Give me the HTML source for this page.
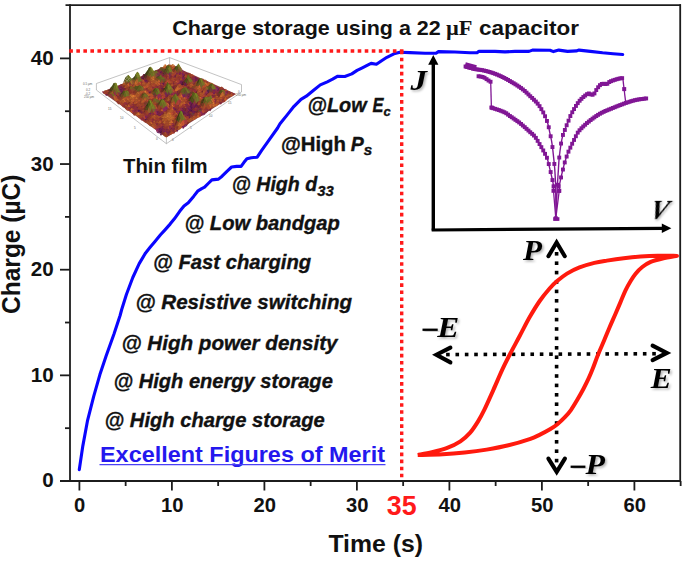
<!DOCTYPE html>
<html><head><meta charset="utf-8"><style>
html,body{margin:0;padding:0;background:#fff;}
svg{display:block;}
</style></head><body>
<svg width="685" height="563" viewBox="0 0 685 563">
<rect width="685" height="563" fill="#fff"/>
<defs><filter id="sh" x="-30%" y="-30%" width="160%" height="160%"><feDropShadow dx="1.6" dy="1.6" stdDeviation="0.9" flood-color="#000" flood-opacity="0.3"/></filter></defs>
<g stroke="#9a9a9a" stroke-width="0.6" fill="none">
<polyline points="96.4,83.5 169.6,57.6 241.5,84.6"/>
<line x1="169.6" y1="57.6" x2="169.6" y2="66"/>
<line x1="96.4" y1="83.5" x2="96.4" y2="90"/>
<line x1="241.5" y1="84.6" x2="241.5" y2="92"/>
<polyline points="96.4,90 166.4,143.7 241.5,92"/>
<line x1="166.4" y1="138" x2="166.4" y2="143.7"/>
</g>
<polygon points="170.0,64.5 236.0,94.0 166.5,137.5 102.0,92.0" fill="#8a3e38"/>
<g>
<path d="M170.0,65.0 L171.4,65.9 L170.0,65.0 L168.5,64.3Z" fill="#af462d"/>
<path d="M168.5,64.3 L170.0,65.0 L168.5,65.2 L167.0,66.0Z" fill="#a75624"/>
<path d="M171.4,65.9 L172.9,64.0 L171.4,65.0 L170.0,65.0Z" fill="#903f22"/>
<path d="M167.0,66.0 L168.5,65.2 L167.0,66.0 L165.6,64.3Z" fill="#ad4c29"/>
<path d="M170.0,65.0 L171.4,65.0 L169.9,65.7 L168.5,65.2Z" fill="#b15c26"/>
<path d="M172.9,64.0 L174.3,65.1 L172.8,65.9 L171.4,65.0Z" fill="#c26c2a"/>
<path d="M165.6,64.3 L167.0,66.0 L165.5,67.4 L164.1,64.7Z" fill="#cf6c2c"/>
<path d="M168.5,65.2 L169.9,65.7 L168.4,67.5 L167.0,66.0Z" fill="#ad5325"/>
<path d="M171.4,65.0 L172.8,65.9 L171.3,66.4 L169.9,65.7Z" fill="#c0682a"/>
<path d="M174.3,65.1 L175.7,66.8 L174.3,68.2 L172.8,65.9Z" fill="#b8532b"/>
<path d="M164.1,64.7 L165.5,67.4 L164.0,66.8 L162.6,68.1Z" fill="#ba6b29"/>
<path d="M167.0,66.0 L168.4,67.5 L167.0,67.0 L165.5,67.4Z" fill="#b86128"/>
<path d="M169.9,65.7 L171.3,66.4 L169.9,68.7 L168.4,67.5Z" fill="#9e4924"/>
<path d="M172.8,65.9 L174.3,68.2 L172.8,67.4 L171.3,66.4Z" fill="#d36e2d"/>
<path d="M175.7,66.8 L177.2,67.8 L175.7,67.5 L174.3,68.2Z" fill="#a34b25"/>
<path d="M162.6,68.1 L164.0,66.8 L162.6,67.2 L161.1,68.3Z" fill="#8b3e21"/>
<path d="M165.5,67.4 L167.0,67.0 L165.5,68.1 L164.0,66.8Z" fill="#a84c27"/>
<path d="M168.4,67.5 L169.9,68.7 L168.4,69.6 L167.0,67.0Z" fill="#a53834"/>
<path d="M171.3,66.4 L172.8,67.4 L171.3,69.0 L169.9,68.7Z" fill="#9e4b23"/>
<path d="M174.3,68.2 L175.7,67.5 L174.2,69.6 L172.8,67.4Z" fill="#802641"/>
<path d="M177.2,67.8 L178.6,67.8 L177.1,68.7 L175.7,67.5Z" fill="#93322f"/>
<path d="M161.1,68.3 L162.6,67.2 L161.1,68.4 L159.7,68.3Z" fill="#873424"/>
<path d="M164.0,66.8 L165.5,68.1 L164.0,67.7 L162.6,67.2Z" fill="#c76b2b"/>
<path d="M167.0,67.0 L168.4,69.6 L166.9,70.2 L165.5,68.1Z" fill="#b84d2e"/>
<path d="M169.9,68.7 L171.3,69.0 L169.8,69.4 L168.4,69.6Z" fill="#8c3227"/>
<path d="M172.8,67.4 L174.2,69.6 L172.7,69.2 L171.3,69.0Z" fill="#b65628"/>
<path d="M175.7,67.5 L177.1,68.7 L175.6,67.6 L174.2,69.6Z" fill="#9f4e22"/>
<path d="M178.6,67.8 L180.0,69.0 L178.6,66.6 L177.1,68.7Z" fill="#a64b26"/>
<path d="M159.7,68.3 L161.1,68.4 L159.6,68.4 L158.2,69.9Z" fill="#8c3e21"/>
<path d="M162.6,67.2 L164.0,67.7 L162.5,67.9 L161.1,68.4Z" fill="#a45123"/>
<path d="M165.5,68.1 L166.9,70.2 L165.4,69.7 L164.0,67.7Z" fill="#bf4e30"/>
<path d="M168.4,69.6 L169.8,69.4 L168.3,70.2 L166.9,70.2Z" fill="#7c2734"/>
<path d="M171.3,69.0 L172.7,69.2 L171.2,70.0 L169.8,69.4Z" fill="#963928"/>
<path d="M174.2,69.6 L175.6,67.6 L174.2,68.8 L172.7,69.2Z" fill="#782926"/>
<path d="M177.1,68.7 L178.6,66.6 L177.1,66.3 L175.6,67.6Z" fill="#5f3f23"/>
<path d="M180.0,69.0 L181.5,68.7 L180.0,66.3 L178.6,66.6Z" fill="#8c4b2a"/>
<path d="M158.2,69.9 L159.6,68.4 L158.1,70.9 L156.7,70.0Z" fill="#671c3e"/>
<path d="M161.1,68.4 L162.5,67.9 L161.0,67.0 L159.6,68.4Z" fill="#854a21"/>
<path d="M164.0,67.7 L165.4,69.7 L163.9,68.6 L162.5,67.9Z" fill="#af572b"/>
<path d="M166.9,70.2 L168.3,70.2 L166.9,69.5 L165.4,69.7Z" fill="#91312f"/>
<path d="M169.8,69.4 L171.2,70.0 L169.8,70.8 L168.3,70.2Z" fill="#8a2e2e"/>
<path d="M172.7,69.2 L174.2,68.8 L172.7,70.6 L171.2,70.0Z" fill="#883225"/>
<path d="M175.6,67.6 L177.1,66.3 L175.6,66.2 L174.2,68.8Z" fill="#4f4717"/>
<path d="M178.6,66.6 L180.0,66.3 L178.5,63.5 L177.1,66.3Z" fill="#585e1c"/>
<path d="M181.5,68.7 L182.9,70.5 L181.4,68.3 L180.0,66.3Z" fill="#9e5a2d"/>
<path d="M156.7,70.0 L158.1,70.9 L156.6,71.8 L155.2,70.8Z" fill="#882c38"/>
<path d="M159.6,68.4 L161.0,67.0 L159.6,69.5 L158.1,70.9Z" fill="#613019"/>
<path d="M162.5,67.9 L163.9,68.6 L162.5,68.7 L161.0,67.0Z" fill="#6c6324"/>
<path d="M165.4,69.7 L166.9,69.5 L165.4,68.9 L163.9,68.6Z" fill="#8a4328"/>
<path d="M168.3,70.2 L169.8,70.8 L168.3,69.8 L166.9,69.5Z" fill="#8e2c41"/>
<path d="M171.2,70.0 L172.7,70.6 L171.2,70.4 L169.8,70.8Z" fill="#933727"/>
<path d="M174.2,68.8 L175.6,66.2 L174.1,69.4 L172.7,70.6Z" fill="#573216"/>
<path d="M177.1,66.3 L178.5,63.5 L177.0,65.8 L175.6,66.2Z" fill="#474c16"/>
<path d="M180.0,66.3 L181.4,68.3 L179.9,67.8 L178.5,63.5Z" fill="#767d25"/>
<path d="M182.9,70.5 L184.3,71.6 L182.9,72.4 L181.4,68.3Z" fill="#821f65"/>
<path d="M155.2,70.8 L156.6,71.8 L155.2,72.0 L153.7,71.0Z" fill="#8c2c3c"/>
<path d="M158.1,70.9 L159.6,69.5 L158.1,72.2 L156.6,71.8Z" fill="#5e193c"/>
<path d="M161.0,67.0 L162.5,68.7 L161.0,71.1 L159.6,69.5Z" fill="#654f20"/>
<path d="M163.9,68.6 L165.4,68.9 L163.9,69.9 L162.5,68.7Z" fill="#5f5b20"/>
<path d="M166.9,69.5 L168.3,69.8 L166.8,66.3 L165.4,68.9Z" fill="#6d5f20"/>
<path d="M169.8,70.8 L171.2,70.4 L169.7,69.6 L168.3,69.8Z" fill="#643d37"/>
<path d="M172.7,70.6 L174.1,69.4 L172.6,71.3 L171.2,70.4Z" fill="#7c2a2f"/>
<path d="M175.6,66.2 L177.0,65.8 L175.5,69.6 L174.1,69.4Z" fill="#434715"/>
<path d="M178.5,63.5 L179.9,67.8 L178.5,67.2 L177.0,65.8Z" fill="#747b24"/>
<path d="M181.4,68.3 L182.9,72.4 L181.4,71.4 L179.9,67.8Z" fill="#83632d"/>
<path d="M184.3,71.6 L185.8,72.8 L184.3,71.6 L182.9,72.4Z" fill="#95342c"/>
<path d="M153.7,71.0 L155.2,72.0 L153.7,71.9 L152.3,73.1Z" fill="#7e2a2a"/>
<path d="M156.6,71.8 L158.1,72.2 L156.6,70.4 L155.2,72.0Z" fill="#8d312a"/>
<path d="M159.6,69.5 L161.0,71.1 L159.5,72.6 L158.1,72.2Z" fill="#832c2d"/>
<path d="M162.5,68.7 L163.9,69.9 L162.4,71.5 L161.0,71.1Z" fill="#5c4723"/>
<path d="M165.4,68.9 L166.8,66.3 L165.3,69.3 L163.9,69.9Z" fill="#3f4314"/>
<path d="M168.3,69.8 L169.7,69.6 L168.2,65.1 L166.8,66.3Z" fill="#707723"/>
<path d="M171.2,70.4 L172.6,71.3 L171.1,68.8 L169.7,69.6Z" fill="#756023"/>
<path d="M174.1,69.4 L175.5,69.6 L174.1,72.5 L172.6,71.3Z" fill="#793922"/>
<path d="M177.0,65.8 L178.5,67.2 L177.0,72.4 L175.5,69.6Z" fill="#50551a"/>
<path d="M179.9,67.8 L181.4,71.4 L179.9,71.3 L178.5,67.2Z" fill="#737626"/>
<path d="M182.9,72.4 L184.3,71.6 L182.8,73.1 L181.4,71.4Z" fill="#711c52"/>
<path d="M185.8,72.8 L187.2,72.9 L185.7,73.5 L184.3,71.6Z" fill="#7f2154"/>
<path d="M152.3,73.1 L153.7,71.9 L152.2,72.4 L150.8,72.9Z" fill="#6c1f3d"/>
<path d="M155.2,72.0 L156.6,70.4 L155.1,71.0 L153.7,71.9Z" fill="#5a2637"/>
<path d="M158.1,72.2 L159.5,72.6 L158.0,72.2 L156.6,70.4Z" fill="#8c2752"/>
<path d="M161.0,71.1 L162.4,71.5 L160.9,74.1 L159.5,72.6Z" fill="#62184a"/>
<path d="M163.9,69.9 L165.3,69.3 L163.8,72.8 L162.4,71.5Z" fill="#4c4b1c"/>
<path d="M166.8,66.3 L168.2,65.1 L166.7,68.3 L165.3,69.3Z" fill="#404413"/>
<path d="M169.7,69.6 L171.1,68.8 L169.7,66.2 L168.2,65.1Z" fill="#777f25"/>
<path d="M172.6,71.3 L174.1,72.5 L172.6,71.2 L171.1,68.8Z" fill="#a05b2d"/>
<path d="M175.5,69.6 L177.0,72.4 L175.5,73.2 L174.1,72.5Z" fill="#9a4129"/>
<path d="M178.5,67.2 L179.9,71.3 L178.4,73.6 L177.0,72.4Z" fill="#7f4923"/>
<path d="M181.4,71.4 L182.8,73.1 L181.3,73.3 L179.9,71.3Z" fill="#a33639"/>
<path d="M184.3,71.6 L185.7,73.5 L184.2,74.8 L182.8,73.1Z" fill="#943137"/>
<path d="M187.2,72.9 L188.7,72.8 L187.2,74.2 L185.7,73.5Z" fill="#79243d"/>
<path d="M150.8,72.9 L152.2,72.4 L150.7,74.6 L149.3,74.6Z" fill="#581542"/>
<path d="M153.7,71.9 L155.1,71.0 L153.6,71.4 L152.2,72.4Z" fill="#6c3621"/>
<path d="M156.6,70.4 L158.0,72.2 L156.5,70.2 L155.1,71.0Z" fill="#6d5f22"/>
<path d="M159.5,72.6 L160.9,74.1 L159.4,74.0 L158.0,72.2Z" fill="#872457"/>
<path d="M162.4,71.5 L163.8,72.8 L162.4,73.9 L160.9,74.1Z" fill="#762930"/>
<path d="M165.3,69.3 L166.7,68.3 L165.3,71.1 L163.8,72.8Z" fill="#3b3f12"/>
<path d="M168.2,65.1 L169.7,66.2 L168.2,68.7 L166.7,68.3Z" fill="#555a19"/>
<path d="M171.1,68.8 L172.6,71.2 L171.1,72.0 L169.7,66.2Z" fill="#747b25"/>
<path d="M174.1,72.5 L175.5,73.2 L174.0,73.0 L172.6,71.2Z" fill="#b5482f"/>
<path d="M177.0,72.4 L178.4,73.6 L176.9,74.5 L175.5,73.2Z" fill="#812547"/>
<path d="M179.9,71.3 L181.3,73.3 L179.8,76.2 L178.4,73.6Z" fill="#7b224a"/>
<path d="M182.8,73.1 L184.2,74.8 L182.8,76.3 L181.3,73.3Z" fill="#7b1e5e"/>
<path d="M185.7,73.5 L187.2,74.2 L185.7,75.3 L184.2,74.8Z" fill="#742044"/>
<path d="M188.7,72.8 L190.1,73.1 L188.6,74.4 L187.2,74.2Z" fill="#893226"/>
<path d="M149.3,74.6 L150.7,74.6 L149.3,72.1 L147.8,74.2Z" fill="#7f2839"/>
<path d="M152.2,72.4 L153.6,71.4 L152.2,72.2 L150.7,74.6Z" fill="#6f2f1b"/>
<path d="M155.1,71.0 L156.5,70.2 L155.1,71.2 L153.6,71.4Z" fill="#4f541a"/>
<path d="M158.0,72.2 L159.4,74.0 L158.0,73.2 L156.5,70.2Z" fill="#79583c"/>
<path d="M160.9,74.1 L162.4,73.9 L160.9,74.5 L159.4,74.0Z" fill="#752144"/>
<path d="M163.8,72.8 L165.3,71.1 L163.8,74.7 L162.4,73.9Z" fill="#482a2c"/>
<path d="M166.7,68.3 L168.2,68.7 L166.7,72.8 L165.3,71.1Z" fill="#505518"/>
<path d="M169.7,66.2 L171.1,72.0 L169.6,72.5 L168.2,68.7Z" fill="#777e25"/>
<path d="M172.6,71.2 L174.0,73.0 L172.5,73.7 L171.1,72.0Z" fill="#a85829"/>
<path d="M175.5,73.2 L176.9,74.5 L175.4,74.4 L174.0,73.0Z" fill="#b44b2d"/>
<path d="M178.4,73.6 L179.8,76.2 L178.4,74.8 L176.9,74.5Z" fill="#a63a31"/>
<path d="M181.3,73.3 L182.8,76.3 L181.3,75.1 L179.8,76.2Z" fill="#9b3b2a"/>
<path d="M184.2,74.8 L185.7,75.3 L184.2,75.7 L182.8,76.3Z" fill="#671a49"/>
<path d="M187.2,74.2 L188.6,74.4 L187.1,74.8 L185.7,75.3Z" fill="#832c2b"/>
<path d="M190.1,73.1 L191.5,74.4 L190.0,74.3 L188.6,74.4Z" fill="#a94d27"/>
<path d="M147.8,74.2 L149.3,72.1 L147.8,73.8 L146.3,75.8Z" fill="#441034"/>
<path d="M150.7,74.6 L152.2,72.2 L150.7,70.6 L149.3,72.1Z" fill="#72382a"/>
<path d="M153.6,71.4 L155.1,71.2 L153.6,70.8 L152.2,72.2Z" fill="#6b521d"/>
<path d="M156.5,70.2 L158.0,73.2 L156.5,72.9 L155.1,71.2Z" fill="#6b7223"/>
<path d="M159.4,74.0 L160.9,74.5 L159.4,74.7 L158.0,73.2Z" fill="#842a49"/>
<path d="M162.4,73.9 L163.8,74.7 L162.3,76.1 L160.9,74.5Z" fill="#7e2445"/>
<path d="M165.3,71.1 L166.7,72.8 L165.2,74.8 L163.8,74.7Z" fill="#5b4023"/>
<path d="M168.2,68.7 L169.6,72.5 L168.1,74.2 L166.7,72.8Z" fill="#5f651e"/>
<path d="M171.1,72.0 L172.5,73.7 L171.0,75.1 L169.6,72.5Z" fill="#7c4636"/>
<path d="M174.0,73.0 L175.4,74.4 L174.0,76.2 L172.5,73.7Z" fill="#a7402c"/>
<path d="M176.9,74.5 L178.4,74.8 L176.9,74.5 L175.4,74.4Z" fill="#a84b27"/>
<path d="M179.8,76.2 L181.3,75.1 L179.8,75.0 L178.4,74.8Z" fill="#7e2640"/>
<path d="M182.8,76.3 L184.2,75.7 L182.7,77.0 L181.3,75.1Z" fill="#5f1552"/>
<path d="M185.7,75.3 L187.1,74.8 L185.6,73.9 L184.2,75.7Z" fill="#913e23"/>
<path d="M188.6,74.4 L190.0,74.3 L188.5,74.6 L187.1,74.8Z" fill="#9c4525"/>
<path d="M191.5,74.4 L193.0,74.6 L191.5,74.3 L190.0,74.3Z" fill="#ab4d27"/>
<path d="M146.3,75.8 L147.8,73.8 L146.3,73.0 L144.9,76.5Z" fill="#451b31"/>
<path d="M149.3,72.1 L150.7,70.6 L149.2,69.8 L147.8,73.8Z" fill="#3e4114"/>
<path d="M152.2,72.2 L153.6,70.8 L152.1,70.3 L150.7,70.6Z" fill="#575d1c"/>
<path d="M155.1,71.2 L156.5,72.9 L155.0,74.5 L153.6,70.8Z" fill="#726828"/>
<path d="M158.0,73.2 L159.4,74.7 L157.9,76.6 L156.5,72.9Z" fill="#6b3946"/>
<path d="M160.9,74.5 L162.3,76.1 L160.8,76.5 L159.4,74.7Z" fill="#98313d"/>
<path d="M163.8,74.7 L165.2,74.8 L163.7,76.2 L162.3,76.1Z" fill="#712238"/>
<path d="M166.7,72.8 L168.1,74.2 L166.6,75.2 L165.2,74.8Z" fill="#78352e"/>
<path d="M169.6,72.5 L171.0,75.1 L169.6,77.3 L168.1,74.2Z" fill="#752a51"/>
<path d="M172.5,73.7 L174.0,76.2 L172.5,76.5 L171.0,75.1Z" fill="#ab422d"/>
<path d="M175.4,74.4 L176.9,74.5 L175.4,78.2 L174.0,76.2Z" fill="#712239"/>
<path d="M178.4,74.8 L179.8,75.0 L178.3,76.8 L176.9,74.5Z" fill="#9d382b"/>
<path d="M181.3,75.1 L182.7,77.0 L181.2,76.9 L179.8,75.0Z" fill="#a53739"/>
<path d="M184.2,75.7 L185.6,73.9 L184.1,77.3 L182.7,77.0Z" fill="#591837"/>
<path d="M187.1,74.8 L188.5,74.6 L187.1,76.5 L185.6,73.9Z" fill="#a13b2c"/>
<path d="M190.0,74.3 L191.5,74.3 L190.0,76.7 L188.5,74.6Z" fill="#9a3c28"/>
<path d="M193.0,74.6 L194.4,76.0 L192.9,76.1 L191.5,74.3Z" fill="#b2462f"/>
<path d="M144.9,76.5 L146.3,73.0 L144.8,74.2 L143.4,73.9Z" fill="#5a1b41"/>
<path d="M147.8,73.8 L149.2,69.8 L147.7,70.2 L146.3,73.0Z" fill="#3d4113"/>
<path d="M150.7,70.6 L152.1,70.3 L150.6,66.7 L149.2,69.8Z" fill="#5d631c"/>
<path d="M153.6,70.8 L155.0,74.5 L153.5,71.1 L152.1,70.3Z" fill="#747c25"/>
<path d="M156.5,72.9 L157.9,76.6 L156.4,76.0 L155.0,74.5Z" fill="#84493a"/>
<path d="M159.4,74.7 L160.8,76.5 L159.3,78.1 L157.9,76.6Z" fill="#731d51"/>
<path d="M162.3,76.1 L163.7,76.2 L162.2,76.6 L160.8,76.5Z" fill="#852c30"/>
<path d="M165.2,74.8 L166.6,75.2 L165.2,76.9 L163.7,76.2Z" fill="#862f27"/>
<path d="M168.1,74.2 L169.6,77.3 L168.1,75.7 L166.6,75.2Z" fill="#c3562e"/>
<path d="M171.0,75.1 L172.5,76.5 L171.0,77.5 L169.6,77.3Z" fill="#802933"/>
<path d="M174.0,76.2 L175.4,78.2 L173.9,77.5 L172.5,76.5Z" fill="#942e45"/>
<path d="M176.9,74.5 L178.3,76.8 L176.8,76.7 L175.4,78.2Z" fill="#9f4f22"/>
<path d="M179.8,75.0 L181.2,76.9 L179.7,76.1 L178.3,76.8Z" fill="#b35926"/>
<path d="M182.7,77.0 L184.1,77.3 L182.6,77.8 L181.2,76.9Z" fill="#721c54"/>
<path d="M185.6,73.9 L187.1,76.5 L185.6,77.7 L184.1,77.3Z" fill="#a54b26"/>
<path d="M188.5,74.6 L190.0,76.7 L188.5,77.7 L187.1,76.5Z" fill="#a2402a"/>
<path d="M191.5,74.3 L192.9,76.1 L191.4,77.5 L190.0,76.7Z" fill="#a04527"/>
<path d="M194.4,76.0 L195.8,77.1 L194.3,77.6 L192.9,76.1Z" fill="#8b2946"/>
<path d="M143.4,73.9 L144.8,74.2 L143.3,78.2 L141.9,76.8Z" fill="#651d35"/>
<path d="M146.3,73.0 L147.7,70.2 L146.2,72.3 L144.8,74.2Z" fill="#3a3d12"/>
<path d="M149.2,69.8 L150.6,66.7 L149.1,67.5 L147.7,70.2Z" fill="#414613"/>
<path d="M152.1,70.3 L153.5,71.1 L152.0,68.3 L150.6,66.7Z" fill="#7e8725"/>
<path d="M155.0,74.5 L156.4,76.0 L154.9,74.3 L153.5,71.1Z" fill="#727925"/>
<path d="M157.9,76.6 L159.3,78.1 L157.9,76.8 L156.4,76.0Z" fill="#872456"/>
<path d="M160.8,76.5 L162.2,76.6 L160.8,76.8 L159.3,78.1Z" fill="#7f2e23"/>
<path d="M163.7,76.2 L165.2,76.9 L163.7,78.0 L162.2,76.6Z" fill="#8c2e36"/>
<path d="M166.6,75.2 L168.1,75.7 L166.6,78.5 L165.2,76.9Z" fill="#862e29"/>
<path d="M169.6,77.3 L171.0,77.5 L169.5,78.5 L168.1,75.7Z" fill="#7b1e5c"/>
<path d="M172.5,76.5 L173.9,77.5 L172.4,77.4 L171.0,77.5Z" fill="#973829"/>
<path d="M175.4,78.2 L176.8,76.7 L175.3,77.7 L173.9,77.5Z" fill="#6a1c44"/>
<path d="M178.3,76.8 L179.7,76.1 L178.2,77.9 L176.8,76.7Z" fill="#862d2f"/>
<path d="M181.2,76.9 L182.6,77.8 L181.2,77.4 L179.7,76.1Z" fill="#a93d2f"/>
<path d="M184.1,77.3 L185.6,77.7 L184.1,78.9 L182.6,77.8Z" fill="#6f1b51"/>
<path d="M187.1,76.5 L188.5,77.7 L187.0,77.2 L185.6,77.7Z" fill="#9b3e28"/>
<path d="M190.0,76.7 L191.4,77.5 L189.9,78.3 L188.5,77.7Z" fill="#81283c"/>
<path d="M192.9,76.1 L194.3,77.6 L192.8,78.3 L191.4,77.5Z" fill="#8d2e36"/>
<path d="M195.8,77.1 L197.3,78.0 L195.8,79.5 L194.3,77.6Z" fill="#651754"/>
<path d="M141.9,76.8 L143.3,78.2 L141.9,79.1 L140.4,78.3Z" fill="#5c154e"/>
<path d="M144.8,74.2 L146.2,72.3 L144.8,76.2 L143.3,78.2Z" fill="#3d2815"/>
<path d="M147.7,70.2 L149.1,67.5 L147.7,71.8 L146.2,72.3Z" fill="#3a3e11"/>
<path d="M150.6,66.7 L152.0,68.3 L150.6,67.8 L149.1,67.5Z" fill="#6f771f"/>
<path d="M153.5,71.1 L154.9,74.3 L153.5,72.0 L152.0,68.3Z" fill="#7a8225"/>
<path d="M156.4,76.0 L157.9,76.8 L156.4,77.4 L154.9,74.3Z" fill="#833b49"/>
<path d="M159.3,78.1 L160.8,76.8 L159.3,78.5 L157.9,76.8Z" fill="#61174e"/>
<path d="M162.2,76.6 L163.7,78.0 L162.2,78.6 L160.8,76.8Z" fill="#993239"/>
<path d="M165.2,76.9 L166.6,78.5 L165.1,78.1 L163.7,78.0Z" fill="#9d3b2a"/>
<path d="M168.1,75.7 L169.5,78.5 L168.0,79.0 L166.6,78.5Z" fill="#a34429"/>
<path d="M171.0,77.5 L172.4,77.4 L170.9,78.3 L169.5,78.5Z" fill="#822c28"/>
<path d="M173.9,77.5 L175.3,77.7 L173.8,78.2 L172.4,77.4Z" fill="#95342a"/>
<path d="M176.8,76.7 L178.2,77.9 L176.8,79.0 L175.3,77.7Z" fill="#9b382b"/>
<path d="M179.7,76.1 L181.2,77.4 L179.7,79.5 L178.2,77.9Z" fill="#933628"/>
<path d="M182.6,77.8 L184.1,78.9 L182.6,80.0 L181.2,77.4Z" fill="#791d5c"/>
<path d="M185.6,77.7 L187.0,77.2 L185.5,77.7 L184.1,78.9Z" fill="#7f2f22"/>
<path d="M188.5,77.7 L189.9,78.3 L188.4,78.3 L187.0,77.2Z" fill="#973238"/>
<path d="M191.4,77.5 L192.8,78.3 L191.4,77.9 L189.9,78.3Z" fill="#943429"/>
<path d="M194.3,77.6 L195.8,79.5 L194.3,79.0 L192.8,78.3Z" fill="#86264e"/>
<path d="M197.3,78.0 L198.7,78.4 L197.2,78.7 L195.8,79.5Z" fill="#691c45"/>
<path d="M140.4,78.3 L141.9,79.1 L140.4,79.4 L139.0,79.0Z" fill="#59144d"/>
<path d="M143.3,78.2 L144.8,76.2 L143.3,79.3 L141.9,79.1Z" fill="#3b0c39"/>
<path d="M146.2,72.3 L147.7,71.8 L146.2,75.7 L144.8,76.2Z" fill="#3c3f13"/>
<path d="M149.1,67.5 L150.6,67.8 L149.1,72.1 L147.7,71.8Z" fill="#484d15"/>
<path d="M152.0,68.3 L153.5,72.0 L152.0,71.5 L150.6,67.8Z" fill="#7f8825"/>
<path d="M154.9,74.3 L156.4,77.4 L154.9,75.4 L153.5,72.0Z" fill="#727925"/>
<path d="M157.9,76.8 L159.3,78.5 L157.8,78.9 L156.4,77.4Z" fill="#822351"/>
<path d="M160.8,76.8 L162.2,78.6 L160.7,77.6 L159.3,78.5Z" fill="#90322b"/>
<path d="M163.7,78.0 L165.1,78.1 L163.6,78.7 L162.2,78.6Z" fill="#79253b"/>
<path d="M166.6,78.5 L168.0,79.0 L166.5,79.4 L165.1,78.1Z" fill="#852747"/>
<path d="M169.5,78.5 L170.9,78.3 L169.4,79.1 L168.0,79.0Z" fill="#7f2932"/>
<path d="M172.4,77.4 L173.8,78.2 L172.3,78.3 L170.9,78.3Z" fill="#a94e26"/>
<path d="M175.3,77.7 L176.8,79.0 L175.3,78.7 L173.8,78.2Z" fill="#aa472a"/>
<path d="M178.2,77.9 L179.7,79.5 L178.2,79.3 L176.8,79.0Z" fill="#98352c"/>
<path d="M181.2,77.4 L182.6,80.0 L181.1,78.3 L179.7,79.5Z" fill="#b35428"/>
<path d="M184.1,78.9 L185.5,77.7 L184.0,79.5 L182.6,80.0Z" fill="#601a3a"/>
<path d="M187.0,77.2 L188.4,78.3 L186.9,78.7 L185.5,77.7Z" fill="#ab4a29"/>
<path d="M189.9,78.3 L191.4,77.9 L189.9,79.4 L188.4,78.3Z" fill="#7a243f"/>
<path d="M192.8,78.3 L194.3,79.0 L192.8,79.6 L191.4,77.9Z" fill="#85264e"/>
<path d="M195.8,79.5 L197.2,78.7 L195.7,80.2 L194.3,79.0Z" fill="#58144c"/>
<path d="M198.7,78.4 L200.1,79.3 L198.6,78.8 L197.2,78.7Z" fill="#8b2c3d"/>
<path d="M139.0,79.0 L140.4,79.4 L138.9,79.9 L137.5,80.6Z" fill="#4d1144"/>
<path d="M141.9,79.1 L143.3,79.3 L141.8,79.5 L140.4,79.4Z" fill="#5d164c"/>
<path d="M144.8,76.2 L146.2,75.7 L144.7,78.1 L143.3,79.3Z" fill="#592522"/>
<path d="M147.7,71.8 L149.1,72.1 L147.6,75.3 L146.2,75.7Z" fill="#444915"/>
<path d="M150.6,67.8 L152.0,71.5 L150.5,74.6 L149.1,72.1Z" fill="#646b1e"/>
<path d="M153.5,72.0 L154.9,75.4 L153.4,76.1 L152.0,71.5Z" fill="#757c25"/>
<path d="M156.4,77.4 L157.8,78.9 L156.3,77.5 L154.9,75.4Z" fill="#954d39"/>
<path d="M159.3,78.5 L160.7,77.6 L159.2,76.3 L157.8,78.9Z" fill="#58312e"/>
<path d="M162.2,78.6 L163.6,78.7 L162.1,77.3 L160.7,77.6Z" fill="#763042"/>
<path d="M165.1,78.1 L166.5,79.4 L165.0,79.1 L163.6,78.7Z" fill="#9d3a2b"/>
<path d="M168.0,79.0 L169.4,79.1 L167.9,79.5 L166.5,79.4Z" fill="#8b2f2b"/>
<path d="M170.9,78.3 L172.3,78.3 L170.9,79.8 L169.4,79.1Z" fill="#903726"/>
<path d="M173.8,78.2 L175.3,78.7 L173.8,79.2 L172.3,78.3Z" fill="#aa4b28"/>
<path d="M176.8,79.0 L178.2,79.3 L176.7,79.3 L175.3,78.7Z" fill="#9d3b2a"/>
<path d="M179.7,79.5 L181.1,78.3 L179.6,80.1 L178.2,79.3Z" fill="#74233a"/>
<path d="M182.6,80.0 L184.0,79.5 L182.5,80.1 L181.1,78.3Z" fill="#7c2055"/>
<path d="M185.5,77.7 L186.9,78.7 L185.4,79.7 L184.0,79.5Z" fill="#923926"/>
<path d="M188.4,78.3 L189.9,79.4 L188.4,78.6 L186.9,78.7Z" fill="#a3402a"/>
<path d="M191.4,77.9 L192.8,79.6 L191.3,79.8 L189.9,79.4Z" fill="#96332e"/>
<path d="M194.3,79.0 L195.7,80.2 L194.2,80.1 L192.8,79.6Z" fill="#822548"/>
<path d="M197.2,78.7 L198.6,78.8 L197.1,80.5 L195.7,80.2Z" fill="#6e1f3e"/>
<path d="M200.1,79.3 L201.6,78.8 L200.1,80.1 L198.6,78.8Z" fill="#721d4f"/>
<path d="M137.5,80.6 L138.9,79.9 L137.4,78.1 L136.0,80.0Z" fill="#591549"/>
<path d="M140.4,79.4 L141.8,79.5 L140.3,79.4 L138.9,79.9Z" fill="#67194c"/>
<path d="M143.3,79.3 L144.7,78.1 L143.2,80.0 L141.8,79.5Z" fill="#5a1645"/>
<path d="M146.2,75.7 L147.6,75.3 L146.1,79.5 L144.7,78.1Z" fill="#5b2e26"/>
<path d="M149.1,72.1 L150.5,74.6 L149.0,77.0 L147.6,75.3Z" fill="#5b601d"/>
<path d="M152.0,71.5 L153.4,76.1 L151.9,77.0 L150.5,74.6Z" fill="#6b7222"/>
<path d="M154.9,75.4 L156.3,77.5 L154.8,79.0 L153.4,76.1Z" fill="#925b28"/>
<path d="M157.8,78.9 L159.2,76.3 L157.7,76.5 L156.3,77.5Z" fill="#4f471f"/>
<path d="M160.7,77.6 L162.1,77.3 L160.6,74.5 L159.2,76.3Z" fill="#5d631e"/>
<path d="M163.6,78.7 L165.0,79.1 L163.6,77.4 L162.1,77.3Z" fill="#8b472b"/>
<path d="M166.5,79.4 L167.9,79.5 L166.5,79.3 L165.0,79.1Z" fill="#9b3c29"/>
<path d="M169.4,79.1 L170.9,79.8 L169.4,80.2 L167.9,79.5Z" fill="#9f3f29"/>
<path d="M172.3,78.3 L173.8,79.2 L172.3,80.3 L170.9,79.8Z" fill="#a24b25"/>
<path d="M175.3,78.7 L176.7,79.3 L175.2,81.2 L173.8,79.2Z" fill="#97362a"/>
<path d="M178.2,79.3 L179.6,80.1 L178.1,79.5 L176.7,79.3Z" fill="#b04f29"/>
<path d="M181.1,78.3 L182.5,80.1 L181.0,80.6 L179.6,80.1Z" fill="#a54728"/>
<path d="M184.0,79.5 L185.4,79.7 L184.0,80.6 L182.5,80.1Z" fill="#7d263c"/>
<path d="M186.9,78.7 L188.4,78.6 L186.9,79.6 L185.4,79.7Z" fill="#7c2831"/>
<path d="M189.9,79.4 L191.3,79.8 L189.8,80.0 L188.4,78.6Z" fill="#761d59"/>
<path d="M192.8,79.6 L194.2,80.1 L192.7,80.4 L191.3,79.8Z" fill="#7a224a"/>
<path d="M195.7,80.2 L197.1,80.5 L195.7,81.8 L194.2,80.1Z" fill="#641753"/>
<path d="M198.6,78.8 L200.1,80.1 L198.6,81.6 L197.1,80.5Z" fill="#7a2344"/>
<path d="M201.6,78.8 L203.0,78.4 L201.5,80.9 L200.1,80.1Z" fill="#752533"/>
<path d="M136.0,80.0 L137.4,78.1 L135.9,77.5 L134.5,79.6Z" fill="#5c173f"/>
<path d="M138.9,79.9 L140.3,79.4 L138.8,76.6 L137.4,78.1Z" fill="#8f2f33"/>
<path d="M141.8,79.5 L143.2,80.0 L141.7,79.3 L140.3,79.4Z" fill="#882b3a"/>
<path d="M144.7,78.1 L146.1,79.5 L144.6,81.0 L143.2,80.0Z" fill="#7f2838"/>
<path d="M147.6,75.3 L149.0,77.0 L147.5,80.1 L146.1,79.5Z" fill="#7e3d1f"/>
<path d="M150.5,74.6 L151.9,77.0 L150.4,78.3 L149.0,77.0Z" fill="#8c5e23"/>
<path d="M153.4,76.1 L154.8,79.0 L153.3,78.1 L151.9,77.0Z" fill="#c8752d"/>
<path d="M156.3,77.5 L157.7,76.5 L156.3,77.8 L154.8,79.0Z" fill="#5e431a"/>
<path d="M159.2,76.3 L160.6,74.5 L159.2,76.4 L157.7,76.5Z" fill="#4c5118"/>
<path d="M162.1,77.3 L163.6,77.4 L162.1,77.1 L160.6,74.5Z" fill="#707724"/>
<path d="M165.0,79.1 L166.5,79.3 L165.0,79.0 L163.6,77.4Z" fill="#9d442c"/>
<path d="M167.9,79.5 L169.4,80.2 L167.9,79.8 L166.5,79.3Z" fill="#b35229"/>
<path d="M170.9,79.8 L172.3,80.3 L170.8,81.2 L169.4,80.2Z" fill="#983829"/>
<path d="M173.8,79.2 L175.2,81.2 L173.7,81.6 L172.3,80.3Z" fill="#ac452c"/>
<path d="M176.7,79.3 L178.1,79.5 L176.6,80.6 L175.2,81.2Z" fill="#934521"/>
<path d="M179.6,80.1 L181.0,80.6 L179.6,82.0 L178.1,79.5Z" fill="#912d41"/>
<path d="M182.5,80.1 L184.0,80.6 L182.5,81.6 L181.0,80.6Z" fill="#83283c"/>
<path d="M185.4,79.7 L186.9,79.6 L185.4,79.5 L184.0,80.6Z" fill="#752733"/>
<path d="M188.4,78.6 L189.8,80.0 L188.3,78.0 L186.9,79.6Z" fill="#6f4928"/>
<path d="M191.3,79.8 L192.7,80.4 L191.2,79.0 L189.8,80.0Z" fill="#742e3d"/>
<path d="M194.2,80.1 L195.7,81.8 L194.2,80.8 L192.7,80.4Z" fill="#922d43"/>
<path d="M197.1,80.5 L198.6,81.6 L197.1,81.6 L195.7,81.8Z" fill="#752049"/>
<path d="M200.1,80.1 L201.5,80.9 L200.0,81.5 L198.6,81.6Z" fill="#77233f"/>
<path d="M203.0,78.4 L204.4,79.8 L202.9,80.0 L201.5,80.9Z" fill="#a35122"/>
<path d="M134.5,79.6 L135.9,77.5 L134.5,77.1 L133.0,79.4Z" fill="#662826"/>
<path d="M137.4,78.1 L138.8,76.6 L137.4,75.0 L135.9,77.5Z" fill="#584a1b"/>
<path d="M140.3,79.4 L141.7,79.3 L140.3,77.2 L138.8,76.6Z" fill="#9f4a2d"/>
<path d="M143.2,80.0 L144.6,81.0 L143.2,79.8 L141.7,79.3Z" fill="#a53c2d"/>
<path d="M146.1,79.5 L147.5,80.1 L146.1,82.4 L144.6,81.0Z" fill="#67194c"/>
<path d="M149.0,77.0 L150.4,78.3 L149.0,81.5 L147.5,80.1Z" fill="#8d3b23"/>
<path d="M151.9,77.0 L153.3,78.1 L151.9,79.5 L150.4,78.3Z" fill="#bd6929"/>
<path d="M154.8,79.0 L156.3,77.8 L154.8,80.2 L153.3,78.1Z" fill="#993e26"/>
<path d="M157.7,76.5 L159.2,76.4 L157.7,78.3 L156.3,77.8Z" fill="#51561a"/>
<path d="M160.6,74.5 L162.1,77.1 L160.6,77.9 L159.2,76.4Z" fill="#676d20"/>
<path d="M163.6,77.4 L165.0,79.0 L163.5,79.3 L162.1,77.1Z" fill="#6a7122"/>
<path d="M166.5,79.3 L167.9,79.8 L166.4,80.0 L165.0,79.0Z" fill="#a3452a"/>
<path d="M169.4,80.2 L170.8,81.2 L169.3,80.7 L167.9,79.8Z" fill="#bb562b"/>
<path d="M172.3,80.3 L173.7,81.6 L172.2,82.0 L170.8,81.2Z" fill="#a03f2a"/>
<path d="M175.2,81.2 L176.6,80.6 L175.1,81.4 L173.7,81.6Z" fill="#883225"/>
<path d="M178.1,79.5 L179.6,82.0 L178.1,83.4 L176.6,80.6Z" fill="#a83a32"/>
<path d="M181.0,80.6 L182.5,81.6 L181.0,83.8 L179.6,82.0Z" fill="#6c1a50"/>
<path d="M184.0,80.6 L185.4,79.5 L183.9,81.1 L182.5,81.6Z" fill="#631c39"/>
<path d="M186.9,79.6 L188.3,78.0 L186.8,77.7 L185.4,79.5Z" fill="#4c5018"/>
<path d="M189.8,80.0 L191.2,79.0 L189.7,77.6 L188.3,78.0Z" fill="#60651f"/>
<path d="M192.7,80.4 L194.2,80.8 L192.7,80.7 L191.2,79.0Z" fill="#78324e"/>
<path d="M195.7,81.8 L197.1,81.6 L195.6,81.7 L194.2,80.8Z" fill="#771e55"/>
<path d="M198.6,81.6 L200.0,81.5 L198.5,83.3 L197.1,81.6Z" fill="#5c154f"/>
<path d="M201.5,80.9 L202.9,80.0 L201.4,81.0 L200.0,81.5Z" fill="#7a292a"/>
<path d="M204.4,79.8 L205.9,79.7 L204.4,81.0 L202.9,80.0Z" fill="#9b3f27"/>
<path d="M133.0,79.4 L134.5,77.1 L133.0,77.9 L131.6,80.8Z" fill="#5a2a18"/>
<path d="M135.9,77.5 L137.4,75.0 L135.9,73.7 L134.5,77.1Z" fill="#444815"/>
<path d="M138.8,76.6 L140.3,77.2 L138.8,73.2 L137.4,75.0Z" fill="#676d20"/>
<path d="M141.7,79.3 L143.2,79.8 L141.7,79.5 L140.3,77.2Z" fill="#a84c2e"/>
<path d="M144.6,81.0 L146.1,82.4 L144.6,82.1 L143.2,79.8Z" fill="#962b51"/>
<path d="M147.5,80.1 L149.0,81.5 L147.5,82.8 L146.1,82.4Z" fill="#7a2637"/>
<path d="M150.4,78.3 L151.9,79.5 L150.4,81.5 L149.0,81.5Z" fill="#9b5021"/>
<path d="M153.3,78.1 L154.8,80.2 L153.3,80.5 L151.9,79.5Z" fill="#d0772e"/>
<path d="M156.3,77.8 L157.7,78.3 L156.2,80.4 L154.8,80.2Z" fill="#834d1e"/>
<path d="M159.2,76.4 L160.6,77.9 L159.1,79.4 L157.7,78.3Z" fill="#5b611d"/>
<path d="M162.1,77.1 L163.5,79.3 L162.0,79.7 L160.6,77.9Z" fill="#686e21"/>
<path d="M165.0,79.0 L166.4,80.0 L164.9,80.4 L163.5,79.3Z" fill="#6d5625"/>
<path d="M167.9,79.8 L169.3,80.7 L167.8,81.2 L166.4,80.0Z" fill="#b25129"/>
<path d="M170.8,81.2 L172.2,82.0 L170.7,82.1 L169.3,80.7Z" fill="#af492c"/>
<path d="M173.7,81.6 L175.1,81.4 L173.7,83.1 L172.2,82.0Z" fill="#832b31"/>
<path d="M176.6,80.6 L178.1,83.4 L176.6,82.5 L175.1,81.4Z" fill="#c3562e"/>
<path d="M179.6,82.0 L181.0,83.8 L179.5,83.6 L178.1,83.4Z" fill="#7c224c"/>
<path d="M182.5,81.6 L183.9,81.1 L182.4,83.8 L181.0,83.8Z" fill="#4f133f"/>
<path d="M185.4,79.5 L186.8,77.7 L185.3,80.4 L183.9,81.1Z" fill="#404415"/>
<path d="M188.3,78.0 L189.7,77.6 L188.2,74.3 L186.8,77.7Z" fill="#5a601b"/>
<path d="M191.2,79.0 L192.7,80.7 L191.2,79.6 L189.7,77.6Z" fill="#747b25"/>
<path d="M194.2,80.8 L195.6,81.7 L194.1,82.4 L192.7,80.7Z" fill="#84254e"/>
<path d="M197.1,81.6 L198.5,83.3 L197.0,82.4 L195.6,81.7Z" fill="#952f43"/>
<path d="M200.0,81.5 L201.4,81.0 L199.9,83.1 L198.5,83.3Z" fill="#581542"/>
<path d="M202.9,80.0 L204.4,81.0 L202.9,82.5 L201.4,81.0Z" fill="#96342d"/>
<path d="M205.9,79.7 L207.3,81.3 L205.8,81.7 L204.4,81.0Z" fill="#b25228"/>
<path d="M131.6,80.8 L133.0,77.9 L131.5,79.2 L130.1,78.4Z" fill="#5e2f36"/>
<path d="M134.5,77.1 L135.9,73.7 L134.4,76.7 L133.0,77.9Z" fill="#383c12"/>
<path d="M137.4,75.0 L138.8,73.2 L137.3,71.7 L135.9,73.7Z" fill="#585e1a"/>
<path d="M140.3,77.2 L141.7,79.5 L140.2,77.8 L138.8,73.2Z" fill="#747b25"/>
<path d="M143.2,79.8 L144.6,82.1 L143.1,81.2 L141.7,79.5Z" fill="#cc5f2e"/>
<path d="M146.1,82.4 L147.5,82.8 L146.0,82.6 L144.6,82.1Z" fill="#7d2349"/>
<path d="M149.0,81.5 L150.4,81.5 L148.9,81.5 L147.5,82.8Z" fill="#8e3e22"/>
<path d="M151.9,79.5 L153.3,80.5 L151.8,81.4 L150.4,81.5Z" fill="#ae6126"/>
<path d="M154.8,80.2 L156.2,80.4 L154.7,81.0 L153.3,80.5Z" fill="#b56027"/>
<path d="M157.7,78.3 L159.1,79.4 L157.6,81.2 L156.2,80.4Z" fill="#834f20"/>
<path d="M160.6,77.9 L162.0,79.7 L160.5,82.7 L159.1,79.4Z" fill="#635f24"/>
<path d="M163.5,79.3 L164.9,80.4 L163.4,82.7 L162.0,79.7Z" fill="#68562c"/>
<path d="M166.4,80.0 L167.8,81.2 L166.3,80.9 L164.9,80.4Z" fill="#8e5226"/>
<path d="M169.3,80.7 L170.7,82.1 L169.3,83.2 L167.8,81.2Z" fill="#b14d2b"/>
<path d="M172.2,82.0 L173.7,83.1 L172.2,83.3 L170.7,82.1Z" fill="#a53e2c"/>
<path d="M175.1,81.4 L176.6,82.5 L175.1,82.8 L173.7,83.1Z" fill="#a34d24"/>
<path d="M178.1,83.4 L179.5,83.6 L178.0,84.3 L176.6,82.5Z" fill="#751d57"/>
<path d="M181.0,83.8 L182.4,83.8 L180.9,84.6 L179.5,83.6Z" fill="#5b144f"/>
<path d="M183.9,81.1 L185.3,80.4 L183.8,81.6 L182.4,83.8Z" fill="#532e1e"/>
<path d="M186.8,77.7 L188.2,74.3 L186.8,78.2 L185.3,80.4Z" fill="#353810"/>
<path d="M189.7,77.6 L191.2,79.6 L189.7,78.6 L188.2,74.3Z" fill="#7a8225"/>
<path d="M192.7,80.7 L194.1,82.4 L192.6,81.1 L191.2,79.6Z" fill="#76652f"/>
<path d="M195.6,81.7 L197.0,82.4 L195.5,82.9 L194.1,82.4Z" fill="#8d2f31"/>
<path d="M198.5,83.3 L199.9,83.1 L198.5,81.7 L197.0,82.4Z" fill="#7c2349"/>
<path d="M201.4,81.0 L202.9,82.5 L201.4,80.7 L199.9,83.1Z" fill="#933b25"/>
<path d="M204.4,81.0 L205.8,81.7 L204.3,81.5 L202.9,82.5Z" fill="#984125"/>
<path d="M207.3,81.3 L208.7,82.0 L207.2,83.0 L205.8,81.7Z" fill="#933231"/>
<path d="M130.1,78.4 L131.5,79.2 L130.0,77.1 L128.6,77.5Z" fill="#636920"/>
<path d="M133.0,77.9 L134.4,76.7 L132.9,79.4 L131.5,79.2Z" fill="#474b17"/>
<path d="M135.9,73.7 L137.3,71.7 L135.8,74.2 L134.4,76.7Z" fill="#373b10"/>
<path d="M138.8,73.2 L140.2,77.8 L138.7,76.6 L137.3,71.7Z" fill="#7b8425"/>
<path d="M141.7,79.5 L143.1,81.2 L141.6,81.5 L140.2,77.8Z" fill="#955e2c"/>
<path d="M144.6,82.1 L146.0,82.6 L144.5,82.5 L143.1,81.2Z" fill="#a7402d"/>
<path d="M147.5,82.8 L148.9,81.5 L147.4,83.2 L146.0,82.6Z" fill="#78272e"/>
<path d="M150.4,81.5 L151.8,81.4 L150.3,83.7 L148.9,81.5Z" fill="#9b3d28"/>
<path d="M153.3,80.5 L154.7,81.0 L153.2,84.0 L151.8,81.4Z" fill="#a95026"/>
<path d="M156.2,80.4 L157.6,81.2 L156.1,82.1 L154.7,81.0Z" fill="#bd6429"/>
<path d="M159.1,79.4 L160.5,82.7 L159.0,82.3 L157.6,81.2Z" fill="#c9642b"/>
<path d="M162.0,79.7 L163.4,82.7 L161.9,83.3 L160.5,82.7Z" fill="#924327"/>
<path d="M164.9,80.4 L166.3,80.9 L164.9,82.5 L163.4,82.7Z" fill="#753a20"/>
<path d="M167.8,81.2 L169.3,83.2 L167.8,83.2 L166.3,80.9Z" fill="#c3542f"/>
<path d="M170.7,82.1 L172.2,83.3 L170.7,83.3 L169.3,83.2Z" fill="#af5326"/>
<path d="M173.7,83.1 L175.1,82.8 L173.6,84.8 L172.2,83.3Z" fill="#7f2738"/>
<path d="M176.6,82.5 L178.0,84.3 L176.5,84.9 L175.1,82.8Z" fill="#a03636"/>
<path d="M179.5,83.6 L180.9,84.6 L179.4,83.7 L178.0,84.3Z" fill="#90312f"/>
<path d="M182.4,83.8 L183.8,81.6 L182.3,86.2 L180.9,84.6Z" fill="#370b3a"/>
<path d="M185.3,80.4 L186.8,78.2 L185.3,82.2 L183.8,81.6Z" fill="#434715"/>
<path d="M188.2,74.3 L189.7,78.6 L188.2,79.5 L186.8,78.2Z" fill="#697020"/>
<path d="M191.2,79.6 L192.6,81.1 L191.1,81.9 L189.7,78.6Z" fill="#727924"/>
<path d="M194.1,82.4 L195.5,82.9 L194.0,83.5 L192.6,81.1Z" fill="#8b2751"/>
<path d="M197.0,82.4 L198.5,81.7 L197.0,81.3 L195.5,82.9Z" fill="#964621"/>
<path d="M199.9,83.1 L201.4,80.7 L199.9,80.6 L198.5,81.7Z" fill="#5c2d36"/>
<path d="M202.9,82.5 L204.3,81.5 L202.8,81.7 L201.4,80.7Z" fill="#6d2d48"/>
<path d="M205.8,81.7 L207.2,83.0 L205.7,82.8 L204.3,81.5Z" fill="#af442e"/>
<path d="M208.7,82.0 L210.2,82.7 L208.7,82.0 L207.2,83.0Z" fill="#a74e25"/>
<path d="M128.6,77.5 L130.0,77.1 L128.5,75.1 L127.1,76.0Z" fill="#62691e"/>
<path d="M131.5,79.2 L132.9,79.4 L131.4,78.4 L130.0,77.1Z" fill="#697022"/>
<path d="M134.4,76.7 L135.8,74.2 L134.3,79.7 L132.9,79.4Z" fill="#373a11"/>
<path d="M137.3,71.7 L138.7,76.6 L137.2,78.1 L135.8,74.2Z" fill="#7c8425"/>
<path d="M140.2,77.8 L141.6,81.5 L140.1,81.5 L138.7,76.6Z" fill="#727925"/>
<path d="M143.1,81.2 L144.5,82.5 L143.0,82.0 L141.6,81.5Z" fill="#c06229"/>
<path d="M146.0,82.6 L147.4,83.2 L145.9,83.6 L144.5,82.5Z" fill="#a2412a"/>
<path d="M148.9,81.5 L150.3,83.7 L148.8,83.9 L147.4,83.2Z" fill="#b95b27"/>
<path d="M151.8,81.4 L153.2,84.0 L151.7,83.2 L150.3,83.7Z" fill="#be6629"/>
<path d="M154.7,81.0 L156.1,82.1 L154.6,82.9 L153.2,84.0Z" fill="#a45d24"/>
<path d="M157.6,81.2 L159.0,82.3 L157.5,83.3 L156.1,82.1Z" fill="#ba6128"/>
<path d="M160.5,82.7 L161.9,83.3 L160.5,84.8 L159.0,82.3Z" fill="#8d2b43"/>
<path d="M163.4,82.7 L164.9,82.5 L163.4,85.8 L161.9,83.3Z" fill="#66194c"/>
<path d="M166.3,80.9 L167.8,83.2 L166.3,85.1 L164.9,82.5Z" fill="#ac442c"/>
<path d="M169.3,83.2 L170.7,83.3 L169.2,85.1 L167.8,83.2Z" fill="#92322e"/>
<path d="M172.2,83.3 L173.6,84.8 L172.1,83.3 L170.7,83.3Z" fill="#c46129"/>
<path d="M175.1,82.8 L176.5,84.9 L175.0,85.2 L173.6,84.8Z" fill="#9e3e29"/>
<path d="M178.0,84.3 L179.4,83.7 L177.9,84.5 L176.5,84.9Z" fill="#7d2a2a"/>
<path d="M180.9,84.6 L182.3,86.2 L180.9,84.5 L179.4,83.7Z" fill="#9e3146"/>
<path d="M183.8,81.6 L185.3,82.2 L183.8,85.0 L182.3,86.2Z" fill="#602123"/>
<path d="M186.8,78.2 L188.2,79.5 L186.7,83.6 L185.3,82.2Z" fill="#4c5018"/>
<path d="M189.7,78.6 L191.1,81.9 L189.6,82.6 L188.2,79.5Z" fill="#737a25"/>
<path d="M192.6,81.1 L194.0,83.5 L192.5,83.8 L191.1,81.9Z" fill="#97492e"/>
<path d="M195.5,82.9 L197.0,81.3 L195.5,82.6 L194.0,83.5Z" fill="#883f1e"/>
<path d="M198.5,81.7 L199.9,80.6 L198.4,81.7 L197.0,81.3Z" fill="#6b4521"/>
<path d="M201.4,80.7 L202.8,81.7 L201.3,78.2 L199.9,80.6Z" fill="#60661f"/>
<path d="M204.3,81.5 L205.7,82.8 L204.2,82.1 L202.8,81.7Z" fill="#9a4d29"/>
<path d="M207.2,83.0 L208.7,82.0 L207.2,83.6 L205.7,82.8Z" fill="#8c3426"/>
<path d="M210.2,82.7 L211.6,82.8 L210.1,83.2 L208.7,82.0Z" fill="#ac492a"/>
<path d="M127.1,76.0 L128.5,75.1 L127.1,77.4 L125.7,77.1Z" fill="#4f5518"/>
<path d="M130.0,77.1 L131.4,78.4 L130.0,78.6 L128.5,75.1Z" fill="#798225"/>
<path d="M132.9,79.4 L134.3,79.7 L132.9,80.7 L131.4,78.4Z" fill="#646a20"/>
<path d="M135.8,74.2 L137.2,78.1 L135.7,80.8 L134.3,79.7Z" fill="#565c1b"/>
<path d="M138.7,76.6 L140.1,81.5 L138.6,82.6 L137.2,78.1Z" fill="#727925"/>
<path d="M141.6,81.5 L143.0,82.0 L141.5,84.5 L140.1,81.5Z" fill="#963330"/>
<path d="M144.5,82.5 L145.9,83.6 L144.4,84.1 L143.0,82.0Z" fill="#bf582b"/>
<path d="M147.4,83.2 L148.8,83.9 L147.3,83.6 L145.9,83.6Z" fill="#af5526"/>
<path d="M150.3,83.7 L151.7,83.2 L150.3,84.9 L148.8,83.9Z" fill="#8a3226"/>
<path d="M153.2,84.0 L154.6,82.9 L153.2,84.4 L151.7,83.2Z" fill="#963d26"/>
<path d="M156.1,82.1 L157.5,83.3 L156.1,84.7 L154.6,82.9Z" fill="#bf6229"/>
<path d="M159.0,82.3 L160.5,84.8 L159.0,85.2 L157.5,83.3Z" fill="#c55e2b"/>
<path d="M161.9,83.3 L163.4,85.8 L161.9,85.3 L160.5,84.8Z" fill="#a9422c"/>
<path d="M164.9,82.5 L166.3,85.1 L164.8,86.6 L163.4,85.8Z" fill="#8c302c"/>
<path d="M167.8,83.2 L169.2,85.1 L167.7,85.2 L166.3,85.1Z" fill="#a54927"/>
<path d="M170.7,83.3 L172.1,83.3 L170.6,85.9 L169.2,85.1Z" fill="#893922"/>
<path d="M173.6,84.8 L175.0,85.2 L173.5,85.6 L172.1,83.3Z" fill="#9e333d"/>
<path d="M176.5,84.9 L177.9,84.5 L176.4,85.0 L175.0,85.2Z" fill="#7b2734"/>
<path d="M179.4,83.7 L180.9,84.5 L179.4,83.9 L177.9,84.5Z" fill="#b15a26"/>
<path d="M182.3,86.2 L183.8,85.0 L182.3,85.4 L180.9,84.5Z" fill="#6a1952"/>
<path d="M185.3,82.2 L186.7,83.6 L185.2,86.7 L183.8,85.0Z" fill="#651d49"/>
<path d="M188.2,79.5 L189.6,82.6 L188.1,84.2 L186.7,83.6Z" fill="#725120"/>
<path d="M191.1,81.9 L192.5,83.8 L191.0,83.6 L189.6,82.6Z" fill="#9d4e2a"/>
<path d="M194.0,83.5 L195.5,82.6 L194.0,85.5 L192.5,83.8Z" fill="#7b2732"/>
<path d="M197.0,81.3 L198.4,81.7 L196.9,82.8 L195.5,82.6Z" fill="#8c5521"/>
<path d="M199.9,80.6 L201.3,78.2 L199.8,79.0 L198.4,81.7Z" fill="#404414"/>
<path d="M202.8,81.7 L204.2,82.1 L202.7,80.8 L201.3,78.2Z" fill="#747b25"/>
<path d="M205.7,82.8 L207.2,83.6 L205.7,82.6 L204.2,82.1Z" fill="#c4602a"/>
<path d="M208.7,82.0 L210.1,83.2 L208.6,84.1 L207.2,83.6Z" fill="#b45c26"/>
<path d="M211.6,82.8 L213.0,83.6 L211.5,82.9 L210.1,83.2Z" fill="#bc6128"/>
<path d="M125.7,77.1 L127.1,77.4 L125.6,79.2 L124.2,80.1Z" fill="#474c16"/>
<path d="M128.5,75.1 L130.0,78.6 L128.5,79.0 L127.1,77.4Z" fill="#6e7621"/>
<path d="M131.4,78.4 L132.9,80.7 L131.4,80.1 L130.0,78.6Z" fill="#6c7322"/>
<path d="M134.3,79.7 L135.7,80.8 L134.3,83.4 L132.9,80.7Z" fill="#7d5223"/>
<path d="M137.2,78.1 L138.6,82.6 L137.2,84.2 L135.7,80.8Z" fill="#ac692a"/>
<path d="M140.1,81.5 L141.5,84.5 L140.1,84.3 L138.6,82.6Z" fill="#c3582d"/>
<path d="M143.0,82.0 L144.4,84.1 L143.0,84.7 L141.5,84.5Z" fill="#b15c26"/>
<path d="M145.9,83.6 L147.3,83.6 L145.9,84.8 L144.4,84.1Z" fill="#9f4924"/>
<path d="M148.8,83.9 L150.3,84.9 L148.8,85.1 L147.3,83.6Z" fill="#b44f2b"/>
<path d="M151.7,83.2 L153.2,84.4 L151.7,85.8 L150.3,84.9Z" fill="#a34a25"/>
<path d="M154.6,82.9 L156.1,84.7 L154.6,87.1 L153.2,84.4Z" fill="#a6432a"/>
<path d="M157.5,83.3 L159.0,85.2 L157.5,86.0 L156.1,84.7Z" fill="#b45328"/>
<path d="M160.5,84.8 L161.9,85.3 L160.4,87.0 L159.0,85.2Z" fill="#82283f"/>
<path d="M163.4,85.8 L164.8,86.6 L163.3,86.2 L161.9,85.3Z" fill="#8b2a46"/>
<path d="M166.3,85.1 L167.7,85.2 L166.2,85.9 L164.8,86.6Z" fill="#812f24"/>
<path d="M169.2,85.1 L170.6,85.9 L169.1,87.6 L167.7,85.2Z" fill="#81244c"/>
<path d="M172.1,83.3 L173.5,85.6 L172.0,86.7 L170.6,85.9Z" fill="#ac5126"/>
<path d="M175.0,85.2 L176.4,85.0 L175.0,85.4 L173.5,85.6Z" fill="#842c2e"/>
<path d="M177.9,84.5 L179.4,83.9 L177.9,85.0 L176.4,85.0Z" fill="#8a3624"/>
<path d="M180.9,84.5 L182.3,85.4 L180.8,85.5 L179.4,83.9Z" fill="#bd562c"/>
<path d="M183.8,85.0 L185.2,86.7 L183.7,85.9 L182.3,85.4Z" fill="#9f3632"/>
<path d="M186.7,83.6 L188.1,84.2 L186.6,86.0 L185.2,86.7Z" fill="#702529"/>
<path d="M189.6,82.6 L191.0,83.6 L189.5,85.5 L188.1,84.2Z" fill="#9a3e27"/>
<path d="M192.5,83.8 L194.0,85.5 L192.5,85.3 L191.0,83.6Z" fill="#bf532e"/>
<path d="M195.5,82.6 L196.9,82.8 L195.4,83.6 L194.0,85.5Z" fill="#925020"/>
<path d="M198.4,81.7 L199.8,79.0 L198.3,79.9 L196.9,82.8Z" fill="#3d4113"/>
<path d="M201.3,78.2 L202.7,80.8 L201.3,78.6 L199.8,79.0Z" fill="#717822"/>
<path d="M204.2,82.1 L205.7,82.6 L204.2,82.4 L202.7,80.8Z" fill="#7c6625"/>
<path d="M207.2,83.6 L208.6,84.1 L207.1,83.9 L205.7,82.6Z" fill="#ca672b"/>
<path d="M210.1,83.2 L211.5,82.9 L210.0,84.2 L208.6,84.1Z" fill="#a65523"/>
<path d="M213.0,83.6 L214.5,84.9 L213.0,84.6 L211.5,82.9Z" fill="#c2562e"/>
<path d="M124.2,80.1 L125.6,79.2 L124.1,81.8 L122.7,84.1Z" fill="#453312"/>
<path d="M127.1,77.4 L128.5,79.0 L127.0,81.6 L125.6,79.2Z" fill="#5f661e"/>
<path d="M130.0,78.6 L131.4,80.1 L129.9,82.0 L128.5,79.0Z" fill="#676e20"/>
<path d="M132.9,80.7 L134.3,83.4 L132.8,85.1 L131.4,80.1Z" fill="#965630"/>
<path d="M135.7,80.8 L137.2,84.2 L135.7,84.2 L134.3,83.4Z" fill="#c96c2b"/>
<path d="M138.6,82.6 L140.1,84.3 L138.6,85.4 L137.2,84.2Z" fill="#a54728"/>
<path d="M141.5,84.5 L143.0,84.7 L141.5,85.9 L140.1,84.3Z" fill="#94332d"/>
<path d="M144.4,84.1 L145.9,84.8 L144.4,85.4 L143.0,84.7Z" fill="#ab5126"/>
<path d="M147.3,83.6 L148.8,85.1 L147.3,84.8 L145.9,84.8Z" fill="#be6729"/>
<path d="M150.3,84.9 L151.7,85.8 L150.2,86.1 L148.8,85.1Z" fill="#a7452a"/>
<path d="M153.2,84.4 L154.6,87.1 L153.1,86.8 L151.7,85.8Z" fill="#b34b2c"/>
<path d="M156.1,84.7 L157.5,86.0 L156.0,86.7 L154.6,87.1Z" fill="#923e24"/>
<path d="M159.0,85.2 L160.4,87.0 L158.9,86.6 L157.5,86.0Z" fill="#a9442b"/>
<path d="M161.9,85.3 L163.3,86.2 L161.8,87.7 L160.4,87.0Z" fill="#822b30"/>
<path d="M164.8,86.6 L166.2,85.9 L164.7,86.2 L163.3,86.2Z" fill="#872e2b"/>
<path d="M167.7,85.2 L169.1,87.6 L167.6,87.0 L166.2,85.9Z" fill="#b54a2e"/>
<path d="M170.6,85.9 L172.0,86.7 L170.5,87.4 L169.1,87.6Z" fill="#802a2e"/>
<path d="M173.5,85.6 L175.0,85.4 L173.5,87.1 L172.0,86.7Z" fill="#7b292e"/>
<path d="M176.4,85.0 L177.9,85.0 L176.4,85.2 L175.0,85.4Z" fill="#82322b"/>
<path d="M179.4,83.9 L180.8,85.5 L179.3,86.7 L177.9,85.0Z" fill="#b25029"/>
<path d="M182.3,85.4 L183.7,85.9 L182.2,86.3 L180.8,85.5Z" fill="#aa4b28"/>
<path d="M185.2,86.7 L186.6,86.0 L185.1,86.0 L183.7,85.9Z" fill="#892d31"/>
<path d="M188.1,84.2 L189.5,85.5 L188.1,86.6 L186.6,86.0Z" fill="#9f4427"/>
<path d="M191.0,83.6 L192.5,85.3 L191.0,85.5 L189.5,85.5Z" fill="#b96328"/>
<path d="M194.0,85.5 L195.4,83.6 L193.9,85.7 L192.5,85.3Z" fill="#863622"/>
<path d="M196.9,82.8 L198.3,79.9 L196.8,83.6 L195.4,83.6Z" fill="#3e4214"/>
<path d="M199.8,79.0 L201.3,78.6 L199.8,78.3 L198.3,79.9Z" fill="#575d1a"/>
<path d="M202.7,80.8 L204.2,82.4 L202.7,80.9 L201.3,78.6Z" fill="#777f25"/>
<path d="M205.7,82.6 L207.1,83.9 L205.6,83.9 L204.2,82.4Z" fill="#db7b30"/>
<path d="M208.6,84.1 L210.0,84.2 L208.5,85.2 L207.1,83.9Z" fill="#b95c27"/>
<path d="M211.5,82.9 L213.0,84.6 L211.5,85.0 L210.0,84.2Z" fill="#c5692a"/>
<path d="M214.5,84.9 L215.9,85.8 L214.4,85.6 L213.0,84.6Z" fill="#a2382f"/>
<path d="M122.7,84.1 L124.1,81.8 L122.6,84.3 L121.2,84.1Z" fill="#651f2d"/>
<path d="M125.6,79.2 L127.0,81.6 L125.5,84.0 L124.1,81.8Z" fill="#725920"/>
<path d="M128.5,79.0 L129.9,82.0 L128.4,83.0 L127.0,81.6Z" fill="#60661f"/>
<path d="M131.4,80.1 L132.8,85.1 L131.3,83.9 L129.9,82.0Z" fill="#a7752b"/>
<path d="M134.3,83.4 L135.7,84.2 L134.2,84.0 L132.8,85.1Z" fill="#a55623"/>
<path d="M137.2,84.2 L138.6,85.4 L137.1,84.9 L135.7,84.2Z" fill="#bf5e28"/>
<path d="M140.1,84.3 L141.5,85.9 L140.0,86.1 L138.6,85.4Z" fill="#ae4f28"/>
<path d="M143.0,84.7 L144.4,85.4 L142.9,86.4 L141.5,85.9Z" fill="#9d4625"/>
<path d="M145.9,84.8 L147.3,84.8 L145.8,85.8 L144.4,85.4Z" fill="#a85524"/>
<path d="M148.8,85.1 L150.2,86.1 L148.7,87.0 L147.3,84.8Z" fill="#b24c2b"/>
<path d="M151.7,85.8 L153.1,86.8 L151.6,87.2 L150.2,86.1Z" fill="#9f3c2b"/>
<path d="M154.6,87.1 L156.0,86.7 L154.5,87.2 L153.1,86.8Z" fill="#7e2739"/>
<path d="M157.5,86.0 L158.9,86.6 L157.4,88.5 L156.0,86.7Z" fill="#84293b"/>
<path d="M160.4,87.0 L161.8,87.7 L160.3,88.4 L158.9,86.6Z" fill="#802350"/>
<path d="M163.3,86.2 L164.7,86.2 L163.2,88.1 L161.8,87.7Z" fill="#7f2b27"/>
<path d="M166.2,85.9 L167.6,87.0 L166.1,88.3 L164.7,86.2Z" fill="#9f382c"/>
<path d="M169.1,87.6 L170.5,87.4 L169.1,88.0 L167.6,87.0Z" fill="#7c2348"/>
<path d="M172.0,86.7 L173.5,87.1 L172.0,88.6 L170.5,87.4Z" fill="#7d263e"/>
<path d="M175.0,85.4 L176.4,85.2 L174.9,86.8 L173.5,87.1Z" fill="#7c2d22"/>
<path d="M177.9,85.0 L179.3,86.7 L177.8,85.5 L176.4,85.2Z" fill="#b0582a"/>
<path d="M180.8,85.5 L182.2,86.3 L180.7,87.0 L179.3,86.7Z" fill="#a85125"/>
<path d="M183.7,85.9 L185.1,86.0 L183.6,87.9 L182.2,86.3Z" fill="#993c28"/>
<path d="M186.6,86.0 L188.1,86.6 L186.6,88.7 L185.1,86.0Z" fill="#902e3d"/>
<path d="M189.5,85.5 L191.0,85.5 L189.5,86.5 L188.1,86.6Z" fill="#a14f22"/>
<path d="M192.5,85.3 L193.9,85.7 L192.4,86.2 L191.0,85.5Z" fill="#b85e27"/>
<path d="M195.4,83.6 L196.8,83.6 L195.3,86.4 L193.9,85.7Z" fill="#8e481f"/>
<path d="M198.3,79.9 L199.8,78.3 L198.3,83.8 L196.8,83.6Z" fill="#3a3e12"/>
<path d="M201.3,78.6 L202.7,80.9 L201.2,82.5 L199.8,78.3Z" fill="#7b8425"/>
<path d="M204.2,82.4 L205.6,83.9 L204.1,85.7 L202.7,80.9Z" fill="#926c29"/>
<path d="M207.1,83.9 L208.5,85.2 L207.0,86.3 L205.6,83.9Z" fill="#cf6b2c"/>
<path d="M210.0,84.2 L211.5,85.0 L210.0,85.3 L208.5,85.2Z" fill="#b55e27"/>
<path d="M213.0,84.6 L214.4,85.6 L212.9,85.7 L211.5,85.0Z" fill="#af4d2a"/>
<path d="M215.9,85.8 L217.3,88.3 L215.8,87.3 L214.4,85.6Z" fill="#92275d"/>
<path d="M121.2,84.1 L122.6,84.3 L121.1,86.0 L119.7,85.0Z" fill="#852e2a"/>
<path d="M124.1,81.8 L125.5,84.0 L124.0,85.4 L122.6,84.3Z" fill="#ae5625"/>
<path d="M127.0,81.6 L128.4,83.0 L126.9,85.1 L125.5,84.0Z" fill="#804422"/>
<path d="M129.9,82.0 L131.3,83.9 L129.8,86.6 L128.4,83.0Z" fill="#8c3e32"/>
<path d="M132.8,85.1 L134.2,84.0 L132.7,86.6 L131.3,83.9Z" fill="#852a38"/>
<path d="M135.7,84.2 L137.1,84.9 L135.6,85.4 L134.2,84.0Z" fill="#c4692a"/>
<path d="M138.6,85.4 L140.0,86.1 L138.5,86.4 L137.1,84.9Z" fill="#ae4b2a"/>
<path d="M141.5,85.9 L142.9,86.4 L141.4,87.9 L140.0,86.1Z" fill="#892c39"/>
<path d="M144.4,85.4 L145.8,85.8 L144.3,86.3 L142.9,86.4Z" fill="#a95624"/>
<path d="M147.3,84.8 L148.7,87.0 L147.2,88.0 L145.8,85.8Z" fill="#c05b2b"/>
<path d="M150.2,86.1 L151.6,87.2 L150.1,87.7 L148.7,87.0Z" fill="#a34627"/>
<path d="M153.1,86.8 L154.5,87.2 L153.0,88.7 L151.6,87.2Z" fill="#882c37"/>
<path d="M156.0,86.7 L157.4,88.5 L155.9,89.1 L154.5,87.2Z" fill="#97313d"/>
<path d="M158.9,86.6 L160.3,88.4 L158.8,88.5 L157.4,88.5Z" fill="#963928"/>
<path d="M161.8,87.7 L163.2,88.1 L161.7,90.6 L160.3,88.4Z" fill="#5f164e"/>
<path d="M164.7,86.2 L166.1,88.3 L164.7,88.0 L163.2,88.1Z" fill="#ad5027"/>
<path d="M167.6,87.0 L169.1,88.0 L167.6,89.1 L166.1,88.3Z" fill="#852b35"/>
<path d="M170.5,87.4 L172.0,88.6 L170.5,88.0 L169.1,88.0Z" fill="#9c3a2a"/>
<path d="M173.5,87.1 L174.9,86.8 L173.4,89.5 L172.0,88.6Z" fill="#671c3e"/>
<path d="M176.4,85.2 L177.8,85.5 L176.3,87.9 L174.9,86.8Z" fill="#853025"/>
<path d="M179.3,86.7 L180.7,87.0 L179.2,87.7 L177.8,85.5Z" fill="#ae442e"/>
<path d="M182.2,86.3 L183.6,87.9 L182.1,88.5 L180.7,87.0Z" fill="#b34e2b"/>
<path d="M185.1,86.0 L186.6,88.7 L185.1,88.2 L183.6,87.9Z" fill="#b95729"/>
<path d="M188.1,86.6 L189.5,86.5 L188.0,89.4 L186.6,88.7Z" fill="#73252d"/>
<path d="M191.0,85.5 L192.4,86.2 L190.9,88.2 L189.5,86.5Z" fill="#ab5026"/>
<path d="M193.9,85.7 L195.3,86.4 L193.8,85.7 L192.4,86.2Z" fill="#b75e27"/>
<path d="M196.8,83.6 L198.3,83.8 L196.8,85.7 L195.3,86.4Z" fill="#5a4819"/>
<path d="M199.8,78.3 L201.2,82.5 L199.7,84.8 L198.3,83.8Z" fill="#5c621c"/>
<path d="M202.7,80.9 L204.1,85.7 L202.6,85.8 L201.2,82.5Z" fill="#727925"/>
<path d="M205.6,83.9 L207.0,86.3 L205.5,88.5 L204.1,85.7Z" fill="#b7512b"/>
<path d="M208.5,85.2 L210.0,85.3 L208.5,86.3 L207.0,86.3Z" fill="#a34f23"/>
<path d="M211.5,85.0 L212.9,85.7 L211.4,85.2 L210.0,85.3Z" fill="#a94928"/>
<path d="M214.4,85.6 L215.8,87.3 L214.3,87.5 L212.9,85.7Z" fill="#8e294f"/>
<path d="M217.3,88.3 L218.8,88.5 L217.3,87.1 L215.8,87.3Z" fill="#6b1956"/>
<path d="M119.7,85.0 L121.1,86.0 L119.7,87.0 L118.3,85.9Z" fill="#872c36"/>
<path d="M122.6,84.3 L124.0,85.4 L122.6,86.9 L121.1,86.0Z" fill="#933a26"/>
<path d="M125.5,84.0 L126.9,85.1 L125.5,85.5 L124.0,85.4Z" fill="#a65124"/>
<path d="M128.4,83.0 L129.8,86.6 L128.3,86.1 L126.9,85.1Z" fill="#ca652b"/>
<path d="M131.3,83.9 L132.7,86.6 L131.2,87.0 L129.8,86.6Z" fill="#ac5126"/>
<path d="M134.2,84.0 L135.6,85.4 L134.1,87.3 L132.7,86.6Z" fill="#a45423"/>
<path d="M137.1,84.9 L138.5,86.4 L137.0,86.2 L135.6,85.4Z" fill="#c3662a"/>
<path d="M140.0,86.1 L141.4,87.9 L139.9,87.4 L138.5,86.4Z" fill="#a63c2e"/>
<path d="M142.9,86.4 L144.3,86.3 L142.8,86.7 L141.4,87.9Z" fill="#904420"/>
<path d="M145.8,85.8 L147.2,88.0 L145.7,88.8 L144.3,86.3Z" fill="#bb502d"/>
<path d="M148.7,87.0 L150.1,87.7 L148.6,87.2 L147.2,88.0Z" fill="#a55123"/>
<path d="M151.6,87.2 L153.0,88.7 L151.5,88.3 L150.1,87.7Z" fill="#ad492b"/>
<path d="M154.5,87.2 L155.9,89.1 L154.4,89.1 L153.0,88.7Z" fill="#9b3a2a"/>
<path d="M157.4,88.5 L158.8,88.5 L157.3,89.5 L155.9,89.1Z" fill="#712042"/>
<path d="M160.3,88.4 L161.7,90.6 L160.3,87.8 L158.8,88.5Z" fill="#b64c2d"/>
<path d="M163.2,88.1 L164.7,88.0 L163.2,89.6 L161.7,90.6Z" fill="#67202e"/>
<path d="M166.1,88.3 L167.6,89.1 L166.1,89.0 L164.7,88.0Z" fill="#892945"/>
<path d="M169.1,88.0 L170.5,88.0 L169.0,89.3 L167.6,89.1Z" fill="#71213c"/>
<path d="M172.0,88.6 L173.4,89.5 L171.9,89.4 L170.5,88.0Z" fill="#8b294a"/>
<path d="M174.9,86.8 L176.3,87.9 L174.8,89.7 L173.4,89.5Z" fill="#802c27"/>
<path d="M177.8,85.5 L179.2,87.7 L177.7,87.3 L176.3,87.9Z" fill="#bd6929"/>
<path d="M180.7,87.0 L182.1,88.5 L180.7,88.9 L179.2,87.7Z" fill="#b4522a"/>
<path d="M183.6,87.9 L185.1,88.2 L183.6,88.7 L182.1,88.5Z" fill="#923628"/>
<path d="M186.6,88.7 L188.0,89.4 L186.5,89.9 L185.1,88.2Z" fill="#771d59"/>
<path d="M189.5,86.5 L190.9,88.2 L189.4,90.3 L188.0,89.4Z" fill="#882f29"/>
<path d="M192.4,86.2 L193.8,85.7 L192.3,87.9 L190.9,88.2Z" fill="#83391f"/>
<path d="M195.3,86.4 L196.8,85.7 L195.3,87.0 L193.8,85.7Z" fill="#8c3f27"/>
<path d="M198.3,83.8 L199.7,84.8 L198.2,86.6 L196.8,85.7Z" fill="#6a531f"/>
<path d="M201.2,82.5 L202.6,85.8 L201.1,89.0 L199.7,84.8Z" fill="#6e6629"/>
<path d="M204.1,85.7 L205.5,88.5 L204.0,87.9 L202.6,85.8Z" fill="#c55032"/>
<path d="M207.0,86.3 L208.5,86.3 L207.0,87.7 L205.5,88.5Z" fill="#853821"/>
<path d="M210.0,85.3 L211.4,85.2 L209.9,84.5 L208.5,86.3Z" fill="#7a4b1f"/>
<path d="M212.9,85.7 L214.3,87.5 L212.8,83.9 L211.4,85.2Z" fill="#815c27"/>
<path d="M215.8,87.3 L217.3,87.1 L215.8,86.8 L214.3,87.5Z" fill="#7c253c"/>
<path d="M218.8,88.5 L220.2,87.2 L218.7,89.2 L217.3,87.1Z" fill="#58134f"/>
<path d="M118.3,85.9 L119.7,87.0 L118.2,88.0 L116.8,86.3Z" fill="#802547"/>
<path d="M121.1,86.0 L122.6,86.9 L121.1,89.0 L119.7,87.0Z" fill="#6e1b50"/>
<path d="M124.0,85.4 L125.5,85.5 L124.0,88.0 L122.6,86.9Z" fill="#832f24"/>
<path d="M126.9,85.1 L128.3,86.1 L126.9,87.6 L125.5,85.5Z" fill="#aa4a29"/>
<path d="M129.8,86.6 L131.2,87.0 L129.8,87.6 L128.3,86.1Z" fill="#953232"/>
<path d="M132.7,86.6 L134.1,87.3 L132.7,87.3 L131.2,87.0Z" fill="#9e4128"/>
<path d="M135.6,85.4 L137.0,86.2 L135.5,87.4 L134.1,87.3Z" fill="#9f4f22"/>
<path d="M138.5,86.4 L139.9,87.4 L138.4,87.4 L137.0,86.2Z" fill="#9a3433"/>
<path d="M141.4,87.9 L142.8,86.7 L141.3,87.7 L139.9,87.4Z" fill="#691c43"/>
<path d="M144.3,86.3 L145.7,88.8 L144.2,87.9 L142.8,86.7Z" fill="#d0672c"/>
<path d="M147.2,88.0 L148.6,87.2 L147.1,89.3 L145.7,88.8Z" fill="#7c2b26"/>
<path d="M150.1,87.7 L151.5,88.3 L150.0,88.4 L148.6,87.2Z" fill="#b95928"/>
<path d="M153.0,88.7 L154.4,89.1 L153.0,89.5 L151.5,88.3Z" fill="#943232"/>
<path d="M155.9,89.1 L157.3,89.5 L155.9,89.2 L154.4,89.1Z" fill="#92322d"/>
<path d="M158.8,88.5 L160.3,87.8 L158.8,90.1 L157.3,89.5Z" fill="#7a2927"/>
<path d="M161.7,90.6 L163.2,89.6 L161.7,89.0 L160.3,87.8Z" fill="#89274b"/>
<path d="M164.7,88.0 L166.1,89.0 L164.6,89.0 L163.2,89.6Z" fill="#8e3526"/>
<path d="M167.6,89.1 L169.0,89.3 L167.5,87.9 L166.1,89.0Z" fill="#6e2149"/>
<path d="M170.5,88.0 L171.9,89.4 L170.4,86.9 L169.0,89.3Z" fill="#a85025"/>
<path d="M173.4,89.5 L174.8,89.7 L173.3,89.5 L171.9,89.4Z" fill="#862b37"/>
<path d="M176.3,87.9 L177.7,87.3 L176.2,87.4 L174.8,89.7Z" fill="#924f1f"/>
<path d="M179.2,87.7 L180.7,88.9 L179.2,88.9 L177.7,87.3Z" fill="#cb662b"/>
<path d="M182.1,88.5 L183.6,88.7 L182.1,88.6 L180.7,88.9Z" fill="#9c4326"/>
<path d="M185.1,88.2 L186.5,89.9 L185.0,87.7 L183.6,88.7Z" fill="#b4512a"/>
<path d="M188.0,89.4 L189.4,90.3 L187.9,90.5 L186.5,89.9Z" fill="#661852"/>
<path d="M190.9,88.2 L192.3,87.9 L190.8,89.1 L189.4,90.3Z" fill="#752921"/>
<path d="M193.8,85.7 L195.3,87.0 L193.8,88.4 L192.3,87.9Z" fill="#7c4722"/>
<path d="M196.8,85.7 L198.2,86.6 L196.7,88.9 L195.3,87.0Z" fill="#a24e26"/>
<path d="M199.7,84.8 L201.1,89.0 L199.6,88.6 L198.2,86.6Z" fill="#ce632f"/>
<path d="M202.6,85.8 L204.0,87.9 L202.5,88.0 L201.1,89.0Z" fill="#a65223"/>
<path d="M205.5,88.5 L207.0,87.7 L205.5,87.1 L204.0,87.9Z" fill="#963c26"/>
<path d="M208.5,86.3 L209.9,84.5 L208.4,86.8 L207.0,87.7Z" fill="#59371a"/>
<path d="M211.4,85.2 L212.8,83.9 L211.3,83.6 L209.9,84.5Z" fill="#565c1b"/>
<path d="M214.3,87.5 L215.8,86.8 L214.3,85.9 L212.8,83.9Z" fill="#6f6f28"/>
<path d="M217.3,87.1 L218.7,89.2 L217.2,90.6 L215.8,86.8Z" fill="#7e1e63"/>
<path d="M220.2,87.2 L221.7,86.5 L220.1,88.1 L218.7,89.2Z" fill="#7a2f20"/>
<path d="M116.8,86.3 L118.2,88.0 L116.7,88.4 L115.3,88.4Z" fill="#79243d"/>
<path d="M119.7,87.0 L121.1,89.0 L119.6,88.9 L118.2,88.0Z" fill="#7e224f"/>
<path d="M122.6,86.9 L124.0,88.0 L122.5,89.3 L121.1,89.0Z" fill="#72223b"/>
<path d="M125.5,85.5 L126.9,87.6 L125.4,88.3 L124.0,88.0Z" fill="#a85024"/>
<path d="M128.3,86.1 L129.8,87.6 L128.3,86.8 L126.9,87.6Z" fill="#b25e26"/>
<path d="M131.2,87.0 L132.7,87.3 L131.2,87.4 L129.8,87.6Z" fill="#953d26"/>
<path d="M134.1,87.3 L135.5,87.4 L134.1,87.4 L132.7,87.3Z" fill="#9a3f27"/>
<path d="M137.0,86.2 L138.4,87.4 L137.0,87.2 L135.5,87.4Z" fill="#874625"/>
<path d="M139.9,87.4 L141.3,87.7 L139.9,86.5 L138.4,87.4Z" fill="#62482a"/>
<path d="M142.8,86.7 L144.2,87.9 L142.8,86.9 L141.3,87.7Z" fill="#9e5424"/>
<path d="M145.7,88.8 L147.1,89.3 L145.7,89.8 L144.2,87.9Z" fill="#932f3e"/>
<path d="M148.6,87.2 L150.0,88.4 L148.6,89.7 L147.1,89.3Z" fill="#a65323"/>
<path d="M151.5,88.3 L153.0,89.5 L151.5,89.8 L150.0,88.4Z" fill="#b5522a"/>
<path d="M154.4,89.1 L155.9,89.2 L154.4,89.7 L153.0,89.5Z" fill="#993f26"/>
<path d="M157.3,89.5 L158.8,90.1 L157.3,91.7 L155.9,89.2Z" fill="#7f2250"/>
<path d="M160.3,87.8 L161.7,89.0 L160.2,92.2 L158.8,90.1Z" fill="#892f2a"/>
<path d="M163.2,89.6 L164.6,89.0 L163.1,89.3 L161.7,89.0Z" fill="#8e3129"/>
<path d="M166.1,89.0 L167.5,87.9 L166.0,87.0 L164.6,89.0Z" fill="#534123"/>
<path d="M169.0,89.3 L170.4,86.9 L168.9,85.4 L167.5,87.9Z" fill="#4d5119"/>
<path d="M171.9,89.4 L173.3,89.5 L171.8,87.5 L170.4,86.9Z" fill="#b64f2e"/>
<path d="M174.8,89.7 L176.2,87.4 L174.7,90.4 L173.3,89.5Z" fill="#792c21"/>
<path d="M177.7,87.3 L179.2,88.9 L177.7,90.9 L176.2,87.4Z" fill="#d06a2c"/>
<path d="M180.7,88.9 L182.1,88.6 L180.6,89.9 L179.2,88.9Z" fill="#9c4127"/>
<path d="M183.6,88.7 L185.0,87.7 L183.5,88.1 L182.1,88.6Z" fill="#8a3c23"/>
<path d="M186.5,89.9 L187.9,90.5 L186.4,89.1 L185.0,87.7Z" fill="#773052"/>
<path d="M189.4,90.3 L190.8,89.1 L189.3,89.2 L187.9,90.5Z" fill="#691e3c"/>
<path d="M192.3,87.9 L193.8,88.4 L192.3,90.0 L190.8,89.1Z" fill="#793131"/>
<path d="M195.3,87.0 L196.7,88.9 L195.2,89.3 L193.8,88.4Z" fill="#9a4928"/>
<path d="M198.2,86.6 L199.6,88.6 L198.1,89.5 L196.7,88.9Z" fill="#ba6128"/>
<path d="M201.1,89.0 L202.5,88.0 L201.0,89.6 L199.6,88.6Z" fill="#892f2b"/>
<path d="M204.0,87.9 L205.5,87.1 L204.0,88.8 L202.5,88.0Z" fill="#953f25"/>
<path d="M207.0,87.7 L208.4,86.8 L206.9,86.6 L205.5,87.1Z" fill="#874e22"/>
<path d="M209.9,84.5 L211.3,83.6 L209.8,86.3 L208.4,86.8Z" fill="#474b16"/>
<path d="M212.8,83.9 L214.3,85.9 L212.8,84.1 L211.3,83.6Z" fill="#727a23"/>
<path d="M215.8,86.8 L217.2,90.6 L215.7,89.2 L214.3,85.9Z" fill="#854944"/>
<path d="M218.7,89.2 L220.1,88.1 L218.6,90.4 L217.2,90.6Z" fill="#531441"/>
<path d="M221.7,86.5 L223.1,87.5 L221.6,89.9 L220.1,88.1Z" fill="#9b3e28"/>
<path d="M115.3,88.4 L116.7,88.4 L115.2,89.3 L113.8,87.6Z" fill="#5a1450"/>
<path d="M118.2,88.0 L119.6,88.9 L118.1,90.6 L116.7,88.4Z" fill="#581350"/>
<path d="M121.1,89.0 L122.5,89.3 L121.0,90.2 L119.6,88.9Z" fill="#5c154f"/>
<path d="M124.0,88.0 L125.4,88.3 L123.9,90.3 L122.5,89.3Z" fill="#6c1d43"/>
<path d="M126.9,87.6 L128.3,86.8 L126.8,88.1 L125.4,88.3Z" fill="#8e4120"/>
<path d="M129.8,87.6 L131.2,87.4 L129.7,87.2 L128.3,86.8Z" fill="#a44728"/>
<path d="M132.7,87.3 L134.1,87.4 L132.6,87.3 L131.2,87.4Z" fill="#8e4125"/>
<path d="M135.5,87.4 L137.0,87.2 L135.5,85.8 L134.1,87.4Z" fill="#845420"/>
<path d="M138.4,87.4 L139.9,86.5 L138.4,86.0 L137.0,87.2Z" fill="#51561a"/>
<path d="M141.3,87.7 L142.8,86.9 L141.3,86.3 L139.9,86.5Z" fill="#595f1d"/>
<path d="M144.2,87.9 L145.7,89.8 L144.2,89.6 L142.8,86.9Z" fill="#af4332"/>
<path d="M147.1,89.3 L148.6,89.7 L147.1,90.9 L145.7,89.8Z" fill="#8c2f2e"/>
<path d="M150.0,88.4 L151.5,89.8 L150.0,91.5 L148.6,89.7Z" fill="#a34428"/>
<path d="M153.0,89.5 L154.4,89.7 L152.9,90.3 L151.5,89.8Z" fill="#a04626"/>
<path d="M155.9,89.2 L157.3,91.7 L155.8,91.9 L154.4,89.7Z" fill="#a73937"/>
<path d="M158.8,90.1 L160.2,92.2 L158.7,91.6 L157.3,91.7Z" fill="#8f2f36"/>
<path d="M161.7,89.0 L163.1,89.3 L161.6,91.9 L160.2,92.2Z" fill="#722820"/>
<path d="M164.6,89.0 L166.0,87.0 L164.5,88.2 L163.1,89.3Z" fill="#4b411a"/>
<path d="M167.5,87.9 L168.9,85.4 L167.4,82.1 L166.0,87.0Z" fill="#4a4f16"/>
<path d="M170.4,86.9 L171.8,87.5 L170.3,85.4 L168.9,85.4Z" fill="#6a7122"/>
<path d="M173.3,89.5 L174.7,90.4 L173.3,89.9 L171.8,87.5Z" fill="#c65430"/>
<path d="M176.2,87.4 L177.7,90.9 L176.2,91.7 L174.7,90.4Z" fill="#ca6d2c"/>
<path d="M179.2,88.9 L180.6,89.9 L179.1,90.2 L177.7,90.9Z" fill="#a75624"/>
<path d="M182.1,88.6 L183.5,88.1 L182.0,89.5 L180.6,89.9Z" fill="#7c3c20"/>
<path d="M185.0,87.7 L186.4,89.1 L184.9,87.8 L183.5,88.1Z" fill="#656320"/>
<path d="M187.9,90.5 L189.3,89.2 L187.8,89.2 L186.4,89.1Z" fill="#59422e"/>
<path d="M190.8,89.1 L192.3,90.0 L190.8,90.6 L189.3,89.2Z" fill="#9a3432"/>
<path d="M193.8,88.4 L195.2,89.3 L193.7,90.5 L192.3,90.0Z" fill="#872e2d"/>
<path d="M196.7,88.9 L198.1,89.5 L196.6,90.9 L195.2,89.3Z" fill="#a44329"/>
<path d="M199.6,88.6 L201.0,89.6 L199.5,90.4 L198.1,89.5Z" fill="#b55926"/>
<path d="M202.5,88.0 L204.0,88.8 L202.5,90.8 L201.0,89.6Z" fill="#a14825"/>
<path d="M205.5,87.1 L206.9,86.6 L205.4,87.5 L204.0,88.8Z" fill="#7a4c1d"/>
<path d="M208.4,86.8 L209.8,86.3 L208.3,89.3 L206.9,86.6Z" fill="#5b611e"/>
<path d="M211.3,83.6 L212.8,84.1 L211.3,86.9 L209.8,86.3Z" fill="#535819"/>
<path d="M214.3,85.9 L215.7,89.2 L214.2,89.3 L212.8,84.1Z" fill="#737a25"/>
<path d="M217.2,90.6 L218.6,90.4 L217.1,91.0 L215.7,89.2Z" fill="#5e1455"/>
<path d="M220.1,88.1 L221.6,89.9 L220.1,90.8 L218.6,90.4Z" fill="#8f312d"/>
<path d="M223.1,87.5 L224.5,89.5 L223.0,91.3 L221.6,89.9Z" fill="#8d2f33"/>
<path d="M113.8,87.6 L115.2,89.3 L113.8,88.1 L112.3,88.8Z" fill="#7c2345"/>
<path d="M116.7,88.4 L118.1,90.6 L116.6,86.4 L115.2,89.3Z" fill="#9d3a2a"/>
<path d="M119.6,88.9 L121.0,90.2 L119.5,89.2 L118.1,90.6Z" fill="#6f1f41"/>
<path d="M122.5,89.3 L123.9,90.3 L122.4,90.4 L121.0,90.2Z" fill="#711d4c"/>
<path d="M125.4,88.3 L126.8,88.1 L125.3,90.2 L123.9,90.3Z" fill="#772b21"/>
<path d="M128.3,86.8 L129.7,87.2 L128.2,90.2 L126.8,88.1Z" fill="#923b25"/>
<path d="M131.2,87.4 L132.6,87.3 L131.1,86.0 L129.7,87.2Z" fill="#75551f"/>
<path d="M134.1,87.4 L135.5,85.8 L134.0,88.3 L132.6,87.3Z" fill="#61441d"/>
<path d="M137.0,87.2 L138.4,86.0 L136.9,86.5 L135.5,85.8Z" fill="#595f1d"/>
<path d="M139.9,86.5 L141.3,86.3 L139.8,84.9 L138.4,86.0Z" fill="#5b611c"/>
<path d="M142.8,86.9 L144.2,89.6 L142.7,89.0 L141.3,86.3Z" fill="#727725"/>
<path d="M145.7,89.8 L147.1,90.9 L145.6,90.2 L144.2,89.6Z" fill="#a53f2c"/>
<path d="M148.6,89.7 L150.0,91.5 L148.5,92.5 L147.1,90.9Z" fill="#943233"/>
<path d="M151.5,89.8 L152.9,90.3 L151.4,91.6 L150.0,91.5Z" fill="#913d24"/>
<path d="M154.4,89.7 L155.8,91.9 L154.3,91.7 L152.9,90.3Z" fill="#ae442e"/>
<path d="M157.3,91.7 L158.7,91.6 L157.2,90.5 L155.8,91.9Z" fill="#802a30"/>
<path d="M160.2,92.2 L161.6,91.9 L160.1,93.0 L158.7,91.6Z" fill="#631750"/>
<path d="M163.1,89.3 L164.5,88.2 L163.0,91.6 L161.6,91.9Z" fill="#58281e"/>
<path d="M166.0,87.0 L167.4,82.1 L165.9,86.2 L164.5,88.2Z" fill="#363a10"/>
<path d="M168.9,85.4 L170.3,85.4 L168.8,84.0 L167.4,82.1Z" fill="#7e8724"/>
<path d="M171.8,87.5 L173.3,89.9 L171.8,89.7 L170.3,85.4Z" fill="#727925"/>
<path d="M174.7,90.4 L176.2,91.7 L174.7,92.7 L173.3,89.9Z" fill="#a83a32"/>
<path d="M177.7,90.9 L179.1,90.2 L177.6,93.3 L176.2,91.7Z" fill="#732337"/>
<path d="M180.6,89.9 L182.0,89.5 L180.5,90.7 L179.1,90.2Z" fill="#963f25"/>
<path d="M183.5,88.1 L184.9,87.8 L183.4,88.1 L182.0,89.5Z" fill="#4d5119"/>
<path d="M186.4,89.1 L187.8,89.2 L186.4,87.6 L184.9,87.8Z" fill="#656b20"/>
<path d="M189.3,89.2 L190.8,90.6 L189.3,90.3 L187.8,89.2Z" fill="#79522c"/>
<path d="M192.3,90.0 L193.7,90.5 L192.2,91.7 L190.8,90.6Z" fill="#8c2e33"/>
<path d="M195.2,89.3 L196.6,90.9 L195.1,93.4 L193.7,90.5Z" fill="#8e2c3f"/>
<path d="M198.1,89.5 L199.5,90.4 L198.0,90.3 L196.6,90.9Z" fill="#b36027"/>
<path d="M201.0,89.6 L202.5,90.8 L201.0,92.0 L199.5,90.4Z" fill="#aa472a"/>
<path d="M204.0,88.8 L205.4,87.5 L203.9,89.5 L202.5,90.8Z" fill="#783c1b"/>
<path d="M206.9,86.6 L208.3,89.3 L206.8,90.6 L205.4,87.5Z" fill="#876428"/>
<path d="M209.8,86.3 L211.3,86.9 L209.8,90.5 L208.3,89.3Z" fill="#4d5219"/>
<path d="M212.8,84.1 L214.2,89.3 L212.7,90.0 L211.3,86.9Z" fill="#747b25"/>
<path d="M215.7,89.2 L217.1,91.0 L215.6,90.7 L214.2,89.3Z" fill="#882b51"/>
<path d="M218.6,90.4 L220.1,90.8 L218.6,91.5 L217.1,91.0Z" fill="#741f4c"/>
<path d="M221.6,89.9 L223.0,91.3 L221.5,91.1 L220.1,90.8Z" fill="#862843"/>
<path d="M224.5,89.5 L226.0,88.8 L224.5,90.6 L223.0,91.3Z" fill="#712529"/>
<path d="M112.3,88.8 L113.8,88.1 L112.3,88.4 L110.9,88.4Z" fill="#5f174a"/>
<path d="M115.2,89.3 L116.6,86.4 L115.2,87.8 L113.8,88.1Z" fill="#41282b"/>
<path d="M118.1,90.6 L119.5,89.2 L118.0,88.0 L116.6,86.4Z" fill="#672054"/>
<path d="M121.0,90.2 L122.4,90.4 L120.9,91.5 L119.5,89.2Z" fill="#611654"/>
<path d="M123.9,90.3 L125.3,90.2 L123.8,91.1 L122.4,90.4Z" fill="#701e47"/>
<path d="M126.8,88.1 L128.2,90.2 L126.7,91.2 L125.3,90.2Z" fill="#9e4028"/>
<path d="M129.7,87.2 L131.1,86.0 L129.6,88.3 L128.2,90.2Z" fill="#533715"/>
<path d="M132.6,87.3 L134.0,88.3 L132.5,88.5 L131.1,86.0Z" fill="#716c24"/>
<path d="M135.5,85.8 L136.9,86.5 L135.4,89.6 L134.0,88.3Z" fill="#53521a"/>
<path d="M138.4,86.0 L139.8,84.9 L138.3,87.8 L136.9,86.5Z" fill="#505519"/>
<path d="M141.3,86.3 L142.7,89.0 L141.2,87.1 L139.8,84.9Z" fill="#757d25"/>
<path d="M144.2,89.6 L145.6,90.2 L144.1,90.5 L142.7,89.0Z" fill="#85432d"/>
<path d="M147.1,90.9 L148.5,92.5 L147.0,91.4 L145.6,90.2Z" fill="#b84b2f"/>
<path d="M150.0,91.5 L151.4,91.6 L149.9,93.9 L148.5,92.5Z" fill="#691b49"/>
<path d="M152.9,90.3 L154.3,91.7 L152.8,91.9 L151.4,91.6Z" fill="#9e4128"/>
<path d="M155.8,91.9 L157.2,90.5 L155.7,89.2 L154.3,91.7Z" fill="#7c2c22"/>
<path d="M158.7,91.6 L160.1,93.0 L158.6,91.0 L157.2,90.5Z" fill="#ab3b32"/>
<path d="M161.6,91.9 L163.0,91.6 L161.5,92.6 L160.1,93.0Z" fill="#6f2236"/>
<path d="M164.5,88.2 L165.9,86.2 L164.4,90.1 L163.0,91.6Z" fill="#333610"/>
<path d="M167.4,82.1 L168.8,84.0 L167.4,86.8 L165.9,86.2Z" fill="#595f19"/>
<path d="M170.3,85.4 L171.8,89.7 L170.3,88.9 L168.8,84.0Z" fill="#7b8325"/>
<path d="M173.3,89.9 L174.7,92.7 L173.2,92.6 L171.8,89.7Z" fill="#b04d31"/>
<path d="M176.2,91.7 L177.6,93.3 L176.1,93.5 L174.7,92.7Z" fill="#953233"/>
<path d="M179.1,90.2 L180.5,90.7 L179.0,93.1 L177.6,93.3Z" fill="#813620"/>
<path d="M182.0,89.5 L183.4,88.1 L181.9,89.5 L180.5,90.7Z" fill="#504418"/>
<path d="M184.9,87.8 L186.4,87.6 L184.9,89.1 L183.4,88.1Z" fill="#5b611c"/>
<path d="M187.8,89.2 L189.3,90.3 L187.8,90.1 L186.4,87.6Z" fill="#727924"/>
<path d="M190.8,90.6 L192.2,91.7 L190.7,92.0 L189.3,90.3Z" fill="#883a3c"/>
<path d="M193.7,90.5 L195.1,93.4 L193.6,92.6 L192.2,91.7Z" fill="#ac3d30"/>
<path d="M196.6,90.9 L198.0,90.3 L196.5,93.8 L195.1,93.4Z" fill="#692229"/>
<path d="M199.5,90.4 L201.0,92.0 L199.5,92.6 L198.0,90.3Z" fill="#c3582d"/>
<path d="M202.5,90.8 L203.9,89.5 L202.4,92.9 L201.0,92.0Z" fill="#6f242a"/>
<path d="M205.4,87.5 L206.8,90.6 L205.3,92.8 L203.9,89.5Z" fill="#9e462d"/>
<path d="M208.3,89.3 L209.8,90.5 L208.3,94.8 L206.8,90.6Z" fill="#542445"/>
<path d="M211.3,86.9 L212.7,90.0 L211.2,92.9 L209.8,90.5Z" fill="#683f39"/>
<path d="M214.2,89.3 L215.6,90.7 L214.1,92.3 L212.7,90.0Z" fill="#752355"/>
<path d="M217.1,91.0 L218.6,91.5 L217.1,91.9 L215.6,90.7Z" fill="#862748"/>
<path d="M220.1,90.8 L221.5,91.1 L220.0,92.7 L218.6,91.5Z" fill="#6e1b51"/>
<path d="M223.0,91.3 L224.5,90.6 L222.9,91.7 L221.5,91.1Z" fill="#6b1a4e"/>
<path d="M226.0,88.8 L227.4,91.3 L225.9,91.3 L224.5,90.6Z" fill="#b04a2c"/>
<path d="M110.9,88.4 L112.3,88.4 L110.8,87.5 L109.4,89.7Z" fill="#7a3021"/>
<path d="M113.8,88.1 L115.2,87.8 L113.7,85.2 L112.3,88.4Z" fill="#4f5419"/>
<path d="M116.6,86.4 L118.0,88.0 L116.6,86.3 L115.2,87.8Z" fill="#5a601d"/>
<path d="M119.5,89.2 L120.9,91.5 L119.5,91.0 L118.0,88.0Z" fill="#713451"/>
<path d="M122.4,90.4 L123.8,91.1 L122.3,91.1 L120.9,91.5Z" fill="#7b2736"/>
<path d="M125.3,90.2 L126.7,91.2 L125.2,90.2 L123.8,91.1Z" fill="#a34a26"/>
<path d="M128.2,90.2 L129.6,88.3 L128.1,91.2 L126.7,91.2Z" fill="#601e2a"/>
<path d="M131.1,86.0 L132.5,88.5 L131.0,90.3 L129.6,88.3Z" fill="#7b5e22"/>
<path d="M134.0,88.3 L135.4,89.6 L133.9,91.0 L132.5,88.5Z" fill="#785328"/>
<path d="M136.9,86.5 L138.3,87.8 L136.8,90.2 L135.4,89.6Z" fill="#4e5219"/>
<path d="M139.8,84.9 L141.2,87.1 L139.7,90.0 L138.3,87.8Z" fill="#5c621d"/>
<path d="M142.7,89.0 L144.1,90.5 L142.6,90.7 L141.2,87.1Z" fill="#7d6b2a"/>
<path d="M145.6,90.2 L147.0,91.4 L145.5,90.7 L144.1,90.5Z" fill="#c2672a"/>
<path d="M148.5,92.5 L149.9,93.9 L148.4,92.5 L147.0,91.4Z" fill="#ad3d31"/>
<path d="M151.4,91.6 L152.8,91.9 L151.3,92.2 L149.9,93.9Z" fill="#843820"/>
<path d="M154.3,91.7 L155.7,89.2 L154.2,89.0 L152.8,91.9Z" fill="#583619"/>
<path d="M157.2,90.5 L158.6,91.0 L157.1,88.0 L155.7,89.2Z" fill="#776322"/>
<path d="M160.1,93.0 L161.5,92.6 L160.0,92.1 L158.6,91.0Z" fill="#8d2b43"/>
<path d="M163.0,91.6 L164.4,90.1 L163.0,91.8 L161.5,92.6Z" fill="#71331e"/>
<path d="M165.9,86.2 L167.4,86.8 L165.9,91.5 L164.4,90.1Z" fill="#4a4f17"/>
<path d="M168.8,84.0 L170.3,88.9 L168.8,91.6 L167.4,86.8Z" fill="#7c8525"/>
<path d="M171.8,89.7 L173.2,92.6 L171.7,93.1 L170.3,88.9Z" fill="#766e2b"/>
<path d="M174.7,92.7 L176.1,93.5 L174.6,94.7 L173.2,92.6Z" fill="#83254c"/>
<path d="M177.6,93.3 L179.0,93.1 L177.5,94.5 L176.1,93.5Z" fill="#711e48"/>
<path d="M180.5,90.7 L181.9,89.5 L180.4,92.1 L179.0,93.1Z" fill="#68321a"/>
<path d="M183.4,88.1 L184.9,89.1 L183.4,92.1 L181.9,89.5Z" fill="#5d631e"/>
<path d="M186.4,87.6 L187.8,90.1 L186.3,90.6 L184.9,89.1Z" fill="#696f21"/>
<path d="M189.3,90.3 L190.7,92.0 L189.2,93.4 L187.8,90.1Z" fill="#6d612e"/>
<path d="M192.2,91.7 L193.6,92.6 L192.1,91.6 L190.7,92.0Z" fill="#90382c"/>
<path d="M195.1,93.4 L196.5,93.8 L195.0,92.7 L193.6,92.6Z" fill="#85264a"/>
<path d="M198.0,90.3 L199.5,92.6 L198.0,92.9 L196.5,93.8Z" fill="#aa5a25"/>
<path d="M201.0,92.0 L202.4,92.9 L200.9,92.3 L199.5,92.6Z" fill="#ac4d28"/>
<path d="M203.9,89.5 L205.3,92.8 L203.8,93.1 L202.4,92.9Z" fill="#b25527"/>
<path d="M206.8,90.6 L208.3,94.8 L206.8,93.8 L205.3,92.8Z" fill="#942b52"/>
<path d="M209.8,90.5 L211.2,92.9 L209.7,92.4 L208.3,94.8Z" fill="#812e24"/>
<path d="M212.7,90.0 L214.1,92.3 L212.6,92.9 L211.2,92.9Z" fill="#872c34"/>
<path d="M215.6,90.7 L217.1,91.9 L215.6,93.3 L214.1,92.3Z" fill="#872b38"/>
<path d="M218.6,91.5 L220.0,92.7 L218.5,92.5 L217.1,91.9Z" fill="#8e2c40"/>
<path d="M221.5,91.1 L222.9,91.7 L221.4,92.8 L220.0,92.7Z" fill="#6f1e46"/>
<path d="M224.5,90.6 L225.9,91.3 L224.4,92.2 L222.9,91.7Z" fill="#882c33"/>
<path d="M227.4,91.3 L228.8,90.9 L227.3,92.7 L225.9,91.3Z" fill="#6e1b50"/>
<path d="M109.4,89.7 L110.8,87.5 L109.3,89.6 L107.9,89.6Z" fill="#621e30"/>
<path d="M112.3,88.4 L113.7,85.2 L112.2,85.9 L110.8,87.5Z" fill="#444815"/>
<path d="M115.2,87.8 L116.6,86.3 L115.1,82.8 L113.7,85.2Z" fill="#61681d"/>
<path d="M118.0,88.0 L119.5,91.0 L118.0,87.6 L116.6,86.3Z" fill="#767e25"/>
<path d="M120.9,91.5 L122.3,91.1 L120.9,91.9 L119.5,91.0Z" fill="#541847"/>
<path d="M123.8,91.1 L125.2,90.2 L123.8,91.5 L122.3,91.1Z" fill="#873225"/>
<path d="M126.7,91.2 L128.1,91.2 L126.6,93.1 L125.2,90.2Z" fill="#832549"/>
<path d="M129.6,88.3 L131.0,90.3 L129.5,93.3 L128.1,91.2Z" fill="#8e3228"/>
<path d="M132.5,88.5 L133.9,91.0 L132.4,92.5 L131.0,90.3Z" fill="#92422a"/>
<path d="M135.4,89.6 L136.8,90.2 L135.3,91.4 L133.9,91.0Z" fill="#754021"/>
<path d="M138.3,87.8 L139.7,90.0 L138.2,91.5 L136.8,90.2Z" fill="#5b601d"/>
<path d="M141.2,87.1 L142.6,90.7 L141.1,90.7 L139.7,90.0Z" fill="#706621"/>
<path d="M144.1,90.5 L145.5,90.7 L144.0,91.5 L142.6,90.7Z" fill="#b15926"/>
<path d="M147.0,91.4 L148.4,92.5 L146.9,93.8 L145.5,90.7Z" fill="#bb512d"/>
<path d="M149.9,93.9 L151.3,92.2 L149.8,93.7 L148.4,92.5Z" fill="#77233d"/>
<path d="M152.8,91.9 L154.2,89.0 L152.7,91.1 L151.3,92.2Z" fill="#5c3519"/>
<path d="M155.7,89.2 L157.1,88.0 L155.6,87.9 L154.2,89.0Z" fill="#52571a"/>
<path d="M158.6,91.0 L160.0,92.1 L158.6,89.0 L157.1,88.0Z" fill="#727825"/>
<path d="M161.5,92.6 L163.0,91.8 L161.5,93.9 L160.0,92.1Z" fill="#8e3228"/>
<path d="M164.4,90.1 L165.9,91.5 L164.4,93.9 L163.0,91.8Z" fill="#7e4425"/>
<path d="M167.4,86.8 L168.8,91.6 L167.3,94.3 L165.9,91.5Z" fill="#656b20"/>
<path d="M170.3,88.9 L171.7,93.1 L170.2,94.8 L168.8,91.6Z" fill="#6c7024"/>
<path d="M173.2,92.6 L174.6,94.7 L173.1,95.1 L171.7,93.1Z" fill="#962e46"/>
<path d="M176.1,93.5 L177.5,94.5 L176.0,95.9 L174.6,94.7Z" fill="#772147"/>
<path d="M179.0,93.1 L180.4,92.1 L178.9,94.4 L177.5,94.5Z" fill="#6c222c"/>
<path d="M181.9,89.5 L183.4,92.1 L181.9,92.7 L180.4,92.1Z" fill="#685920"/>
<path d="M184.9,89.1 L186.3,90.6 L184.8,93.5 L183.4,92.1Z" fill="#555a1b"/>
<path d="M187.8,90.1 L189.2,93.4 L187.7,93.6 L186.3,90.6Z" fill="#727726"/>
<path d="M190.7,92.0 L192.1,91.6 L190.6,93.4 L189.2,93.4Z" fill="#5c352b"/>
<path d="M193.6,92.6 L195.0,92.7 L193.5,91.4 L192.1,91.6Z" fill="#944629"/>
<path d="M196.5,93.8 L198.0,92.9 L196.5,94.9 L195.0,92.7Z" fill="#721d51"/>
<path d="M199.5,92.6 L200.9,92.3 L199.4,94.0 L198.0,92.9Z" fill="#9a4126"/>
<path d="M202.4,92.9 L203.8,93.1 L202.3,93.3 L200.9,92.3Z" fill="#a8462a"/>
<path d="M205.3,92.8 L206.8,93.8 L205.3,94.3 L203.8,93.1Z" fill="#872845"/>
<path d="M208.3,94.8 L209.7,92.4 L208.2,92.9 L206.8,93.8Z" fill="#611943"/>
<path d="M211.2,92.9 L212.6,92.9 L211.1,92.5 L209.7,92.4Z" fill="#99352b"/>
<path d="M214.1,92.3 L215.6,93.3 L214.1,95.1 L212.6,92.9Z" fill="#721c56"/>
<path d="M217.1,91.9 L218.5,92.5 L217.0,93.5 L215.6,93.3Z" fill="#832b32"/>
<path d="M220.0,92.7 L221.4,92.8 L219.9,90.6 L218.5,92.5Z" fill="#913229"/>
<path d="M222.9,91.7 L224.4,92.2 L222.9,90.5 L221.4,92.8Z" fill="#8d3426"/>
<path d="M225.9,91.3 L227.3,92.7 L225.8,92.0 L224.4,92.2Z" fill="#9e3a2b"/>
<path d="M228.8,90.9 L230.3,91.9 L228.8,91.9 L227.3,92.7Z" fill="#963c26"/>
<path d="M107.9,89.6 L109.3,89.6 L107.8,90.4 L106.4,90.5Z" fill="#893624"/>
<path d="M110.8,87.5 L112.2,85.9 L110.7,88.0 L109.3,89.6Z" fill="#403d14"/>
<path d="M113.7,85.2 L115.1,82.8 L113.6,83.2 L112.2,85.9Z" fill="#434713"/>
<path d="M116.6,86.3 L118.0,87.6 L116.5,83.3 L115.1,82.8Z" fill="#808a25"/>
<path d="M119.5,91.0 L120.9,91.9 L119.4,91.0 L118.0,87.6Z" fill="#737a25"/>
<path d="M122.3,91.1 L123.8,91.5 L122.3,94.4 L120.9,91.9Z" fill="#65184e"/>
<path d="M125.2,90.2 L126.6,93.1 L125.2,92.5 L123.8,91.5Z" fill="#c35d2b"/>
<path d="M128.1,91.2 L129.5,93.3 L128.1,92.3 L126.6,93.1Z" fill="#9a3c28"/>
<path d="M131.0,90.3 L132.4,92.5 L131.0,93.4 L129.5,93.3Z" fill="#8f3526"/>
<path d="M133.9,91.0 L135.3,91.4 L133.8,93.4 L132.4,92.5Z" fill="#842e26"/>
<path d="M136.8,90.2 L138.2,91.5 L136.7,91.7 L135.3,91.4Z" fill="#784b23"/>
<path d="M139.7,90.0 L141.1,90.7 L139.6,91.7 L138.2,91.5Z" fill="#654b1f"/>
<path d="M142.6,90.7 L144.0,91.5 L142.5,93.1 L141.1,90.7Z" fill="#b35229"/>
<path d="M145.5,90.7 L146.9,93.8 L145.4,92.4 L144.0,91.5Z" fill="#e98733"/>
<path d="M148.4,92.5 L149.8,93.7 L148.3,93.6 L146.9,93.8Z" fill="#af5825"/>
<path d="M151.3,92.2 L152.7,91.1 L151.2,93.4 L149.8,93.7Z" fill="#85401d"/>
<path d="M154.2,89.0 L155.6,87.9 L154.2,92.0 L152.7,91.1Z" fill="#454a16"/>
<path d="M157.1,88.0 L158.6,89.0 L157.1,90.3 L155.6,87.9Z" fill="#686f20"/>
<path d="M160.0,92.1 L161.5,93.9 L160.0,93.8 L158.6,89.0Z" fill="#9d572e"/>
<path d="M163.0,91.8 L164.4,93.9 L162.9,95.5 L161.5,93.9Z" fill="#aa4b28"/>
<path d="M165.9,91.5 L167.3,94.3 L165.8,96.4 L164.4,93.9Z" fill="#722650"/>
<path d="M168.8,91.6 L170.2,94.8 L168.7,95.6 L167.3,94.3Z" fill="#6a3543"/>
<path d="M171.7,93.1 L173.1,95.1 L171.6,96.0 L170.2,94.8Z" fill="#832646"/>
<path d="M174.6,94.7 L176.0,95.9 L174.5,95.9 L173.1,95.1Z" fill="#852745"/>
<path d="M177.5,94.5 L178.9,94.4 L177.4,96.0 L176.0,95.9Z" fill="#702237"/>
<path d="M180.4,92.1 L181.9,92.7 L180.4,93.1 L178.9,94.4Z" fill="#7b441f"/>
<path d="M183.4,92.1 L184.8,93.5 L183.3,94.7 L181.9,92.7Z" fill="#635d27"/>
<path d="M186.3,90.6 L187.7,93.6 L186.2,96.3 L184.8,93.5Z" fill="#654934"/>
<path d="M189.2,93.4 L190.6,93.4 L189.1,96.0 L187.7,93.6Z" fill="#5a2841"/>
<path d="M192.1,91.6 L193.5,91.4 L192.1,94.0 L190.6,93.4Z" fill="#653b22"/>
<path d="M195.0,92.7 L196.5,94.9 L195.0,94.6 L193.5,91.4Z" fill="#b94134"/>
<path d="M198.0,92.9 L199.4,94.0 L197.9,94.7 L196.5,94.9Z" fill="#9e4924"/>
<path d="M200.9,92.3 L202.3,93.3 L200.8,94.0 L199.4,94.0Z" fill="#af5b25"/>
<path d="M203.8,93.1 L205.3,94.3 L203.8,94.0 L202.3,93.3Z" fill="#ba562a"/>
<path d="M206.8,93.8 L208.2,92.9 L206.7,95.3 L205.3,94.3Z" fill="#722238"/>
<path d="M209.7,92.4 L211.1,92.5 L209.6,94.4 L208.2,92.9Z" fill="#a34827"/>
<path d="M212.6,92.9 L214.1,95.1 L212.6,94.7 L211.1,92.5Z" fill="#b03b3b"/>
<path d="M215.6,93.3 L217.0,93.5 L215.5,93.1 L214.1,95.1Z" fill="#863522"/>
<path d="M218.5,92.5 L219.9,90.6 L218.4,92.7 L217.0,93.5Z" fill="#672128"/>
<path d="M221.4,92.8 L222.9,90.5 L221.4,89.7 L219.9,90.6Z" fill="#6c3c2c"/>
<path d="M224.4,92.2 L225.8,92.0 L224.3,90.6 L222.9,90.5Z" fill="#a7402c"/>
<path d="M227.3,92.7 L228.8,91.9 L227.2,94.0 L225.8,92.0Z" fill="#731d51"/>
<path d="M230.3,91.9 L231.7,92.3 L230.2,93.6 L228.8,91.9Z" fill="#8d2c3d"/>
<path d="M106.4,90.5 L107.8,90.4 L106.4,91.0 L105.0,90.1Z" fill="#9c3f28"/>
<path d="M109.3,89.6 L110.7,88.0 L109.2,91.5 L107.8,90.4Z" fill="#6c2722"/>
<path d="M112.2,85.9 L113.6,83.2 L112.1,87.0 L110.7,88.0Z" fill="#363a11"/>
<path d="M115.1,82.8 L116.5,83.3 L115.0,83.9 L113.6,83.2Z" fill="#666e1d"/>
<path d="M118.0,87.6 L119.4,91.0 L117.9,89.0 L116.5,83.3Z" fill="#7b8425"/>
<path d="M120.9,91.9 L122.3,94.4 L120.8,93.1 L119.4,91.0Z" fill="#744149"/>
<path d="M123.8,91.5 L125.2,92.5 L123.7,92.9 L122.3,94.4Z" fill="#823521"/>
<path d="M126.6,93.1 L128.1,92.3 L126.6,92.4 L125.2,92.5Z" fill="#722041"/>
<path d="M129.5,93.3 L131.0,93.4 L129.5,93.6 L128.1,92.3Z" fill="#791f52"/>
<path d="M132.4,92.5 L133.8,93.4 L132.4,93.3 L131.0,93.4Z" fill="#9e4426"/>
<path d="M135.3,91.4 L136.7,91.7 L135.3,93.5 L133.8,93.4Z" fill="#833821"/>
<path d="M138.2,91.5 L139.6,91.7 L138.2,91.7 L136.7,91.7Z" fill="#724e21"/>
<path d="M141.1,90.7 L142.5,93.1 L141.1,93.9 L139.6,91.7Z" fill="#b45a2a"/>
<path d="M144.0,91.5 L145.4,92.4 L144.0,92.1 L142.5,93.1Z" fill="#b56928"/>
<path d="M146.9,93.8 L148.3,93.6 L146.9,93.6 L145.4,92.4Z" fill="#ba5b28"/>
<path d="M149.8,93.7 L151.2,93.4 L149.8,94.1 L148.3,93.6Z" fill="#a75124"/>
<path d="M152.7,91.1 L154.2,92.0 L152.7,94.5 L151.2,93.4Z" fill="#754a1f"/>
<path d="M155.6,87.9 L157.1,90.3 L155.6,93.5 L154.2,92.0Z" fill="#555b1b"/>
<path d="M158.6,89.0 L160.0,93.8 L158.5,94.1 L157.1,90.3Z" fill="#727925"/>
<path d="M161.5,93.9 L162.9,95.5 L161.4,95.6 L160.0,93.8Z" fill="#b0452e"/>
<path d="M164.4,93.9 L165.8,96.4 L164.3,95.7 L162.9,95.5Z" fill="#ab462b"/>
<path d="M167.3,94.3 L168.7,95.6 L167.2,96.4 L165.8,96.4Z" fill="#6f1e45"/>
<path d="M170.2,94.8 L171.6,96.0 L170.1,95.3 L168.7,95.6Z" fill="#92322e"/>
<path d="M173.1,95.1 L174.5,95.9 L173.0,95.4 L171.6,96.0Z" fill="#983d27"/>
<path d="M176.0,95.9 L177.4,96.0 L175.9,97.0 L174.5,95.9Z" fill="#731e4d"/>
<path d="M178.9,94.4 L180.4,93.1 L178.9,95.5 L177.4,96.0Z" fill="#742c1f"/>
<path d="M181.9,92.7 L183.3,94.7 L181.8,94.2 L180.4,93.1Z" fill="#8c5129"/>
<path d="M184.8,93.5 L186.2,96.3 L184.7,97.3 L183.3,94.7Z" fill="#6e2b51"/>
<path d="M187.7,93.6 L189.1,96.0 L187.6,96.5 L186.2,96.3Z" fill="#7a2345"/>
<path d="M190.6,93.4 L192.1,94.0 L190.6,94.8 L189.1,96.0Z" fill="#813222"/>
<path d="M193.5,91.4 L195.0,94.6 L193.5,96.1 L192.1,94.0Z" fill="#a3432c"/>
<path d="M196.5,94.9 L197.9,94.7 L196.4,96.0 L195.0,94.6Z" fill="#84293c"/>
<path d="M199.4,94.0 L200.8,94.0 L199.3,95.4 L197.9,94.7Z" fill="#9d4525"/>
<path d="M202.3,93.3 L203.8,94.0 L202.3,95.4 L200.8,94.0Z" fill="#b15527"/>
<path d="M205.3,94.3 L206.7,95.3 L205.2,96.3 L203.8,94.0Z" fill="#962f41"/>
<path d="M208.2,92.9 L209.6,94.4 L208.1,95.6 L206.7,95.3Z" fill="#9f4725"/>
<path d="M211.1,92.5 L212.6,94.7 L211.1,96.0 L209.6,94.4Z" fill="#ab472b"/>
<path d="M214.1,95.1 L215.5,93.1 L214.0,94.9 L212.6,94.7Z" fill="#681e3b"/>
<path d="M217.0,93.5 L218.4,92.7 L216.9,94.4 L215.5,93.1Z" fill="#832a37"/>
<path d="M219.9,90.6 L221.4,89.7 L219.9,90.8 L218.4,92.7Z" fill="#494517"/>
<path d="M222.9,90.5 L224.3,90.6 L222.8,89.9 L221.4,89.7Z" fill="#61671f"/>
<path d="M225.8,92.0 L227.2,94.0 L225.7,94.4 L224.3,90.6Z" fill="#9a2c56"/>
<path d="M228.8,91.9 L230.2,93.6 L228.7,94.1 L227.2,94.0Z" fill="#9a3c28"/>
<path d="M231.7,92.3 L233.1,93.0 L231.6,92.8 L230.2,93.6Z" fill="#9e4526"/>
<path d="M105.0,90.1 L106.4,91.0 L104.9,91.7 L103.5,91.8Z" fill="#a04f22"/>
<path d="M107.8,90.4 L109.2,91.5 L107.8,92.3 L106.4,91.0Z" fill="#a64828"/>
<path d="M110.7,88.0 L112.1,87.0 L110.6,91.6 L109.2,91.5Z" fill="#453614"/>
<path d="M113.6,83.2 L115.0,83.9 L113.5,88.3 L112.1,87.0Z" fill="#4c5117"/>
<path d="M116.5,83.3 L117.9,89.0 L116.4,89.1 L115.0,83.9Z" fill="#7d8625"/>
<path d="M119.4,91.0 L120.8,93.1 L119.3,92.5 L117.9,89.0Z" fill="#737925"/>
<path d="M122.3,94.4 L123.7,92.9 L122.2,93.9 L120.8,93.1Z" fill="#531448"/>
<path d="M125.2,92.5 L126.6,92.4 L125.1,92.4 L123.7,92.9Z" fill="#71352a"/>
<path d="M128.1,92.3 L129.5,93.6 L128.0,91.1 L126.6,92.4Z" fill="#7b4f24"/>
<path d="M131.0,93.4 L132.4,93.3 L130.9,93.9 L129.5,93.6Z" fill="#933a26"/>
<path d="M133.8,93.4 L135.3,93.5 L133.8,94.7 L132.4,93.3Z" fill="#9a3c28"/>
<path d="M136.7,91.7 L138.2,91.7 L136.7,92.7 L135.3,93.5Z" fill="#7a491d"/>
<path d="M139.6,91.7 L141.1,93.9 L139.6,94.2 L138.2,91.7Z" fill="#a65a2b"/>
<path d="M142.5,93.1 L144.0,92.1 L142.5,94.9 L141.1,93.9Z" fill="#883b21"/>
<path d="M145.4,92.4 L146.9,93.6 L145.4,93.0 L144.0,92.1Z" fill="#d97e30"/>
<path d="M148.3,93.6 L149.8,94.1 L148.3,93.4 L146.9,93.6Z" fill="#c36e2b"/>
<path d="M151.2,93.4 L152.7,94.5 L151.2,95.1 L149.8,94.1Z" fill="#b95e27"/>
<path d="M154.2,92.0 L155.6,93.5 L154.1,96.6 L152.7,94.5Z" fill="#5d442c"/>
<path d="M157.1,90.3 L158.5,94.1 L157.0,95.9 L155.6,93.5Z" fill="#646921"/>
<path d="M160.0,93.8 L161.4,95.6 L159.9,97.5 L158.5,94.1Z" fill="#922b4a"/>
<path d="M162.9,95.5 L164.3,95.7 L162.8,95.5 L161.4,95.6Z" fill="#a54b26"/>
<path d="M165.8,96.4 L167.2,96.4 L165.7,97.6 L164.3,95.7Z" fill="#761e55"/>
<path d="M168.7,95.6 L170.1,95.3 L168.6,95.9 L167.2,96.4Z" fill="#883424"/>
<path d="M171.6,96.0 L173.0,95.4 L171.5,95.8 L170.1,95.3Z" fill="#993d27"/>
<path d="M174.5,95.9 L175.9,97.0 L174.5,96.9 L173.0,95.4Z" fill="#a73a2f"/>
<path d="M177.4,96.0 L178.9,95.5 L177.4,95.9 L175.9,97.0Z" fill="#8a3b22"/>
<path d="M180.4,93.1 L181.8,94.2 L180.3,95.7 L178.9,95.5Z" fill="#a45323"/>
<path d="M183.3,94.7 L184.7,97.3 L183.2,98.6 L181.8,94.2Z" fill="#771b63"/>
<path d="M186.2,96.3 L187.6,96.5 L186.1,96.5 L184.7,97.3Z" fill="#6f1f42"/>
<path d="M189.1,96.0 L190.6,94.8 L189.1,97.5 L187.6,96.5Z" fill="#5f1746"/>
<path d="M192.1,94.0 L193.5,96.1 L192.0,96.9 L190.6,94.8Z" fill="#9f3538"/>
<path d="M195.0,94.6 L196.4,96.0 L194.9,95.8 L193.5,96.1Z" fill="#a14428"/>
<path d="M197.9,94.7 L199.3,95.4 L197.8,97.7 L196.4,96.0Z" fill="#882d31"/>
<path d="M200.8,94.0 L202.3,95.4 L200.8,96.5 L199.3,95.4Z" fill="#ae5127"/>
<path d="M203.8,94.0 L205.2,96.3 L203.7,97.2 L202.3,95.4Z" fill="#ad442d"/>
<path d="M206.7,95.3 L208.1,95.6 L206.6,95.5 L205.2,96.3Z" fill="#933b25"/>
<path d="M209.6,94.4 L211.1,96.0 L209.5,95.8 L208.1,95.6Z" fill="#a9472a"/>
<path d="M212.6,94.7 L214.0,94.9 L212.5,96.3 L211.1,96.0Z" fill="#812b2f"/>
<path d="M215.5,93.1 L216.9,94.4 L215.4,95.6 L214.0,94.9Z" fill="#a54b26"/>
<path d="M218.4,92.7 L219.9,90.8 L218.4,93.5 L216.9,94.4Z" fill="#4f341a"/>
<path d="M221.4,89.7 L222.8,89.9 L221.3,90.2 L219.9,90.8Z" fill="#585e1c"/>
<path d="M224.3,90.6 L225.7,94.4 L224.2,92.8 L222.8,89.9Z" fill="#767426"/>
<path d="M227.2,94.0 L228.7,94.1 L227.2,94.1 L225.7,94.4Z" fill="#882d31"/>
<path d="M230.2,93.6 L231.6,92.8 L230.1,95.0 L228.7,94.1Z" fill="#7a2733"/>
<path d="M233.1,93.0 L234.6,93.5 L233.1,95.1 L231.6,92.8Z" fill="#8f2d40"/>
<path d="M103.5,91.8 L104.9,91.7 L103.4,93.8 L102.0,91.0Z" fill="#85293f"/>
<path d="M106.4,91.0 L107.8,92.3 L106.3,94.2 L104.9,91.7Z" fill="#9b382b"/>
<path d="M109.2,91.5 L110.6,91.6 L109.2,94.0 L107.8,92.3Z" fill="#7b2735"/>
<path d="M112.1,87.0 L113.5,88.3 L112.1,91.1 L110.6,91.6Z" fill="#434716"/>
<path d="M115.0,83.9 L116.4,89.1 L114.9,90.8 L113.5,88.3Z" fill="#6a7121"/>
<path d="M117.9,89.0 L119.3,92.5 L117.8,92.5 L116.4,89.1Z" fill="#747b25"/>
<path d="M120.8,93.1 L122.2,93.9 L120.7,93.9 L119.3,92.5Z" fill="#6e3743"/>
<path d="M123.7,92.9 L125.1,92.4 L123.6,90.5 L122.2,93.9Z" fill="#5a451a"/>
<path d="M126.6,92.4 L128.0,91.1 L126.5,90.4 L125.1,92.4Z" fill="#4b5018"/>
<path d="M129.5,93.6 L130.9,93.9 L129.4,93.4 L128.0,91.1Z" fill="#825531"/>
<path d="M132.4,93.3 L133.8,94.7 L132.3,96.1 L130.9,93.9Z" fill="#ad4a2a"/>
<path d="M135.3,93.5 L136.7,92.7 L135.2,94.8 L133.8,94.7Z" fill="#893e20"/>
<path d="M138.2,91.7 L139.6,94.2 L138.1,93.9 L136.7,92.7Z" fill="#b96d2a"/>
<path d="M141.1,93.9 L142.5,94.9 L141.0,95.5 L139.6,94.2Z" fill="#9d3b2b"/>
<path d="M144.0,92.1 L145.4,93.0 L143.9,93.6 L142.5,94.9Z" fill="#9d5d23"/>
<path d="M146.9,93.6 L148.3,93.4 L146.8,94.6 L145.4,93.0Z" fill="#b55b26"/>
<path d="M149.8,94.1 L151.2,95.1 L149.7,96.6 L148.3,93.4Z" fill="#c1582c"/>
<path d="M152.7,94.5 L154.1,96.6 L152.6,96.4 L151.2,95.1Z" fill="#b8502c"/>
<path d="M155.6,93.5 L157.0,95.9 L155.5,97.2 L154.1,96.6Z" fill="#782f35"/>
<path d="M158.5,94.1 L159.9,97.5 L158.4,98.7 L157.0,95.9Z" fill="#8e2852"/>
<path d="M161.4,95.6 L162.8,95.5 L161.3,97.2 L159.9,97.5Z" fill="#863920"/>
<path d="M164.3,95.7 L165.7,97.6 L164.2,98.5 L162.8,95.5Z" fill="#ad3c33"/>
<path d="M167.2,96.4 L168.6,95.9 L167.1,98.2 L165.7,97.6Z" fill="#702235"/>
<path d="M170.1,95.3 L171.5,95.8 L170.0,96.3 L168.6,95.9Z" fill="#a74d26"/>
<path d="M173.0,95.4 L174.5,96.9 L173.0,97.3 L171.5,95.8Z" fill="#ba562a"/>
<path d="M175.9,97.0 L177.4,95.9 L175.9,97.5 L174.5,96.9Z" fill="#812c2a"/>
<path d="M178.9,95.5 L180.3,95.7 L178.8,97.1 L177.4,95.9Z" fill="#a95026"/>
<path d="M181.8,94.2 L183.2,98.6 L181.7,97.7 L180.3,95.7Z" fill="#d26031"/>
<path d="M184.7,97.3 L186.1,96.5 L184.6,97.0 L183.2,98.6Z" fill="#6f242a"/>
<path d="M187.6,96.5 L189.1,97.5 L187.6,98.9 L186.1,96.5Z" fill="#812353"/>
<path d="M190.6,94.8 L192.0,96.9 L190.5,98.8 L189.1,97.5Z" fill="#8e302d"/>
<path d="M193.5,96.1 L194.9,95.8 L193.4,96.4 L192.0,96.9Z" fill="#863025"/>
<path d="M196.4,96.0 L197.8,97.7 L196.3,97.5 L194.9,95.8Z" fill="#9f333f"/>
<path d="M199.3,95.4 L200.8,96.5 L199.3,97.6 L197.8,97.7Z" fill="#8d3625"/>
<path d="M202.3,95.4 L203.7,97.2 L202.2,97.0 L200.8,96.5Z" fill="#af4c2a"/>
<path d="M205.2,96.3 L206.6,95.5 L205.1,96.4 L203.7,97.2Z" fill="#823222"/>
<path d="M208.1,95.6 L209.5,95.8 L208.0,96.8 L206.6,95.5Z" fill="#a13f2a"/>
<path d="M211.1,96.0 L212.5,96.3 L211.0,96.3 L209.5,95.8Z" fill="#9c382b"/>
<path d="M214.0,94.9 L215.4,95.6 L213.9,97.8 L212.5,96.3Z" fill="#802839"/>
<path d="M216.9,94.4 L218.4,93.5 L216.8,95.5 L215.4,95.6Z" fill="#7e2e22"/>
<path d="M219.9,90.8 L221.3,90.2 L219.8,93.6 L218.4,93.5Z" fill="#464b16"/>
<path d="M222.8,89.9 L224.2,92.8 L222.7,91.6 L221.3,90.2Z" fill="#737a25"/>
<path d="M225.7,94.4 L227.2,94.1 L225.7,95.8 L224.2,92.8Z" fill="#722653"/>
<path d="M228.7,94.1 L230.1,95.0 L228.6,94.5 L227.2,94.1Z" fill="#b14c2b"/>
<path d="M231.6,92.8 L233.1,95.1 L231.5,94.6 L230.1,95.0Z" fill="#b85b27"/>
<path d="M234.6,93.5 L236.0,94.3 L234.5,94.2 L233.1,95.1Z" fill="#9c4425"/>
<path d="M104.9,91.7 L106.3,94.2 L104.8,94.3 L103.4,93.8Z" fill="#a24229"/>
<path d="M107.8,92.3 L109.2,94.0 L107.7,94.5 L106.3,94.2Z" fill="#913627"/>
<path d="M110.6,91.6 L112.1,91.1 L110.6,94.3 L109.2,94.0Z" fill="#6d261f"/>
<path d="M113.5,88.3 L114.9,90.8 L113.5,93.9 L112.1,91.1Z" fill="#6e5721"/>
<path d="M116.4,89.1 L117.8,92.5 L116.3,95.1 L114.9,90.8Z" fill="#736429"/>
<path d="M119.3,92.5 L120.7,93.9 L119.2,95.7 L117.8,92.5Z" fill="#733946"/>
<path d="M122.2,93.9 L123.6,90.5 L122.1,92.8 L120.7,93.9Z" fill="#3c3c15"/>
<path d="M125.1,92.4 L126.5,90.4 L125.0,91.2 L123.6,90.5Z" fill="#575d1b"/>
<path d="M128.0,91.1 L129.4,93.4 L127.9,93.7 L126.5,90.4Z" fill="#747b25"/>
<path d="M130.9,93.9 L132.3,96.1 L130.8,94.1 L129.4,93.4Z" fill="#dd7530"/>
<path d="M133.8,94.7 L135.2,94.8 L133.7,94.9 L132.3,96.1Z" fill="#9d5322"/>
<path d="M136.7,92.7 L138.1,93.9 L136.6,96.3 L135.2,94.8Z" fill="#aa5724"/>
<path d="M139.6,94.2 L141.0,95.5 L139.5,95.7 L138.1,93.9Z" fill="#bc552b"/>
<path d="M142.5,94.9 L143.9,93.6 L142.4,94.1 L141.0,95.5Z" fill="#6d3f1c"/>
<path d="M145.4,93.0 L146.8,94.6 L145.3,93.2 L143.9,93.6Z" fill="#7d6522"/>
<path d="M148.3,93.4 L149.7,96.6 L148.2,96.1 L146.8,94.6Z" fill="#bc682a"/>
<path d="M151.2,95.1 L152.6,96.4 L151.1,96.1 L149.7,96.6Z" fill="#b35f27"/>
<path d="M154.1,96.6 L155.5,97.2 L154.0,97.8 L152.6,96.4Z" fill="#933135"/>
<path d="M157.0,95.9 L158.4,98.7 L156.9,96.9 L155.5,97.2Z" fill="#b7512b"/>
<path d="M159.9,97.5 L161.3,97.2 L159.8,97.1 L158.4,98.7Z" fill="#823222"/>
<path d="M162.8,95.5 L164.2,98.5 L162.7,99.6 L161.3,97.2Z" fill="#b3472e"/>
<path d="M165.7,97.6 L167.1,98.2 L165.6,97.7 L164.2,98.5Z" fill="#913727"/>
<path d="M168.6,95.9 L170.0,96.3 L168.5,96.4 L167.1,98.2Z" fill="#8e431f"/>
<path d="M171.5,95.8 L173.0,97.3 L171.5,96.6 L170.0,96.3Z" fill="#bc5b29"/>
<path d="M174.5,96.9 L175.9,97.5 L174.4,97.3 L173.0,97.3Z" fill="#a34627"/>
<path d="M177.4,95.9 L178.8,97.1 L177.3,96.7 L175.9,97.5Z" fill="#b25f26"/>
<path d="M180.3,95.7 L181.7,97.7 L180.2,97.5 L178.8,97.1Z" fill="#c26529"/>
<path d="M183.2,98.6 L184.6,97.0 L183.1,97.7 L181.7,97.7Z" fill="#7c2831"/>
<path d="M186.1,96.5 L187.6,98.9 L186.1,99.7 L184.6,97.0Z" fill="#a5373c"/>
<path d="M189.1,97.5 L190.5,98.8 L189.0,99.2 L187.6,98.9Z" fill="#782247"/>
<path d="M192.0,96.9 L193.4,96.4 L191.9,97.5 L190.5,98.8Z" fill="#6d2429"/>
<path d="M194.9,95.8 L196.3,97.5 L194.8,97.7 L193.4,96.4Z" fill="#95303d"/>
<path d="M197.8,97.7 L199.3,97.6 L197.7,97.1 L196.3,97.5Z" fill="#81283c"/>
<path d="M200.8,96.5 L202.2,97.0 L200.7,97.1 L199.3,97.6Z" fill="#9e4725"/>
<path d="M203.7,97.2 L205.1,96.4 L203.6,99.6 L202.2,97.0Z" fill="#6a1a4f"/>
<path d="M206.6,95.5 L208.0,96.8 L206.5,97.9 L205.1,96.4Z" fill="#b14f29"/>
<path d="M209.5,95.8 L211.0,96.3 L209.5,98.4 L208.0,96.8Z" fill="#91322a"/>
<path d="M212.5,96.3 L213.9,97.8 L212.4,98.6 L211.0,96.3Z" fill="#902a4d"/>
<path d="M215.4,95.6 L216.8,95.5 L215.3,96.6 L213.9,97.8Z" fill="#853920"/>
<path d="M218.4,93.5 L219.8,93.6 L218.3,97.1 L216.8,95.5Z" fill="#702f2c"/>
<path d="M221.3,90.2 L222.7,91.6 L221.2,93.4 L219.8,93.6Z" fill="#50541a"/>
<path d="M224.2,92.8 L225.7,95.8 L224.2,95.2 L222.7,91.6Z" fill="#96592d"/>
<path d="M227.2,94.1 L228.6,94.5 L227.1,95.6 L225.7,95.8Z" fill="#9c4823"/>
<path d="M230.1,95.0 L231.5,94.6 L230.0,94.8 L228.6,94.5Z" fill="#aa4e27"/>
<path d="M233.1,95.1 L234.5,94.2 L233.0,95.8 L231.5,94.6Z" fill="#892e2f"/>
<path d="M106.3,94.2 L107.7,94.5 L106.2,96.0 L104.8,94.3Z" fill="#6c1b50"/>
<path d="M109.2,94.0 L110.6,94.3 L109.1,93.5 L107.7,94.5Z" fill="#8f3825"/>
<path d="M112.1,91.1 L113.5,93.9 L112.0,93.8 L110.6,94.3Z" fill="#ae5925"/>
<path d="M114.9,90.8 L116.3,95.1 L114.9,97.3 L113.5,93.9Z" fill="#8d3443"/>
<path d="M117.8,92.5 L119.2,95.7 L117.7,96.0 L116.3,95.1Z" fill="#a13e2b"/>
<path d="M120.7,93.9 L122.1,92.8 L120.6,95.2 L119.2,95.7Z" fill="#473620"/>
<path d="M123.6,90.5 L125.0,91.2 L123.5,92.1 L122.1,92.8Z" fill="#505619"/>
<path d="M126.5,90.4 L127.9,93.7 L126.4,91.3 L125.0,91.2Z" fill="#717823"/>
<path d="M129.4,93.4 L130.8,94.1 L129.3,95.7 L127.9,93.7Z" fill="#844f24"/>
<path d="M132.3,96.1 L133.7,94.9 L132.2,95.3 L130.8,94.1Z" fill="#b96028"/>
<path d="M135.2,94.8 L136.6,96.3 L135.1,97.5 L133.7,94.9Z" fill="#c45f2a"/>
<path d="M138.1,93.9 L139.5,95.7 L138.0,97.4 L136.6,96.3Z" fill="#ad5825"/>
<path d="M141.0,95.5 L142.4,94.1 L140.9,95.9 L139.5,95.7Z" fill="#753c1f"/>
<path d="M143.9,93.6 L145.3,93.2 L143.8,93.4 L142.4,94.1Z" fill="#51551a"/>
<path d="M146.8,94.6 L148.2,96.1 L146.7,94.5 L145.3,93.2Z" fill="#6f7524"/>
<path d="M149.7,96.6 L151.1,96.1 L149.6,97.2 L148.2,96.1Z" fill="#8b3527"/>
<path d="M152.6,96.4 L154.0,97.8 L152.5,98.6 L151.1,96.1Z" fill="#bd542d"/>
<path d="M155.5,97.2 L156.9,96.9 L155.4,98.6 L154.0,97.8Z" fill="#8e3825"/>
<path d="M158.4,98.7 L159.8,97.1 L158.3,99.8 L156.9,96.9Z" fill="#701c52"/>
<path d="M161.3,97.2 L162.7,99.6 L161.2,101.2 L159.8,97.1Z" fill="#962a57"/>
<path d="M164.2,98.5 L165.6,97.7 L164.1,100.3 L162.7,99.6Z" fill="#631a3f"/>
<path d="M167.1,98.2 L168.5,96.4 L167.1,97.5 L165.6,97.7Z" fill="#883822"/>
<path d="M170.0,96.3 L171.5,96.6 L170.0,97.7 L168.5,96.4Z" fill="#844026"/>
<path d="M173.0,97.3 L174.4,97.3 L172.9,96.7 L171.5,96.6Z" fill="#ae5028"/>
<path d="M175.9,97.5 L177.3,96.7 L175.8,95.4 L174.4,97.3Z" fill="#a55623"/>
<path d="M178.8,97.1 L180.2,97.5 L178.7,97.9 L177.3,96.7Z" fill="#ba5a28"/>
<path d="M181.7,97.7 L183.1,97.7 L181.6,99.3 L180.2,97.5Z" fill="#9f3f29"/>
<path d="M184.6,97.0 L186.1,99.7 L184.6,99.0 L183.1,97.7Z" fill="#cc612d"/>
<path d="M187.6,98.9 L189.0,99.2 L187.5,98.8 L186.1,99.7Z" fill="#822b31"/>
<path d="M190.5,98.8 L191.9,97.5 L190.4,98.4 L189.0,99.2Z" fill="#5c1744"/>
<path d="M193.4,96.4 L194.8,97.7 L193.3,95.1 L191.9,97.5Z" fill="#734f22"/>
<path d="M196.3,97.5 L197.7,97.1 L196.2,95.4 L194.8,97.7Z" fill="#663c28"/>
<path d="M199.3,97.6 L200.7,97.1 L199.2,96.7 L197.7,97.1Z" fill="#a04626"/>
<path d="M202.2,97.0 L203.6,99.6 L202.1,99.9 L200.7,97.1Z" fill="#aa3840"/>
<path d="M205.1,96.4 L206.5,97.9 L205.0,99.3 L203.6,99.6Z" fill="#8c3824"/>
<path d="M208.0,96.8 L209.5,98.4 L208.0,99.0 L206.5,97.9Z" fill="#a13b2c"/>
<path d="M211.0,96.3 L212.4,98.6 L210.9,96.4 L209.5,98.4Z" fill="#be6729"/>
<path d="M213.9,97.8 L215.3,96.6 L213.8,97.4 L212.4,98.6Z" fill="#782923"/>
<path d="M216.8,95.5 L218.3,97.1 L216.8,96.9 L215.3,96.6Z" fill="#bb5b28"/>
<path d="M219.8,93.6 L221.2,93.4 L219.7,96.7 L218.3,97.1Z" fill="#6e331c"/>
<path d="M222.7,91.6 L224.2,95.2 L222.6,96.8 L221.2,93.4Z" fill="#be6b2c"/>
<path d="M225.7,95.8 L227.1,95.6 L225.6,96.6 L224.2,95.2Z" fill="#98352c"/>
<path d="M228.6,94.5 L230.0,94.8 L228.5,96.8 L227.1,95.6Z" fill="#a85025"/>
<path d="M231.5,94.6 L233.0,95.8 L231.5,96.7 L230.0,94.8Z" fill="#b8512b"/>
<path d="M107.7,94.5 L109.1,93.5 L107.6,95.2 L106.2,96.0Z" fill="#652029"/>
<path d="M110.6,94.3 L112.0,93.8 L110.5,92.5 L109.1,93.5Z" fill="#914624"/>
<path d="M113.5,93.9 L114.9,97.3 L113.4,95.2 L112.0,93.8Z" fill="#ac3f3c"/>
<path d="M116.3,95.1 L117.7,96.0 L116.3,96.1 L114.9,97.3Z" fill="#792928"/>
<path d="M119.2,95.7 L120.6,95.2 L119.2,95.9 L117.7,96.0Z" fill="#79292e"/>
<path d="M122.1,92.8 L123.5,92.1 L122.0,93.6 L120.6,95.2Z" fill="#424615"/>
<path d="M125.0,91.2 L126.4,91.3 L124.9,91.8 L123.5,92.1Z" fill="#575d1b"/>
<path d="M127.9,93.7 L129.3,95.7 L127.8,96.5 L126.4,91.3Z" fill="#727726"/>
<path d="M130.8,94.1 L132.2,95.3 L130.7,96.3 L129.3,95.7Z" fill="#bd6d2a"/>
<path d="M133.7,94.9 L135.1,97.5 L133.6,97.2 L132.2,95.3Z" fill="#e58232"/>
<path d="M136.6,96.3 L138.0,97.4 L136.5,97.1 L135.1,97.5Z" fill="#b05c26"/>
<path d="M139.5,95.7 L140.9,95.9 L139.4,97.8 L138.0,97.4Z" fill="#954621"/>
<path d="M142.4,94.1 L143.8,93.4 L142.3,95.1 L140.9,95.9Z" fill="#464a17"/>
<path d="M145.3,93.2 L146.7,94.5 L145.2,93.7 L143.8,93.4Z" fill="#646a1f"/>
<path d="M148.2,96.1 L149.6,97.2 L148.1,95.9 L146.7,94.5Z" fill="#736d24"/>
<path d="M151.1,96.1 L152.5,98.6 L151.0,99.5 L149.6,97.2Z" fill="#bc542c"/>
<path d="M154.0,97.8 L155.4,98.6 L153.9,99.6 L152.5,98.6Z" fill="#9c3f28"/>
<path d="M156.9,96.9 L158.3,99.8 L156.8,99.4 L155.4,98.6Z" fill="#c4602a"/>
<path d="M159.8,97.1 L161.2,101.2 L159.7,100.5 L158.3,99.8Z" fill="#b64b2d"/>
<path d="M162.7,99.6 L164.1,100.3 L162.6,101.2 L161.2,101.2Z" fill="#64184a"/>
<path d="M165.6,97.7 L167.1,97.5 L165.6,100.1 L164.1,100.3Z" fill="#7d361e"/>
<path d="M168.5,96.4 L170.0,97.7 L168.5,97.4 L167.1,97.5Z" fill="#b26227"/>
<path d="M171.5,96.6 L172.9,96.7 L171.4,97.7 L170.0,97.7Z" fill="#774a20"/>
<path d="M174.4,97.3 L175.8,95.4 L174.3,96.0 L172.9,96.7Z" fill="#68471d"/>
<path d="M177.3,96.7 L178.7,97.9 L177.2,96.4 L175.8,95.4Z" fill="#bb6f2b"/>
<path d="M180.2,97.5 L181.6,99.3 L180.1,99.0 L178.7,97.9Z" fill="#c7622a"/>
<path d="M183.1,97.7 L184.6,99.0 L183.1,99.5 L181.6,99.3Z" fill="#af5725"/>
<path d="M186.1,99.7 L187.5,98.8 L186.0,99.6 L184.6,99.0Z" fill="#892e2d"/>
<path d="M189.0,99.2 L190.4,98.4 L188.9,98.9 L187.5,98.8Z" fill="#842c31"/>
<path d="M191.9,97.5 L193.3,95.1 L191.8,95.4 L190.4,98.4Z" fill="#3d4114"/>
<path d="M194.8,97.7 L196.2,95.4 L194.7,92.9 L193.3,95.1Z" fill="#595f1c"/>
<path d="M197.7,97.1 L199.2,96.7 L197.7,95.1 L196.2,95.4Z" fill="#716022"/>
<path d="M200.7,97.1 L202.1,99.9 L200.6,98.7 L199.2,96.7Z" fill="#d86730"/>
<path d="M203.6,99.6 L205.0,99.3 L203.5,101.0 L202.1,99.9Z" fill="#5f164d"/>
<path d="M206.5,97.9 L208.0,99.0 L206.5,98.4 L205.0,99.3Z" fill="#a54c25"/>
<path d="M209.5,98.4 L210.9,96.4 L209.4,97.9 L208.0,99.0Z" fill="#7e371e"/>
<path d="M212.4,98.6 L213.8,97.4 L212.3,98.8 L210.9,96.4Z" fill="#963138"/>
<path d="M215.3,96.6 L216.8,96.9 L215.3,99.3 L213.8,97.4Z" fill="#9c4027"/>
<path d="M218.3,97.1 L219.7,96.7 L218.2,98.1 L216.8,96.9Z" fill="#953629"/>
<path d="M221.2,93.4 L222.6,96.8 L221.1,97.5 L219.7,96.7Z" fill="#c76c2b"/>
<path d="M224.2,95.2 L225.6,96.6 L224.1,97.9 L222.6,96.8Z" fill="#a94b28"/>
<path d="M227.1,95.6 L228.5,96.8 L227.0,97.5 L225.6,96.6Z" fill="#b55727"/>
<path d="M230.0,94.8 L231.5,96.7 L230.0,95.4 L228.5,96.8Z" fill="#c6732c"/>
<path d="M109.1,93.5 L110.5,92.5 L109.0,91.9 L107.6,95.2Z" fill="#5d4318"/>
<path d="M112.0,93.8 L113.4,95.2 L111.9,93.1 L110.5,92.5Z" fill="#786725"/>
<path d="M114.9,97.3 L116.3,96.1 L114.8,95.3 L113.4,95.2Z" fill="#782346"/>
<path d="M117.7,96.0 L119.2,95.9 L117.7,98.3 L116.3,96.1Z" fill="#832a35"/>
<path d="M120.6,95.2 L122.0,93.6 L120.6,96.9 L119.2,95.9Z" fill="#583422"/>
<path d="M123.5,92.1 L124.9,91.8 L123.4,95.8 L122.0,93.6Z" fill="#505519"/>
<path d="M126.4,91.3 L127.8,96.5 L126.3,96.4 L124.9,91.8Z" fill="#737a25"/>
<path d="M129.3,95.7 L130.7,96.3 L129.2,98.2 L127.8,96.5Z" fill="#a34926"/>
<path d="M132.2,95.3 L133.6,97.2 L132.1,97.9 L130.7,96.3Z" fill="#d47b2f"/>
<path d="M135.1,97.5 L136.5,97.1 L135.0,98.5 L133.6,97.2Z" fill="#aa5324"/>
<path d="M138.0,97.4 L139.4,97.8 L137.9,99.2 L136.5,97.1Z" fill="#ab4a29"/>
<path d="M140.9,95.9 L142.3,95.1 L140.8,97.5 L139.4,97.8Z" fill="#6e431a"/>
<path d="M143.8,93.4 L145.2,93.7 L143.7,95.0 L142.3,95.1Z" fill="#51561a"/>
<path d="M146.7,94.5 L148.1,95.9 L146.6,97.2 L145.2,93.7Z" fill="#6e7523"/>
<path d="M149.6,97.2 L151.0,99.5 L149.5,99.4 L148.1,95.9Z" fill="#a64c31"/>
<path d="M152.5,98.6 L153.9,99.6 L152.4,99.3 L151.0,99.5Z" fill="#a54a26"/>
<path d="M155.4,98.6 L156.8,99.4 L155.3,99.7 L153.9,99.6Z" fill="#9c4127"/>
<path d="M158.3,99.8 L159.7,100.5 L158.2,100.2 L156.8,99.4Z" fill="#862845"/>
<path d="M161.2,101.2 L162.6,101.2 L161.2,101.9 L159.7,100.5Z" fill="#5b1451"/>
<path d="M164.1,100.3 L165.6,100.1 L164.1,100.4 L162.6,101.2Z" fill="#7e2a2a"/>
<path d="M167.1,97.5 L168.5,97.4 L167.0,100.8 L165.6,100.1Z" fill="#89421e"/>
<path d="M170.0,97.7 L171.4,97.7 L169.9,99.7 L168.5,97.4Z" fill="#8c3f28"/>
<path d="M172.9,96.7 L174.3,96.0 L172.8,96.9 L171.4,97.7Z" fill="#4c5019"/>
<path d="M175.8,95.4 L177.2,96.4 L175.7,93.4 L174.3,96.0Z" fill="#5b601d"/>
<path d="M178.7,97.9 L180.1,99.0 L178.6,97.8 L177.2,96.4Z" fill="#ad682a"/>
<path d="M181.6,99.3 L183.1,99.5 L181.6,100.1 L180.1,99.0Z" fill="#a84928"/>
<path d="M184.6,99.0 L186.0,99.6 L184.5,100.8 L183.1,99.5Z" fill="#a74928"/>
<path d="M187.5,98.8 L188.9,98.9 L187.4,101.3 L186.0,99.6Z" fill="#8e3228"/>
<path d="M190.4,98.4 L191.8,95.4 L190.3,97.2 L188.9,98.9Z" fill="#453b15"/>
<path d="M193.3,95.1 L194.7,92.9 L193.2,92.1 L191.8,95.4Z" fill="#484d16"/>
<path d="M196.2,95.4 L197.7,95.1 L196.2,92.9 L194.7,92.9Z" fill="#6f7722"/>
<path d="M199.2,96.7 L200.6,98.7 L199.1,98.5 L197.7,95.1Z" fill="#a2692b"/>
<path d="M202.1,99.9 L203.5,101.0 L202.0,99.5 L200.6,98.7Z" fill="#ad3d31"/>
<path d="M205.0,99.3 L206.5,98.4 L205.0,98.4 L203.5,101.0Z" fill="#85401d"/>
<path d="M208.0,99.0 L209.4,97.9 L207.9,98.2 L206.5,98.4Z" fill="#a55123"/>
<path d="M210.9,96.4 L212.3,98.8 L210.8,97.5 L209.4,97.9Z" fill="#d67c2f"/>
<path d="M213.8,97.4 L215.3,99.3 L213.8,98.9 L212.3,98.8Z" fill="#bc5e28"/>
<path d="M216.8,96.9 L218.2,98.1 L216.7,99.3 L215.3,99.3Z" fill="#a65123"/>
<path d="M219.7,96.7 L221.1,97.5 L219.6,99.0 L218.2,98.1Z" fill="#a64e25"/>
<path d="M222.6,96.8 L224.1,97.9 L222.6,99.5 L221.1,97.5Z" fill="#a43e2c"/>
<path d="M225.6,96.6 L227.0,97.5 L225.5,96.8 L224.1,97.9Z" fill="#b76428"/>
<path d="M228.5,96.8 L230.0,95.4 L228.4,97.4 L227.0,97.5Z" fill="#964b20"/>
<path d="M110.5,92.5 L111.9,93.1 L110.4,91.7 L109.0,91.9Z" fill="#61671f"/>
<path d="M113.4,95.2 L114.8,95.3 L113.3,94.2 L111.9,93.1Z" fill="#666c21"/>
<path d="M116.3,96.1 L117.7,98.3 L116.2,97.9 L114.8,95.3Z" fill="#bb4832"/>
<path d="M119.2,95.9 L120.6,96.9 L119.1,99.2 L117.7,98.3Z" fill="#863224"/>
<path d="M122.0,93.6 L123.4,95.8 L122.0,98.3 L120.6,96.9Z" fill="#6a4920"/>
<path d="M124.9,91.8 L126.3,96.4 L124.9,97.5 L123.4,95.8Z" fill="#636820"/>
<path d="M127.8,96.5 L129.2,98.2 L127.7,98.0 L126.3,96.4Z" fill="#af512b"/>
<path d="M130.7,96.3 L132.1,97.9 L130.6,99.3 L129.2,98.2Z" fill="#b66127"/>
<path d="M133.6,97.2 L135.0,98.5 L133.5,99.1 L132.1,97.9Z" fill="#c0672a"/>
<path d="M136.5,97.1 L137.9,99.2 L136.4,99.2 L135.0,98.5Z" fill="#c76d2b"/>
<path d="M139.4,97.8 L140.8,97.5 L139.3,99.4 L137.9,99.2Z" fill="#904420"/>
<path d="M142.3,95.1 L143.7,95.0 L142.2,98.4 L140.8,97.5Z" fill="#5e4a1a"/>
<path d="M145.2,93.7 L146.6,97.2 L145.1,97.3 L143.7,95.0Z" fill="#6f7524"/>
<path d="M148.1,95.9 L149.5,99.4 L148.0,99.5 L146.6,97.2Z" fill="#916628"/>
<path d="M151.0,99.5 L152.4,99.3 L150.9,99.1 L149.5,99.4Z" fill="#a04825"/>
<path d="M153.9,99.6 L155.3,99.7 L153.8,98.7 L152.4,99.3Z" fill="#a74c26"/>
<path d="M156.8,99.4 L158.2,100.2 L156.7,99.1 L155.3,99.7Z" fill="#9b3b29"/>
<path d="M159.7,100.5 L161.2,101.9 L159.7,100.0 L158.2,100.2Z" fill="#942f3f"/>
<path d="M162.6,101.2 L164.1,100.4 L162.6,103.4 L161.2,101.9Z" fill="#521345"/>
<path d="M165.6,100.1 L167.0,100.8 L165.5,101.6 L164.1,100.4Z" fill="#9d3c2a"/>
<path d="M168.5,97.4 L169.9,99.7 L168.4,101.3 L167.0,100.8Z" fill="#ab5a25"/>
<path d="M171.4,97.7 L172.8,96.9 L171.3,99.5 L169.9,99.7Z" fill="#534119"/>
<path d="M174.3,96.0 L175.7,93.4 L174.2,94.9 L172.8,96.9Z" fill="#414514"/>
<path d="M177.2,96.4 L178.6,97.8 L177.1,96.0 L175.7,93.4Z" fill="#757d25"/>
<path d="M180.1,99.0 L181.6,100.1 L180.1,100.2 L178.6,97.8Z" fill="#cc5f2e"/>
<path d="M183.1,99.5 L184.5,100.8 L183.0,101.9 L181.6,100.1Z" fill="#af4c2a"/>
<path d="M186.0,99.6 L187.4,101.3 L185.9,101.7 L184.5,100.8Z" fill="#ac4b29"/>
<path d="M188.9,98.9 L190.3,97.2 L188.8,100.7 L187.4,101.3Z" fill="#632a1a"/>
<path d="M191.8,95.4 L193.2,92.1 L191.7,95.9 L190.3,97.2Z" fill="#373b11"/>
<path d="M194.7,92.9 L196.2,92.9 L194.7,93.5 L193.2,92.1Z" fill="#6c741f"/>
<path d="M197.7,95.1 L199.1,98.5 L197.6,96.3 L196.2,92.9Z" fill="#767e25"/>
<path d="M200.6,98.7 L202.0,99.5 L200.5,99.5 L199.1,98.5Z" fill="#bd5b29"/>
<path d="M203.5,101.0 L205.0,98.4 L203.4,99.4 L202.0,99.5Z" fill="#873424"/>
<path d="M206.5,98.4 L207.9,98.2 L206.4,99.7 L205.0,98.4Z" fill="#b45d26"/>
<path d="M209.4,97.9 L210.8,97.5 L209.3,97.1 L207.9,98.2Z" fill="#b16327"/>
<path d="M212.3,98.8 L213.8,98.9 L212.2,98.1 L210.8,97.5Z" fill="#c4612a"/>
<path d="M215.3,99.3 L216.7,99.3 L215.2,101.6 L213.8,98.9Z" fill="#872943"/>
<path d="M218.2,98.1 L219.6,99.0 L218.1,99.6 L216.7,99.3Z" fill="#ad5425"/>
<path d="M221.1,97.5 L222.6,99.5 L221.1,99.6 L219.6,99.0Z" fill="#be5e28"/>
<path d="M224.1,97.9 L225.5,96.8 L224.0,99.4 L222.6,99.5Z" fill="#833b1f"/>
<path d="M227.0,97.5 L228.4,97.4 L226.9,100.1 L225.5,96.8Z" fill="#a8422c"/>
<path d="M111.9,93.1 L113.3,94.2 L111.8,93.9 L110.4,91.7Z" fill="#6f7622"/>
<path d="M114.8,95.3 L116.2,97.9 L114.7,96.0 L113.3,94.2Z" fill="#a3732a"/>
<path d="M117.7,98.3 L119.1,99.2 L117.6,98.7 L116.2,97.9Z" fill="#a13c2b"/>
<path d="M120.6,96.9 L122.0,98.3 L120.5,99.7 L119.1,99.2Z" fill="#8e3725"/>
<path d="M123.4,95.8 L124.9,97.5 L123.4,98.2 L122.0,98.3Z" fill="#924b22"/>
<path d="M126.3,96.4 L127.7,98.0 L126.3,99.0 L124.9,97.5Z" fill="#b15327"/>
<path d="M129.2,98.2 L130.6,99.3 L129.2,99.8 L127.7,98.0Z" fill="#bb582a"/>
<path d="M132.1,97.9 L133.5,99.1 L132.0,99.5 L130.6,99.3Z" fill="#b66327"/>
<path d="M135.0,98.5 L136.4,99.2 L134.9,101.3 L133.5,99.1Z" fill="#a94c27"/>
<path d="M137.9,99.2 L139.3,99.4 L137.8,100.5 L136.4,99.2Z" fill="#ab5026"/>
<path d="M140.8,97.5 L142.2,98.4 L140.7,101.5 L139.3,99.4Z" fill="#984125"/>
<path d="M143.7,95.0 L145.1,97.3 L143.6,99.7 L142.2,98.4Z" fill="#7f5b20"/>
<path d="M146.6,97.2 L148.0,99.5 L146.5,100.2 L145.1,97.3Z" fill="#925c2a"/>
<path d="M149.5,99.4 L150.9,99.1 L149.4,102.1 L148.0,99.5Z" fill="#822938"/>
<path d="M152.4,99.3 L153.8,98.7 L152.3,101.0 L150.9,99.1Z" fill="#893227"/>
<path d="M155.3,99.7 L156.7,99.1 L155.3,98.5 L153.8,98.7Z" fill="#764e22"/>
<path d="M158.2,100.2 L159.7,100.0 L158.2,100.1 L156.7,99.1Z" fill="#6c4434"/>
<path d="M161.2,101.9 L162.6,103.4 L161.1,102.7 L159.7,100.0Z" fill="#751b63"/>
<path d="M164.1,100.4 L165.5,101.6 L164.0,102.9 L162.6,103.4Z" fill="#802e23"/>
<path d="M167.0,100.8 L168.4,101.3 L166.9,103.0 L165.5,101.6Z" fill="#8f3229"/>
<path d="M169.9,99.7 L171.3,99.5 L169.8,101.6 L168.4,101.3Z" fill="#8b3b22"/>
<path d="M172.8,96.9 L174.2,94.9 L172.7,97.5 L171.3,99.5Z" fill="#373b11"/>
<path d="M175.7,93.4 L177.1,96.0 L175.6,97.1 L174.2,94.9Z" fill="#6d7421"/>
<path d="M178.6,97.8 L180.1,100.2 L178.6,99.5 L177.1,96.0Z" fill="#807626"/>
<path d="M181.6,100.1 L183.0,101.9 L181.5,101.1 L180.1,100.2Z" fill="#ce6a2c"/>
<path d="M184.5,100.8 L185.9,101.7 L184.4,101.6 L183.0,101.9Z" fill="#ab5325"/>
<path d="M187.4,101.3 L188.8,100.7 L187.3,102.3 L185.9,101.7Z" fill="#832c2b"/>
<path d="M190.3,97.2 L191.7,95.9 L190.2,101.1 L188.8,100.7Z" fill="#3c3b13"/>
<path d="M193.2,92.1 L194.7,93.5 L193.2,97.9 L191.7,95.9Z" fill="#565c19"/>
<path d="M196.2,92.9 L197.6,96.3 L196.1,97.7 L194.7,93.5Z" fill="#7b8425"/>
<path d="M199.1,98.5 L200.5,99.5 L199.0,101.1 L197.6,96.3Z" fill="#895f2e"/>
<path d="M202.0,99.5 L203.4,99.4 L201.9,99.8 L200.5,99.5Z" fill="#b66027"/>
<path d="M205.0,98.4 L206.4,99.7 L204.9,99.3 L203.4,99.4Z" fill="#c8722c"/>
<path d="M207.9,98.2 L209.3,97.1 L207.8,96.4 L206.4,99.7Z" fill="#945621"/>
<path d="M210.8,97.5 L212.2,98.1 L210.7,95.0 L209.3,97.1Z" fill="#986d26"/>
<path d="M213.8,98.9 L215.2,101.6 L213.7,100.3 L212.2,98.1Z" fill="#dc6b2f"/>
<path d="M216.7,99.3 L218.1,99.6 L216.6,100.4 L215.2,101.6Z" fill="#944720"/>
<path d="M219.6,99.0 L221.1,99.6 L219.5,101.4 L218.1,99.6Z" fill="#9f3e2a"/>
<path d="M222.6,99.5 L224.0,99.4 L222.5,101.6 L221.1,99.6Z" fill="#872a3a"/>
<path d="M225.5,96.8 L226.9,100.1 L225.4,101.6 L224.0,99.4Z" fill="#c35d2b"/>
<path d="M113.3,94.2 L114.7,96.0 L113.2,96.3 L111.8,93.9Z" fill="#6a7122"/>
<path d="M116.2,97.9 L117.6,98.7 L116.1,98.4 L114.7,96.0Z" fill="#c65a2e"/>
<path d="M119.1,99.2 L120.5,99.7 L119.0,100.2 L117.6,98.7Z" fill="#9e392b"/>
<path d="M122.0,98.3 L123.4,98.2 L121.9,99.6 L120.5,99.7Z" fill="#8f4220"/>
<path d="M124.9,97.5 L126.3,99.0 L124.8,100.0 L123.4,98.2Z" fill="#bb5c28"/>
<path d="M127.7,98.0 L129.2,99.8 L127.7,100.2 L126.3,99.0Z" fill="#c4672a"/>
<path d="M130.6,99.3 L132.0,99.5 L130.6,101.0 L129.2,99.8Z" fill="#a64f24"/>
<path d="M133.5,99.1 L134.9,101.3 L133.5,102.1 L132.0,99.5Z" fill="#c1572c"/>
<path d="M136.4,99.2 L137.8,100.5 L136.4,101.2 L134.9,101.3Z" fill="#a95824"/>
<path d="M139.3,99.4 L140.7,101.5 L139.2,101.8 L137.8,100.5Z" fill="#bb5829"/>
<path d="M142.2,98.4 L143.6,99.7 L142.1,100.4 L140.7,101.5Z" fill="#9c5422"/>
<path d="M145.1,97.3 L146.5,100.2 L145.1,101.3 L143.6,99.7Z" fill="#b55f27"/>
<path d="M148.0,99.5 L149.4,102.1 L148.0,101.5 L146.5,100.2Z" fill="#bc502e"/>
<path d="M150.9,99.1 L152.3,101.0 L150.9,102.2 L149.4,102.1Z" fill="#9c4923"/>
<path d="M153.8,98.7 L155.3,98.5 L153.8,98.7 L152.3,101.0Z" fill="#4a4817"/>
<path d="M156.7,99.1 L158.2,100.1 L156.7,100.4 L155.3,98.5Z" fill="#666c21"/>
<path d="M159.7,100.0 L161.1,102.7 L159.6,101.3 L158.2,100.1Z" fill="#815a30"/>
<path d="M162.6,103.4 L164.0,102.9 L162.5,100.8 L161.1,102.7Z" fill="#852c2f"/>
<path d="M165.5,101.6 L166.9,103.0 L165.4,102.9 L164.0,102.9Z" fill="#9a3d28"/>
<path d="M168.4,101.3 L169.8,101.6 L168.3,104.3 L166.9,103.0Z" fill="#7e2a2e"/>
<path d="M171.3,99.5 L172.7,97.5 L171.2,101.5 L169.8,101.6Z" fill="#573517"/>
<path d="M174.2,94.9 L175.6,97.1 L174.1,100.9 L172.7,97.5Z" fill="#61681e"/>
<path d="M177.1,96.0 L178.6,99.5 L177.1,100.9 L175.6,97.1Z" fill="#737a25"/>
<path d="M180.1,100.2 L181.5,101.1 L180.0,104.5 L178.6,99.5Z" fill="#9f343f"/>
<path d="M183.0,101.9 L184.4,101.6 L182.9,102.7 L181.5,101.1Z" fill="#a94a29"/>
<path d="M185.9,101.7 L187.3,102.3 L185.8,103.9 L184.4,101.6Z" fill="#9e372c"/>
<path d="M188.8,100.7 L190.2,101.1 L188.7,102.9 L187.3,102.3Z" fill="#8b3425"/>
<path d="M191.7,95.9 L193.2,97.9 L191.7,102.6 L190.2,101.1Z" fill="#4b4f18"/>
<path d="M194.7,93.5 L196.1,97.7 L194.6,100.1 L193.2,97.9Z" fill="#666d1f"/>
<path d="M197.6,96.3 L199.0,101.1 L197.5,101.9 L196.1,97.7Z" fill="#727925"/>
<path d="M200.5,99.5 L201.9,99.8 L200.4,101.1 L199.0,101.1Z" fill="#a55623"/>
<path d="M203.4,99.4 L204.9,99.3 L203.4,98.3 L201.9,99.8Z" fill="#b76a28"/>
<path d="M206.4,99.7 L207.8,96.4 L206.3,98.5 L204.9,99.3Z" fill="#77471b"/>
<path d="M209.3,97.1 L210.7,95.0 L209.2,97.2 L207.8,96.4Z" fill="#51541a"/>
<path d="M212.2,98.1 L213.7,100.3 L212.2,98.7 L210.7,95.0Z" fill="#b37c2d"/>
<path d="M215.2,101.6 L216.6,100.4 L215.1,102.7 L213.7,100.3Z" fill="#7c2347"/>
<path d="M218.1,99.6 L219.5,101.4 L218.0,102.0 L216.6,100.4Z" fill="#bb542c"/>
<path d="M221.1,99.6 L222.5,101.6 L221.0,102.0 L219.5,101.4Z" fill="#a6442a"/>
<path d="M224.0,99.4 L225.4,101.6 L223.9,102.4 L222.5,101.6Z" fill="#99362b"/>
<path d="M114.7,96.0 L116.1,98.4 L114.6,100.0 L113.2,96.3Z" fill="#b9632b"/>
<path d="M117.6,98.7 L119.0,100.2 L117.5,100.8 L116.1,98.4Z" fill="#bf582b"/>
<path d="M120.5,99.7 L121.9,99.6 L120.4,100.8 L119.0,100.2Z" fill="#974224"/>
<path d="M123.4,98.2 L124.8,100.0 L123.3,100.3 L121.9,99.6Z" fill="#c36d2b"/>
<path d="M126.3,99.0 L127.7,100.2 L126.2,102.6 L124.8,100.0Z" fill="#a54628"/>
<path d="M129.2,99.8 L130.6,101.0 L129.1,102.1 L127.7,100.2Z" fill="#b35329"/>
<path d="M132.0,99.5 L133.5,102.1 L132.0,101.8 L130.6,101.0Z" fill="#c7682b"/>
<path d="M134.9,101.3 L136.4,101.2 L134.9,101.7 L133.5,102.1Z" fill="#974522"/>
<path d="M137.8,100.5 L139.2,101.8 L137.8,103.2 L136.4,101.2Z" fill="#ac4a29"/>
<path d="M140.7,101.5 L142.1,100.4 L140.7,102.8 L139.2,101.8Z" fill="#813023"/>
<path d="M143.6,99.7 L145.1,101.3 L143.6,102.7 L142.1,100.4Z" fill="#b8542a"/>
<path d="M146.5,100.2 L148.0,101.5 L146.5,102.1 L145.1,101.3Z" fill="#9e3f29"/>
<path d="M149.4,102.1 L150.9,102.2 L149.4,103.0 L148.0,101.5Z" fill="#882a3d"/>
<path d="M152.3,101.0 L153.8,98.7 L152.3,101.6 L150.9,102.2Z" fill="#4f3119"/>
<path d="M155.3,98.5 L156.7,100.4 L155.2,101.5 L153.8,98.7Z" fill="#6a7022"/>
<path d="M158.2,100.1 L159.6,101.3 L158.1,102.9 L156.7,100.4Z" fill="#626820"/>
<path d="M161.1,102.7 L162.5,100.8 L161.0,102.5 L159.6,101.3Z" fill="#5a3137"/>
<path d="M164.0,102.9 L165.4,102.9 L163.9,103.4 L162.5,100.8Z" fill="#8c2752"/>
<path d="M166.9,103.0 L168.3,104.3 L166.8,102.6 L165.4,102.9Z" fill="#b14d2b"/>
<path d="M169.8,101.6 L171.2,101.5 L169.7,105.2 L168.3,104.3Z" fill="#6d232a"/>
<path d="M172.7,97.5 L174.1,100.9 L172.6,102.5 L171.2,101.5Z" fill="#866022"/>
<path d="M175.6,97.1 L177.1,100.9 L175.6,104.4 L174.1,100.9Z" fill="#626720"/>
<path d="M178.6,99.5 L180.0,104.5 L178.5,105.4 L177.1,100.9Z" fill="#a9403b"/>
<path d="M181.5,101.1 L182.9,102.7 L181.4,102.8 L180.0,104.5Z" fill="#a35923"/>
<path d="M184.4,101.6 L185.8,103.9 L184.3,104.0 L182.9,102.7Z" fill="#c3602a"/>
<path d="M187.3,102.3 L188.7,102.9 L187.2,103.8 L185.8,103.9Z" fill="#964025"/>
<path d="M190.2,101.1 L191.7,102.6 L190.2,105.9 L188.7,102.9Z" fill="#691952"/>
<path d="M193.2,97.9 L194.6,100.1 L193.1,103.6 L191.7,102.6Z" fill="#4f4e1b"/>
<path d="M196.1,97.7 L197.5,101.9 L196.0,103.7 L194.6,100.1Z" fill="#77682a"/>
<path d="M199.0,101.1 L200.4,101.1 L198.9,101.6 L197.5,101.9Z" fill="#a14d23"/>
<path d="M201.9,99.8 L203.4,98.3 L201.9,99.4 L200.4,101.1Z" fill="#89541f"/>
<path d="M204.9,99.3 L206.3,98.5 L204.8,97.4 L203.4,98.3Z" fill="#6e6020"/>
<path d="M207.8,96.4 L209.2,97.2 L207.7,97.2 L206.3,98.5Z" fill="#51561a"/>
<path d="M210.7,95.0 L212.2,98.7 L210.7,99.3 L209.2,97.2Z" fill="#6c7223"/>
<path d="M213.7,100.3 L215.1,102.7 L213.6,102.9 L212.2,98.7Z" fill="#c75232"/>
<path d="M216.6,100.4 L218.0,102.0 L216.5,103.1 L215.1,102.7Z" fill="#a24926"/>
<path d="M219.5,101.4 L221.0,102.0 L219.5,103.4 L218.0,102.0Z" fill="#8a2c3a"/>
<path d="M222.5,101.6 L223.9,102.4 L222.4,102.7 L221.0,102.0Z" fill="#8f2e39"/>
<path d="M116.1,98.4 L117.5,100.8 L116.0,101.0 L114.6,100.0Z" fill="#be6129"/>
<path d="M119.0,100.2 L120.4,100.8 L118.9,101.2 L117.5,100.8Z" fill="#aa5225"/>
<path d="M121.9,99.6 L123.3,100.3 L121.8,102.1 L120.4,100.8Z" fill="#a95424"/>
<path d="M124.8,100.0 L126.2,102.6 L124.7,102.2 L123.3,100.3Z" fill="#d2682c"/>
<path d="M127.7,100.2 L129.1,102.1 L127.6,103.4 L126.2,102.6Z" fill="#9f4725"/>
<path d="M130.6,101.0 L132.0,101.8 L130.5,102.2 L129.1,102.1Z" fill="#aa5624"/>
<path d="M133.5,102.1 L134.9,101.7 L133.4,103.5 L132.0,101.8Z" fill="#923528"/>
<path d="M136.4,101.2 L137.8,103.2 L136.3,103.7 L134.9,101.7Z" fill="#bd562b"/>
<path d="M139.2,101.8 L140.7,102.8 L139.2,103.8 L137.8,103.2Z" fill="#9a4126"/>
<path d="M142.1,100.4 L143.6,102.7 L142.1,102.8 L140.7,102.8Z" fill="#bc6729"/>
<path d="M145.1,101.3 L146.5,102.1 L145.0,102.7 L143.6,102.7Z" fill="#8e3925"/>
<path d="M148.0,101.5 L149.4,103.0 L147.9,102.8 L146.5,102.1Z" fill="#8f3c2d"/>
<path d="M150.9,102.2 L152.3,101.6 L150.8,103.5 L149.4,103.0Z" fill="#853323"/>
<path d="M153.8,98.7 L155.2,101.5 L153.7,103.8 L152.3,101.6Z" fill="#7e5623"/>
<path d="M156.7,100.4 L158.1,102.9 L156.6,103.5 L155.2,101.5Z" fill="#715d29"/>
<path d="M159.6,101.3 L161.0,102.5 L159.5,102.2 L158.1,102.9Z" fill="#5c5220"/>
<path d="M162.5,100.8 L163.9,103.4 L162.4,101.6 L161.0,102.5Z" fill="#7d5c23"/>
<path d="M165.4,102.9 L166.8,102.6 L165.3,103.4 L163.9,103.4Z" fill="#842e28"/>
<path d="M168.3,104.3 L169.7,105.2 L168.2,103.5 L166.8,102.6Z" fill="#b84a30"/>
<path d="M171.2,101.5 L172.6,102.5 L171.1,104.1 L169.7,105.2Z" fill="#8d471e"/>
<path d="M174.1,100.9 L175.6,104.4 L174.1,104.2 L172.6,102.5Z" fill="#af4b2f"/>
<path d="M177.1,100.9 L178.5,105.4 L177.0,105.1 L175.6,104.4Z" fill="#ac422e"/>
<path d="M180.0,104.5 L181.4,102.8 L179.9,103.8 L178.5,105.4Z" fill="#722a1f"/>
<path d="M182.9,102.7 L184.3,104.0 L182.8,104.6 L181.4,102.8Z" fill="#c05c2a"/>
<path d="M185.8,103.9 L187.2,103.8 L185.7,106.1 L184.3,104.0Z" fill="#7e2540"/>
<path d="M188.7,102.9 L190.2,105.9 L188.7,105.4 L187.2,103.8Z" fill="#af3d33"/>
<path d="M191.7,102.6 L193.1,103.6 L191.6,105.9 L190.2,105.9Z" fill="#591543"/>
<path d="M194.6,100.1 L196.0,103.7 L194.5,105.7 L193.1,103.6Z" fill="#87313e"/>
<path d="M197.5,101.9 L198.9,101.6 L197.4,104.7 L196.0,103.7Z" fill="#77272a"/>
<path d="M200.4,101.1 L201.9,99.4 L200.4,103.9 L198.9,101.6Z" fill="#893b21"/>
<path d="M203.4,98.3 L204.8,97.4 L203.3,99.2 L201.9,99.4Z" fill="#4c5119"/>
<path d="M206.3,98.5 L207.7,97.2 L206.2,97.3 L204.8,97.4Z" fill="#595f1c"/>
<path d="M209.2,97.2 L210.7,99.3 L209.1,99.4 L207.7,97.2Z" fill="#707624"/>
<path d="M212.2,98.7 L213.6,102.9 L212.1,102.0 L210.7,99.3Z" fill="#c0752d"/>
<path d="M215.1,102.7 L216.5,103.1 L215.0,104.0 L213.6,102.9Z" fill="#8e2f35"/>
<path d="M218.0,102.0 L219.5,103.4 L218.0,103.1 L216.5,103.1Z" fill="#ab4b29"/>
<path d="M221.0,102.0 L222.4,102.7 L220.9,104.4 L219.5,103.4Z" fill="#7f273a"/>
<path d="M117.5,100.8 L118.9,101.2 L117.4,103.6 L116.0,101.0Z" fill="#94342a"/>
<path d="M120.4,100.8 L121.8,102.1 L120.3,102.9 L118.9,101.2Z" fill="#b25229"/>
<path d="M123.3,100.3 L124.7,102.2 L123.2,103.7 L121.8,102.1Z" fill="#af5327"/>
<path d="M126.2,102.6 L127.6,103.4 L126.1,104.5 L124.7,102.2Z" fill="#8a2945"/>
<path d="M129.1,102.1 L130.5,102.2 L129.0,104.5 L127.6,103.4Z" fill="#842f25"/>
<path d="M132.0,101.8 L133.4,103.5 L131.9,104.1 L130.5,102.2Z" fill="#b9542b"/>
<path d="M134.9,101.7 L136.3,103.7 L134.8,104.3 L133.4,103.5Z" fill="#af5426"/>
<path d="M137.8,103.2 L139.2,103.8 L137.7,103.5 L136.3,103.7Z" fill="#a64c26"/>
<path d="M140.7,102.8 L142.1,102.8 L140.6,104.6 L139.2,103.8Z" fill="#913d24"/>
<path d="M143.6,102.7 L145.0,102.7 L143.5,103.9 L142.1,102.8Z" fill="#9a3f27"/>
<path d="M146.5,102.1 L147.9,102.8 L146.4,102.7 L145.0,102.7Z" fill="#6d4826"/>
<path d="M149.4,103.0 L150.8,103.5 L149.3,104.2 L147.9,102.8Z" fill="#883533"/>
<path d="M152.3,101.6 L153.7,103.8 L152.2,104.6 L150.8,103.5Z" fill="#b25427"/>
<path d="M155.2,101.5 L156.6,103.5 L155.1,104.2 L153.7,103.8Z" fill="#9e4a26"/>
<path d="M158.1,102.9 L159.5,102.2 L158.0,103.2 L156.6,103.5Z" fill="#5b3f24"/>
<path d="M161.0,102.5 L162.4,101.6 L160.9,99.4 L159.5,102.2Z" fill="#51561a"/>
<path d="M163.9,103.4 L165.3,103.4 L163.8,99.9 L162.4,101.6Z" fill="#626820"/>
<path d="M166.8,102.6 L168.2,103.5 L166.7,103.3 L165.3,103.4Z" fill="#b65e27"/>
<path d="M169.7,105.2 L171.1,104.1 L169.6,106.4 L168.2,103.5Z" fill="#7c224d"/>
<path d="M172.6,102.5 L174.1,104.2 L172.6,104.8 L171.1,104.1Z" fill="#ba6128"/>
<path d="M175.6,104.4 L177.0,105.1 L175.5,105.8 L174.1,104.2Z" fill="#8a2a42"/>
<path d="M178.5,105.4 L179.9,103.8 L178.4,106.3 L177.0,105.1Z" fill="#651a44"/>
<path d="M181.4,102.8 L182.8,104.6 L181.3,106.2 L179.9,103.8Z" fill="#be5b2a"/>
<path d="M184.3,104.0 L185.7,106.1 L184.2,106.5 L182.8,104.6Z" fill="#aa3d2f"/>
<path d="M187.2,103.8 L188.7,105.4 L187.1,107.5 L185.7,106.1Z" fill="#81283a"/>
<path d="M190.2,105.9 L191.6,105.9 L190.1,107.5 L188.7,105.4Z" fill="#591351"/>
<path d="M193.1,103.6 L194.5,105.7 L193.0,107.1 L191.6,105.9Z" fill="#741e50"/>
<path d="M196.0,103.7 L197.4,104.7 L195.9,107.5 L194.5,105.7Z" fill="#63184d"/>
<path d="M198.9,101.6 L200.4,103.9 L198.9,105.8 L197.4,104.7Z" fill="#a44b26"/>
<path d="M201.9,99.4 L203.3,99.2 L201.8,103.6 L200.4,103.9Z" fill="#483d15"/>
<path d="M204.8,97.4 L206.2,97.3 L204.7,97.6 L203.3,99.2Z" fill="#4f5418"/>
<path d="M207.7,97.2 L209.1,99.4 L207.6,99.9 L206.2,97.3Z" fill="#737a24"/>
<path d="M210.7,99.3 L212.1,102.0 L210.6,100.9 L209.1,99.4Z" fill="#707724"/>
<path d="M213.6,102.9 L215.0,104.0 L213.5,101.9 L212.1,102.0Z" fill="#d16c2d"/>
<path d="M216.5,103.1 L218.0,103.1 L216.4,103.2 L215.0,104.0Z" fill="#a14d23"/>
<path d="M219.5,103.4 L220.9,104.4 L219.4,104.1 L218.0,103.1Z" fill="#a53a2e"/>
<path d="M118.9,101.2 L120.3,102.9 L118.8,104.6 L117.4,103.6Z" fill="#933b26"/>
<path d="M121.8,102.1 L123.2,103.7 L121.7,104.2 L120.3,102.9Z" fill="#a7452a"/>
<path d="M124.7,102.2 L126.1,104.5 L124.6,105.7 L123.2,103.7Z" fill="#973334"/>
<path d="M127.6,103.4 L129.0,104.5 L127.5,104.8 L126.1,104.5Z" fill="#8d302c"/>
<path d="M130.5,102.2 L131.9,104.1 L130.4,105.2 L129.0,104.5Z" fill="#a24926"/>
<path d="M133.4,103.5 L134.8,104.3 L133.3,106.2 L131.9,104.1Z" fill="#872b39"/>
<path d="M136.3,103.7 L137.7,103.5 L136.2,105.7 L134.8,104.3Z" fill="#8a3126"/>
<path d="M139.2,103.8 L140.6,104.6 L139.1,105.4 L137.7,103.5Z" fill="#a9452b"/>
<path d="M142.1,102.8 L143.5,103.9 L142.0,106.2 L140.6,104.6Z" fill="#9a4225"/>
<path d="M145.0,102.7 L146.4,102.7 L144.9,104.8 L143.5,103.9Z" fill="#723725"/>
<path d="M147.9,102.8 L149.3,104.2 L147.8,105.0 L146.4,102.7Z" fill="#714b36"/>
<path d="M150.8,103.5 L152.2,104.6 L150.7,106.3 L149.3,104.2Z" fill="#96332f"/>
<path d="M153.7,103.8 L155.1,104.2 L153.6,105.6 L152.2,104.6Z" fill="#9c4226"/>
<path d="M156.6,103.5 L158.0,103.2 L156.5,105.9 L155.1,104.2Z" fill="#832d29"/>
<path d="M159.5,102.2 L160.9,99.4 L159.4,102.5 L158.0,103.2Z" fill="#3d4013"/>
<path d="M162.4,101.6 L163.8,99.9 L162.3,99.0 L160.9,99.4Z" fill="#5e651d"/>
<path d="M165.3,103.4 L166.7,103.3 L165.2,102.3 L163.8,99.9Z" fill="#717825"/>
<path d="M168.2,103.5 L169.6,106.4 L168.1,105.3 L166.7,103.3Z" fill="#e47531"/>
<path d="M171.1,104.1 L172.6,104.8 L171.1,104.6 L169.6,106.4Z" fill="#a25b23"/>
<path d="M174.1,104.2 L175.5,105.8 L174.0,107.5 L172.6,104.8Z" fill="#a93f2d"/>
<path d="M177.0,105.1 L178.4,106.3 L176.9,107.1 L175.5,105.8Z" fill="#97342f"/>
<path d="M179.9,103.8 L181.3,106.2 L179.8,106.9 L178.4,106.3Z" fill="#b15526"/>
<path d="M182.8,104.6 L184.2,106.5 L182.7,107.9 L181.3,106.2Z" fill="#973331"/>
<path d="M185.7,106.1 L187.1,107.5 L185.6,106.8 L184.2,106.5Z" fill="#922f3a"/>
<path d="M188.7,105.4 L190.1,107.5 L188.6,107.7 L187.1,107.5Z" fill="#7f2543"/>
<path d="M191.6,105.9 L193.0,107.1 L191.5,109.2 L190.1,107.5Z" fill="#56134e"/>
<path d="M194.5,105.7 L195.9,107.5 L194.4,108.3 L193.0,107.1Z" fill="#671854"/>
<path d="M197.4,104.7 L198.9,105.8 L197.3,107.7 L195.9,107.5Z" fill="#6d1f3d"/>
<path d="M200.4,103.9 L201.8,103.6 L200.3,105.4 L198.9,105.8Z" fill="#762b23"/>
<path d="M203.3,99.2 L204.7,97.6 L203.2,102.6 L201.8,103.6Z" fill="#333610"/>
<path d="M206.2,97.3 L207.6,99.9 L206.1,101.4 L204.7,97.6Z" fill="#777e25"/>
<path d="M209.1,99.4 L210.6,100.9 L209.1,101.8 L207.6,99.9Z" fill="#686f21"/>
<path d="M212.1,102.0 L213.5,101.9 L212.0,104.2 L210.6,100.9Z" fill="#9c5529"/>
<path d="M215.0,104.0 L216.4,103.2 L214.9,104.8 L213.5,101.9Z" fill="#b24a2c"/>
<path d="M218.0,103.1 L219.4,104.1 L217.9,105.3 L216.4,103.2Z" fill="#b34e2b"/>
<path d="M120.3,102.9 L121.7,104.2 L120.2,103.4 L118.8,104.6Z" fill="#a75423"/>
<path d="M123.2,103.7 L124.6,105.7 L123.1,105.2 L121.7,104.2Z" fill="#a1382e"/>
<path d="M126.1,104.5 L127.5,104.8 L126.0,104.7 L124.6,105.7Z" fill="#883324"/>
<path d="M129.0,104.5 L130.4,105.2 L128.9,104.3 L127.5,104.8Z" fill="#a44a26"/>
<path d="M131.9,104.1 L133.3,106.2 L131.8,106.4 L130.4,105.2Z" fill="#9e372d"/>
<path d="M134.8,104.3 L136.2,105.7 L134.7,106.7 L133.3,106.2Z" fill="#8d3128"/>
<path d="M137.7,103.5 L139.1,105.4 L137.6,107.1 L136.2,105.7Z" fill="#9d4127"/>
<path d="M140.6,104.6 L142.0,106.2 L140.5,106.6 L139.1,105.4Z" fill="#a4412a"/>
<path d="M143.5,103.9 L144.9,104.8 L143.4,105.5 L142.0,106.2Z" fill="#974821"/>
<path d="M146.4,102.7 L147.8,105.0 L146.3,106.2 L144.9,104.8Z" fill="#783e31"/>
<path d="M149.3,104.2 L150.7,106.3 L149.2,106.6 L147.8,105.0Z" fill="#7e3048"/>
<path d="M152.2,104.6 L153.6,105.6 L152.1,107.2 L150.7,106.3Z" fill="#822b31"/>
<path d="M155.1,104.2 L156.5,105.9 L155.0,106.5 L153.6,105.6Z" fill="#af5227"/>
<path d="M158.0,103.2 L159.4,102.5 L157.9,105.5 L156.5,105.9Z" fill="#553b18"/>
<path d="M160.9,99.4 L162.3,99.0 L160.8,101.6 L159.4,102.5Z" fill="#454915"/>
<path d="M163.8,99.9 L165.2,102.3 L163.7,102.9 L162.3,99.0Z" fill="#788025"/>
<path d="M166.7,103.3 L168.1,105.3 L166.6,106.4 L165.2,102.3Z" fill="#9f622c"/>
<path d="M169.6,106.4 L171.1,104.6 L169.6,107.7 L168.1,105.3Z" fill="#802a32"/>
<path d="M172.6,104.8 L174.0,107.5 L172.5,106.7 L171.1,104.6Z" fill="#e47731"/>
<path d="M175.5,105.8 L176.9,107.1 L175.4,108.2 L174.0,107.5Z" fill="#903229"/>
<path d="M178.4,106.3 L179.8,106.9 L178.3,108.1 L176.9,107.1Z" fill="#892d32"/>
<path d="M181.3,106.2 L182.7,107.9 L181.2,107.8 L179.8,106.9Z" fill="#a1392d"/>
<path d="M184.2,106.5 L185.6,106.8 L184.1,107.4 L182.7,107.9Z" fill="#842e25"/>
<path d="M187.1,107.5 L188.6,107.7 L187.1,108.7 L185.6,106.8Z" fill="#6f1a57"/>
<path d="M190.1,107.5 L191.5,109.2 L190.0,109.0 L188.6,107.7Z" fill="#6c1959"/>
<path d="M193.0,107.1 L194.4,108.3 L192.9,108.1 L191.5,109.2Z" fill="#691a4a"/>
<path d="M195.9,107.5 L197.3,107.7 L195.8,107.6 L194.4,108.3Z" fill="#681a4c"/>
<path d="M198.9,105.8 L200.3,105.4 L198.8,107.9 L197.3,107.7Z" fill="#661d39"/>
<path d="M201.8,103.6 L203.2,102.6 L201.7,105.7 L200.3,105.4Z" fill="#62341d"/>
<path d="M204.7,97.6 L206.1,101.4 L204.6,103.2 L203.2,102.6Z" fill="#595e1c"/>
<path d="M207.6,99.9 L209.1,101.8 L207.6,103.6 L206.1,101.4Z" fill="#646a20"/>
<path d="M210.6,100.9 L212.0,104.2 L210.5,103.7 L209.1,101.8Z" fill="#987629"/>
<path d="M213.5,101.9 L214.9,104.8 L213.4,104.4 L212.0,104.2Z" fill="#d57c2f"/>
<path d="M216.4,103.2 L217.9,105.3 L216.4,106.2 L214.9,104.8Z" fill="#c05f29"/>
<path d="M121.7,104.2 L123.1,105.2 L121.6,105.7 L120.2,103.4Z" fill="#ae442e"/>
<path d="M124.6,105.7 L126.0,104.7 L124.5,106.4 L123.1,105.2Z" fill="#73223d"/>
<path d="M127.5,104.8 L128.9,104.3 L127.4,106.5 L126.0,104.7Z" fill="#8e3327"/>
<path d="M130.4,105.2 L131.8,106.4 L130.3,107.6 L128.9,104.3Z" fill="#982f45"/>
<path d="M133.3,106.2 L134.7,106.7 L133.2,107.6 L131.8,106.4Z" fill="#782149"/>
<path d="M136.2,105.7 L137.6,107.1 L136.1,107.7 L134.7,106.7Z" fill="#8a2c38"/>
<path d="M139.1,105.4 L140.5,106.6 L139.0,106.6 L137.6,107.1Z" fill="#9d4724"/>
<path d="M142.0,106.2 L143.4,105.5 L141.9,107.5 L140.5,106.6Z" fill="#7f2b2a"/>
<path d="M144.9,104.8 L146.3,106.2 L144.8,107.6 L143.4,105.5Z" fill="#943136"/>
<path d="M147.8,105.0 L149.2,106.6 L147.7,106.6 L146.3,106.2Z" fill="#693341"/>
<path d="M150.7,106.3 L152.1,107.2 L150.6,106.0 L149.2,106.6Z" fill="#63333e"/>
<path d="M153.6,105.6 L155.0,106.5 L153.5,106.3 L152.1,107.2Z" fill="#8e3825"/>
<path d="M156.5,105.9 L157.9,105.5 L156.4,106.6 L155.0,106.5Z" fill="#903c24"/>
<path d="M159.4,102.5 L160.8,101.6 L159.3,104.5 L157.9,105.5Z" fill="#3e4214"/>
<path d="M162.3,99.0 L163.7,102.9 L162.2,105.0 L160.8,101.6Z" fill="#707722"/>
<path d="M165.2,102.3 L166.6,106.4 L165.1,106.4 L163.7,102.9Z" fill="#737925"/>
<path d="M168.1,105.3 L169.6,107.7 L168.1,108.2 L166.6,106.4Z" fill="#b74f2c"/>
<path d="M171.1,104.6 L172.5,106.7 L171.0,109.8 L169.6,107.7Z" fill="#a24925"/>
<path d="M174.0,107.5 L175.4,108.2 L173.9,110.8 L172.5,106.7Z" fill="#711b5b"/>
<path d="M176.9,107.1 L178.3,108.1 L176.8,108.9 L175.4,108.2Z" fill="#8e302f"/>
<path d="M179.8,106.9 L181.2,107.8 L179.7,108.3 L178.3,108.1Z" fill="#973c27"/>
<path d="M182.7,107.9 L184.1,107.4 L182.6,109.5 L181.2,107.8Z" fill="#6e1c4e"/>
<path d="M185.6,106.8 L187.1,108.7 L185.6,108.0 L184.1,107.4Z" fill="#b24b2c"/>
<path d="M188.6,107.7 L190.0,109.0 L188.5,110.0 L187.1,108.7Z" fill="#6c1a53"/>
<path d="M191.5,109.2 L192.9,108.1 L191.4,109.8 L190.0,109.0Z" fill="#4b1047"/>
<path d="M194.4,108.3 L195.8,107.6 L194.3,108.1 L192.9,108.1Z" fill="#722041"/>
<path d="M197.3,107.7 L198.8,107.9 L197.3,108.6 L195.8,107.6Z" fill="#7b224a"/>
<path d="M200.3,105.4 L201.7,105.7 L200.2,108.3 L198.8,107.9Z" fill="#7b2b23"/>
<path d="M203.2,102.6 L204.6,103.2 L203.1,107.4 L201.7,105.7Z" fill="#743d1f"/>
<path d="M206.1,101.4 L207.6,103.6 L206.0,106.7 L204.6,103.2Z" fill="#7f5d24"/>
<path d="M209.1,101.8 L210.5,103.7 L209.0,105.6 L207.6,103.6Z" fill="#9c6225"/>
<path d="M212.0,104.2 L213.4,104.4 L211.9,106.2 L210.5,103.7Z" fill="#bc5a29"/>
<path d="M214.9,104.8 L216.4,106.2 L214.8,106.6 L213.4,104.4Z" fill="#ca612c"/>
<path d="M123.1,105.2 L124.5,106.4 L123.0,107.2 L121.6,105.7Z" fill="#97342d"/>
<path d="M126.0,104.7 L127.4,106.5 L125.9,106.2 L124.5,106.4Z" fill="#b15925"/>
<path d="M128.9,104.3 L130.3,107.6 L128.8,107.1 L127.4,106.5Z" fill="#c36229"/>
<path d="M131.8,106.4 L133.2,107.6 L131.7,108.1 L130.3,107.6Z" fill="#852a37"/>
<path d="M134.7,106.7 L136.1,107.7 L134.6,107.8 L133.2,107.6Z" fill="#8d302d"/>
<path d="M137.6,107.1 L139.0,106.6 L137.5,108.6 L136.1,107.7Z" fill="#712238"/>
<path d="M140.5,106.6 L141.9,107.5 L140.4,108.3 L139.0,106.6Z" fill="#a23d2b"/>
<path d="M143.4,105.5 L144.8,107.6 L143.3,108.6 L141.9,107.5Z" fill="#a44528"/>
<path d="M146.3,106.2 L147.7,106.6 L146.2,107.3 L144.8,107.6Z" fill="#6b2b34"/>
<path d="M149.2,106.6 L150.6,106.0 L149.1,102.7 L147.7,106.6Z" fill="#4f5319"/>
<path d="M152.1,107.2 L153.5,106.3 L152.0,102.5 L150.6,106.0Z" fill="#555a1b"/>
<path d="M155.0,106.5 L156.4,106.6 L154.9,106.3 L153.5,106.3Z" fill="#a34e26"/>
<path d="M157.9,105.5 L159.3,104.5 L157.8,108.3 L156.4,106.6Z" fill="#763320"/>
<path d="M160.8,101.6 L162.2,105.0 L160.7,107.1 L159.3,104.5Z" fill="#646a20"/>
<path d="M163.7,102.9 L165.1,106.4 L163.6,108.4 L162.2,105.0Z" fill="#6b7122"/>
<path d="M166.6,106.4 L168.1,108.2 L166.6,110.3 L165.1,106.4Z" fill="#82235e"/>
<path d="M169.6,107.7 L171.0,109.8 L169.5,109.4 L168.1,108.2Z" fill="#a83b2f"/>
<path d="M172.5,106.7 L173.9,110.8 L172.4,108.5 L171.0,109.8Z" fill="#c4652a"/>
<path d="M175.4,108.2 L176.8,108.9 L175.3,110.4 L173.9,110.8Z" fill="#691e39"/>
<path d="M178.3,108.1 L179.7,108.3 L178.2,109.6 L176.8,108.9Z" fill="#872e2d"/>
<path d="M181.2,107.8 L182.6,109.5 L181.1,110.7 L179.7,108.3Z" fill="#8d2a49"/>
<path d="M184.1,107.4 L185.6,108.0 L184.1,110.7 L182.6,109.5Z" fill="#762536"/>
<path d="M187.1,108.7 L188.5,110.0 L187.0,108.4 L185.6,108.0Z" fill="#ac3f2f"/>
<path d="M190.0,109.0 L191.4,109.8 L189.9,111.4 L188.5,110.0Z" fill="#58144e"/>
<path d="M192.9,108.1 L194.3,108.1 L192.8,109.8 L191.4,109.8Z" fill="#6f2236"/>
<path d="M195.8,107.6 L197.3,108.6 L195.8,108.9 L194.3,108.1Z" fill="#9f3c2b"/>
<path d="M198.8,107.9 L200.2,108.3 L198.7,108.7 L197.3,108.6Z" fill="#892e2f"/>
<path d="M201.7,105.7 L203.1,107.4 L201.6,108.2 L200.2,108.3Z" fill="#9f4725"/>
<path d="M204.6,103.2 L206.0,106.7 L204.5,109.2 L203.1,107.4Z" fill="#a94b28"/>
<path d="M207.6,103.6 L209.0,105.6 L207.5,108.7 L206.0,106.7Z" fill="#a14726"/>
<path d="M210.5,103.7 L211.9,106.2 L210.4,108.5 L209.0,105.6Z" fill="#c5622a"/>
<path d="M213.4,104.4 L214.8,106.6 L213.3,106.8 L211.9,106.2Z" fill="#cd742d"/>
<path d="M124.5,106.4 L125.9,106.2 L124.4,107.7 L123.0,107.2Z" fill="#873324"/>
<path d="M127.4,106.5 L128.8,107.1 L127.3,107.0 L125.9,106.2Z" fill="#b25328"/>
<path d="M130.3,107.6 L131.7,108.1 L130.2,108.6 L128.8,107.1Z" fill="#8a2b40"/>
<path d="M133.2,107.6 L134.6,107.8 L133.1,108.8 L131.7,108.1Z" fill="#802935"/>
<path d="M136.1,107.7 L137.5,108.6 L136.0,109.5 L134.6,107.8Z" fill="#872942"/>
<path d="M139.0,106.6 L140.4,108.3 L138.9,109.8 L137.5,108.6Z" fill="#943728"/>
<path d="M141.9,107.5 L143.3,108.6 L141.8,109.4 L140.4,108.3Z" fill="#96342b"/>
<path d="M144.8,107.6 L146.2,107.3 L144.7,107.6 L143.3,108.6Z" fill="#843322"/>
<path d="M147.7,106.6 L149.1,102.7 L147.6,103.8 L146.2,107.3Z" fill="#333610"/>
<path d="M150.6,106.0 L152.0,102.5 L150.5,99.9 L149.1,102.7Z" fill="#555a19"/>
<path d="M153.5,106.3 L154.9,106.3 L153.4,104.7 L152.0,102.5Z" fill="#747b25"/>
<path d="M156.4,106.6 L157.8,108.3 L156.3,109.3 L154.9,106.3Z" fill="#b94b2f"/>
<path d="M159.3,104.5 L160.7,107.1 L159.2,110.1 L157.8,108.3Z" fill="#934524"/>
<path d="M162.2,105.0 L163.6,108.4 L162.1,108.5 L160.7,107.1Z" fill="#845527"/>
<path d="M165.1,106.4 L166.6,110.3 L165.1,111.3 L163.6,108.4Z" fill="#87275b"/>
<path d="M168.1,108.2 L169.5,109.4 L168.0,110.0 L166.6,110.3Z" fill="#8c3426"/>
<path d="M171.0,109.8 L172.4,108.5 L170.9,109.0 L169.5,109.4Z" fill="#863124"/>
<path d="M173.9,110.8 L175.3,110.4 L173.8,110.2 L172.4,108.5Z" fill="#7c1e5c"/>
<path d="M176.8,108.9 L178.2,109.6 L176.7,111.1 L175.3,110.4Z" fill="#7a2638"/>
<path d="M179.7,108.3 L181.1,110.7 L179.6,110.9 L178.2,109.6Z" fill="#a13731"/>
<path d="M182.6,109.5 L184.1,110.7 L182.6,111.4 L181.1,110.7Z" fill="#701c52"/>
<path d="M185.6,108.0 L187.0,108.4 L185.5,111.7 L184.1,110.7Z" fill="#6f2330"/>
<path d="M188.5,110.0 L189.9,111.4 L188.4,110.7 L187.0,108.4Z" fill="#892265"/>
<path d="M191.4,109.8 L192.8,109.8 L191.3,112.0 L189.9,111.4Z" fill="#501245"/>
<path d="M194.3,108.1 L195.8,108.9 L194.2,111.0 L192.8,109.8Z" fill="#822a33"/>
<path d="M197.3,108.6 L198.7,108.7 L197.2,110.6 L195.8,108.9Z" fill="#7d2542"/>
<path d="M200.2,108.3 L201.6,108.2 L200.1,110.7 L198.7,108.7Z" fill="#711d4c"/>
<path d="M203.1,107.4 L204.5,109.2 L203.0,109.1 L201.6,108.2Z" fill="#ac442c"/>
<path d="M206.0,106.7 L207.5,108.7 L206.0,109.8 L204.5,109.2Z" fill="#933429"/>
<path d="M209.0,105.6 L210.4,108.5 L208.9,110.1 L207.5,108.7Z" fill="#a84729"/>
<path d="M211.9,106.2 L213.3,106.8 L211.8,108.6 L210.4,108.5Z" fill="#9f4f22"/>
<path d="M125.9,106.2 L127.3,107.0 L125.8,109.5 L124.4,107.7Z" fill="#943b26"/>
<path d="M128.8,107.1 L130.2,108.6 L128.7,110.3 L127.3,107.0Z" fill="#9b323e"/>
<path d="M131.7,108.1 L133.1,108.8 L131.6,108.0 L130.2,108.6Z" fill="#a24826"/>
<path d="M134.6,107.8 L136.0,109.5 L134.5,110.7 L133.1,108.8Z" fill="#8a2b3f"/>
<path d="M137.5,108.6 L138.9,109.8 L137.4,110.3 L136.0,109.5Z" fill="#85293c"/>
<path d="M140.4,108.3 L141.8,109.4 L140.3,109.8 L138.9,109.8Z" fill="#943a26"/>
<path d="M143.3,108.6 L144.7,107.6 L143.2,109.2 L141.8,109.4Z" fill="#813321"/>
<path d="M146.2,107.3 L147.6,103.8 L146.1,105.8 L144.7,107.6Z" fill="#3a3b12"/>
<path d="M149.1,102.7 L150.5,99.9 L149.0,100.0 L147.6,103.8Z" fill="#3d4212"/>
<path d="M152.0,102.5 L153.4,104.7 L151.9,102.4 L150.5,99.9Z" fill="#7e8725"/>
<path d="M154.9,106.3 L156.3,109.3 L154.8,109.5 L153.4,104.7Z" fill="#7d6c2a"/>
<path d="M157.8,108.3 L159.2,110.1 L157.7,111.0 L156.3,109.3Z" fill="#983334"/>
<path d="M160.7,107.1 L162.1,108.5 L160.6,110.8 L159.2,110.1Z" fill="#873324"/>
<path d="M163.6,108.4 L165.1,111.3 L163.6,111.8 L162.1,108.5Z" fill="#8d2464"/>
<path d="M166.6,110.3 L168.0,110.0 L166.5,111.1 L165.1,111.3Z" fill="#691d40"/>
<path d="M169.5,109.4 L170.9,109.0 L169.4,110.6 L168.0,110.0Z" fill="#913c24"/>
<path d="M172.4,108.5 L173.8,110.2 L172.3,110.2 L170.9,109.0Z" fill="#c6652a"/>
<path d="M175.3,110.4 L176.7,111.1 L175.2,110.9 L173.8,110.2Z" fill="#923037"/>
<path d="M178.2,109.6 L179.6,110.9 L178.1,111.1 L176.7,111.1Z" fill="#933529"/>
<path d="M181.1,110.7 L182.6,111.4 L181.1,111.7 L179.6,110.9Z" fill="#771f4f"/>
<path d="M184.1,110.7 L185.5,111.7 L184.0,112.2 L182.6,111.4Z" fill="#6c1a53"/>
<path d="M187.0,108.4 L188.4,110.7 L186.9,113.1 L185.5,111.7Z" fill="#7e273b"/>
<path d="M189.9,111.4 L191.3,112.0 L189.8,111.3 L188.4,110.7Z" fill="#731c57"/>
<path d="M192.8,109.8 L194.2,111.0 L192.7,112.1 L191.3,112.0Z" fill="#6d1d47"/>
<path d="M195.8,108.9 L197.2,110.6 L195.7,111.2 L194.2,111.0Z" fill="#8f312b"/>
<path d="M198.7,108.7 L200.1,110.7 L198.6,109.9 L197.2,110.6Z" fill="#8b2d35"/>
<path d="M201.6,108.2 L203.0,109.1 L201.5,109.8 L200.1,110.7Z" fill="#863324"/>
<path d="M204.5,109.2 L206.0,109.8 L204.5,110.2 L203.0,109.1Z" fill="#963235"/>
<path d="M207.5,108.7 L208.9,110.1 L207.4,111.0 L206.0,109.8Z" fill="#8a2b3e"/>
<path d="M210.4,108.5 L211.8,108.6 L210.3,111.3 L208.9,110.1Z" fill="#72213c"/>
<path d="M127.3,107.0 L128.7,110.3 L127.2,110.8 L125.8,109.5Z" fill="#a7412b"/>
<path d="M130.2,108.6 L131.6,108.0 L130.1,109.8 L128.7,110.3Z" fill="#772d20"/>
<path d="M133.1,108.8 L134.5,110.7 L133.0,110.2 L131.6,108.0Z" fill="#b64331"/>
<path d="M136.0,109.5 L137.4,110.3 L135.9,110.8 L134.5,110.7Z" fill="#7e2835"/>
<path d="M138.9,109.8 L140.3,109.8 L138.8,112.9 L137.4,110.3Z" fill="#5d164c"/>
<path d="M141.8,109.4 L143.2,109.2 L141.7,111.1 L140.3,109.8Z" fill="#872e2a"/>
<path d="M144.7,107.6 L146.1,105.8 L144.6,110.7 L143.2,109.2Z" fill="#6e2d1d"/>
<path d="M147.6,103.8 L149.0,100.0 L147.5,106.6 L146.1,105.8Z" fill="#353910"/>
<path d="M150.5,99.9 L151.9,102.4 L150.4,103.7 L149.0,100.0Z" fill="#7e8824"/>
<path d="M153.4,104.7 L154.8,109.5 L153.3,109.0 L151.9,102.4Z" fill="#788025"/>
<path d="M156.3,109.3 L157.7,111.0 L156.2,111.8 L154.8,109.5Z" fill="#8f2a4a"/>
<path d="M159.2,110.1 L160.6,110.8 L159.2,111.6 L157.7,111.0Z" fill="#8a2f2e"/>
<path d="M162.1,108.5 L163.6,111.8 L162.1,111.2 L160.6,110.8Z" fill="#bd5b29"/>
<path d="M165.1,111.3 L166.5,111.1 L165.0,111.6 L163.6,111.8Z" fill="#75233b"/>
<path d="M168.0,110.0 L169.4,110.6 L167.9,111.1 L166.5,111.1Z" fill="#9e4824"/>
<path d="M170.9,109.0 L172.3,110.2 L170.8,111.1 L169.4,110.6Z" fill="#b25c26"/>
<path d="M173.8,110.2 L175.2,110.9 L173.7,111.3 L172.3,110.2Z" fill="#ac4b29"/>
<path d="M176.7,111.1 L178.1,111.1 L176.6,113.0 L175.2,110.9Z" fill="#79214c"/>
<path d="M179.6,110.9 L181.1,111.7 L179.5,113.5 L178.1,111.1Z" fill="#751d56"/>
<path d="M182.6,111.4 L184.0,112.2 L182.5,114.4 L181.1,111.7Z" fill="#5c1453"/>
<path d="M185.5,111.7 L186.9,113.1 L185.4,112.7 L184.0,112.2Z" fill="#741c57"/>
<path d="M188.4,110.7 L189.8,111.3 L188.3,113.2 L186.9,113.1Z" fill="#611944"/>
<path d="M191.3,112.0 L192.7,112.1 L191.2,111.9 L189.8,111.3Z" fill="#751d56"/>
<path d="M194.2,111.0 L195.7,111.2 L194.2,112.6 L192.7,112.1Z" fill="#67194c"/>
<path d="M197.2,110.6 L198.6,109.9 L197.1,110.8 L195.7,111.2Z" fill="#691d3f"/>
<path d="M200.1,110.7 L201.5,109.8 L200.0,109.7 L198.6,109.9Z" fill="#562a3d"/>
<path d="M203.0,109.1 L204.5,110.2 L202.9,109.6 L201.5,109.8Z" fill="#b65a27"/>
<path d="M206.0,109.8 L207.4,111.0 L205.9,111.4 L204.5,110.2Z" fill="#993433"/>
<path d="M208.9,110.1 L210.3,111.3 L208.8,110.3 L207.4,111.0Z" fill="#9b3a2a"/>
<path d="M128.7,110.3 L130.1,109.8 L128.6,109.8 L127.2,110.8Z" fill="#812e24"/>
<path d="M131.6,108.0 L133.0,110.2 L131.5,110.2 L130.1,109.8Z" fill="#bb6128"/>
<path d="M134.5,110.7 L135.9,110.8 L134.4,112.1 L133.0,110.2Z" fill="#771f50"/>
<path d="M137.4,110.3 L138.8,112.9 L137.3,112.4 L135.9,110.8Z" fill="#912a4e"/>
<path d="M140.3,109.8 L141.7,111.1 L140.2,112.8 L138.8,112.9Z" fill="#73252f"/>
<path d="M143.2,109.2 L144.6,110.7 L143.1,112.0 L141.7,111.1Z" fill="#9a3f27"/>
<path d="M146.1,105.8 L147.5,106.6 L146.0,109.8 L144.6,110.7Z" fill="#504116"/>
<path d="M149.0,100.0 L150.4,103.7 L148.9,107.2 L147.5,106.6Z" fill="#515618"/>
<path d="M151.9,102.4 L153.3,109.0 L151.8,108.4 L150.4,103.7Z" fill="#7b8325"/>
<path d="M154.8,109.5 L156.2,111.8 L154.7,111.1 L153.3,109.0Z" fill="#815537"/>
<path d="M157.7,111.0 L159.2,111.6 L157.7,114.3 L156.2,111.8Z" fill="#6a1a50"/>
<path d="M160.6,110.8 L162.1,111.2 L160.6,113.2 L159.2,111.6Z" fill="#872c32"/>
<path d="M163.6,111.8 L165.0,111.6 L163.5,113.0 L162.1,111.2Z" fill="#822741"/>
<path d="M166.5,111.1 L167.9,111.1 L166.4,113.0 L165.0,111.6Z" fill="#8c3029"/>
<path d="M169.4,110.6 L170.8,111.1 L169.3,111.8 L167.9,111.1Z" fill="#b05725"/>
<path d="M172.3,110.2 L173.7,111.3 L172.2,112.0 L170.8,111.1Z" fill="#b75c27"/>
<path d="M175.2,110.9 L176.6,113.0 L175.1,112.9 L173.7,111.3Z" fill="#b1452e"/>
<path d="M178.1,111.1 L179.5,113.5 L178.0,113.6 L176.6,113.0Z" fill="#913037"/>
<path d="M181.1,111.7 L182.5,114.4 L181.0,114.3 L179.5,113.5Z" fill="#7a1e59"/>
<path d="M184.0,112.2 L185.4,112.7 L183.9,114.3 L182.5,114.4Z" fill="#591545"/>
<path d="M186.9,113.1 L188.3,113.2 L186.8,113.1 L185.4,112.7Z" fill="#6c1a52"/>
<path d="M189.8,111.3 L191.2,111.9 L189.7,113.0 L188.3,113.2Z" fill="#792731"/>
<path d="M192.7,112.1 L194.2,112.6 L192.7,113.3 L191.2,111.9Z" fill="#6f1b56"/>
<path d="M195.7,111.2 L197.1,110.8 L195.6,113.1 L194.2,112.6Z" fill="#631a41"/>
<path d="M198.6,109.9 L200.0,109.7 L198.5,110.5 L197.1,110.8Z" fill="#584329"/>
<path d="M201.5,109.8 L202.9,109.6 L201.4,111.1 L200.0,109.7Z" fill="#733932"/>
<path d="M204.5,110.2 L205.9,111.4 L204.4,112.5 L202.9,109.6Z" fill="#ab3c31"/>
<path d="M207.4,111.0 L208.8,110.3 L207.3,112.1 L205.9,111.4Z" fill="#7d2930"/>
<path d="M130.1,109.8 L131.5,110.2 L130.0,111.4 L128.6,109.8Z" fill="#a64828"/>
<path d="M133.0,110.2 L134.4,112.1 L132.9,113.3 L131.5,110.2Z" fill="#962e46"/>
<path d="M135.9,110.8 L137.3,112.4 L135.8,112.8 L134.4,112.1Z" fill="#8a2d37"/>
<path d="M138.8,112.9 L140.2,112.8 L138.7,113.7 L137.3,112.4Z" fill="#5b144f"/>
<path d="M141.7,111.1 L143.1,112.0 L141.6,113.8 L140.2,112.8Z" fill="#76233d"/>
<path d="M144.6,110.7 L146.0,109.8 L144.5,112.8 L143.1,112.0Z" fill="#70252a"/>
<path d="M147.5,106.6 L148.9,107.2 L147.4,110.9 L146.0,109.8Z" fill="#4d4b18"/>
<path d="M150.4,103.7 L151.8,108.4 L150.3,112.6 L148.9,107.2Z" fill="#707723"/>
<path d="M153.3,109.0 L154.7,111.1 L153.2,112.5 L151.8,108.4Z" fill="#746630"/>
<path d="M156.2,111.8 L157.7,114.3 L156.2,114.1 L154.7,111.1Z" fill="#912660"/>
<path d="M159.2,111.6 L160.6,113.2 L159.1,115.0 L157.7,114.3Z" fill="#73213e"/>
<path d="M162.1,111.2 L163.5,113.0 L162.0,115.7 L160.6,113.2Z" fill="#7c2347"/>
<path d="M165.0,111.6 L166.4,113.0 L164.9,112.9 L163.5,113.0Z" fill="#a64c26"/>
<path d="M167.9,111.1 L169.3,111.8 L167.8,113.1 L166.4,113.0Z" fill="#9e4d22"/>
<path d="M170.8,111.1 L172.2,112.0 L170.7,112.8 L169.3,111.8Z" fill="#b75c27"/>
<path d="M173.7,111.3 L175.1,112.9 L173.6,114.7 L172.2,112.0Z" fill="#a33a2e"/>
<path d="M176.6,113.0 L178.0,113.6 L176.5,113.1 L175.1,112.9Z" fill="#97342d"/>
<path d="M179.5,113.5 L181.0,114.3 L179.5,114.4 L178.0,113.6Z" fill="#731c55"/>
<path d="M182.5,114.4 L183.9,114.3 L182.4,115.4 L181.0,114.3Z" fill="#4c104b"/>
<path d="M185.4,112.7 L186.8,113.1 L185.3,114.6 L183.9,114.3Z" fill="#6c1d43"/>
<path d="M188.3,113.2 L189.7,113.0 L188.2,114.5 L186.8,113.1Z" fill="#67194f"/>
<path d="M191.2,111.9 L192.7,113.3 L191.1,112.1 L189.7,113.0Z" fill="#9a3a29"/>
<path d="M194.2,112.6 L195.6,113.1 L194.1,113.3 L192.7,113.3Z" fill="#68194f"/>
<path d="M197.1,110.8 L198.5,110.5 L197.0,112.9 L195.6,113.1Z" fill="#62252e"/>
<path d="M200.0,109.7 L201.4,111.1 L199.9,112.0 L198.5,110.5Z" fill="#65502f"/>
<path d="M202.9,109.6 L204.4,112.5 L202.9,113.6 L201.4,111.1Z" fill="#b6492f"/>
<path d="M205.9,111.4 L207.3,112.1 L205.8,113.7 L204.4,112.5Z" fill="#852b36"/>
<path d="M131.5,110.2 L132.9,113.3 L131.4,112.8 L130.0,111.4Z" fill="#c1562d"/>
<path d="M134.4,112.1 L135.8,112.8 L134.3,111.9 L132.9,113.3Z" fill="#913c24"/>
<path d="M137.3,112.4 L138.7,113.7 L137.2,112.3 L135.8,112.8Z" fill="#9d3b2a"/>
<path d="M140.2,112.8 L141.6,113.8 L140.1,113.0 L138.7,113.7Z" fill="#882d31"/>
<path d="M143.1,112.0 L144.5,112.8 L143.0,113.6 L141.6,113.8Z" fill="#852e26"/>
<path d="M146.0,109.8 L147.4,110.9 L145.9,113.5 L144.5,112.8Z" fill="#8d3f21"/>
<path d="M148.9,107.2 L150.3,112.6 L148.8,113.5 L147.4,110.9Z" fill="#99602a"/>
<path d="M151.8,108.4 L153.2,112.5 L151.7,113.8 L150.3,112.6Z" fill="#7b4529"/>
<path d="M154.7,111.1 L156.2,114.1 L154.7,114.2 L153.2,112.5Z" fill="#ad402f"/>
<path d="M157.7,114.3 L159.1,115.0 L157.6,115.7 L156.2,114.1Z" fill="#621654"/>
<path d="M160.6,113.2 L162.0,115.7 L160.5,115.9 L159.1,115.0Z" fill="#771d57"/>
<path d="M163.5,113.0 L164.9,112.9 L163.4,114.2 L162.0,115.7Z" fill="#732b1f"/>
<path d="M166.4,113.0 L167.8,113.1 L166.3,114.0 L164.9,112.9Z" fill="#9d3f28"/>
<path d="M169.3,111.8 L170.7,112.8 L169.2,112.7 L167.8,113.1Z" fill="#b86528"/>
<path d="M172.2,112.0 L173.6,114.7 L172.1,114.8 L170.7,112.8Z" fill="#be512e"/>
<path d="M175.1,112.9 L176.5,113.1 L175.0,113.3 L173.6,114.7Z" fill="#934521"/>
<path d="M178.0,113.6 L179.5,114.4 L178.0,115.0 L176.5,113.1Z" fill="#8f2c43"/>
<path d="M181.0,114.3 L182.4,115.4 L180.9,115.3 L179.5,114.4Z" fill="#751d57"/>
<path d="M183.9,114.3 L185.3,114.6 L183.8,114.9 L182.4,115.4Z" fill="#6a1c47"/>
<path d="M186.8,113.1 L188.2,114.5 L186.7,116.0 L185.3,114.6Z" fill="#731d50"/>
<path d="M189.7,113.0 L191.1,112.1 L189.6,113.5 L188.2,114.5Z" fill="#6e2428"/>
<path d="M192.7,113.3 L194.1,113.3 L192.6,113.0 L191.1,112.1Z" fill="#732253"/>
<path d="M195.6,113.1 L197.0,112.9 L195.5,112.5 L194.1,113.3Z" fill="#822a31"/>
<path d="M198.5,110.5 L199.9,112.0 L198.4,112.7 L197.0,112.9Z" fill="#873925"/>
<path d="M201.4,111.1 L202.9,113.6 L201.3,114.8 L199.9,112.0Z" fill="#8c2755"/>
<path d="M204.4,112.5 L205.8,113.7 L204.3,115.0 L202.9,113.6Z" fill="#7c2349"/>
<path d="M132.9,113.3 L134.3,111.9 L132.8,114.0 L131.4,112.8Z" fill="#6f203c"/>
<path d="M135.8,112.8 L137.2,112.3 L135.7,113.5 L134.3,111.9Z" fill="#993a29"/>
<path d="M138.7,113.7 L140.1,113.0 L138.6,112.3 L137.2,112.3Z" fill="#a44727"/>
<path d="M141.6,113.8 L143.0,113.6 L141.5,113.9 L140.1,113.0Z" fill="#8d2f33"/>
<path d="M144.5,112.8 L145.9,113.5 L144.4,114.8 L143.0,113.6Z" fill="#8d302e"/>
<path d="M147.4,110.9 L148.8,113.5 L147.3,115.2 L145.9,113.5Z" fill="#a04029"/>
<path d="M150.3,112.6 L151.7,113.8 L150.2,115.1 L148.8,113.5Z" fill="#731c54"/>
<path d="M153.2,112.5 L154.7,114.2 L153.2,115.7 L151.7,113.8Z" fill="#882a3f"/>
<path d="M156.2,114.1 L157.6,115.7 L156.1,115.0 L154.7,114.2Z" fill="#98313a"/>
<path d="M159.1,115.0 L160.5,115.9 L159.0,116.3 L157.6,115.7Z" fill="#671950"/>
<path d="M162.0,115.7 L163.4,114.2 L161.9,114.8 L160.5,115.9Z" fill="#631c39"/>
<path d="M164.9,112.9 L166.3,114.0 L164.8,113.5 L163.4,114.2Z" fill="#b56127"/>
<path d="M167.8,113.1 L169.2,112.7 L167.7,112.7 L166.3,114.0Z" fill="#a65e24"/>
<path d="M170.7,112.8 L172.1,114.8 L170.6,114.8 L169.2,112.7Z" fill="#d3682d"/>
<path d="M173.6,114.7 L175.0,113.3 L173.5,114.9 L172.1,114.8Z" fill="#7c2b26"/>
<path d="M176.5,113.1 L178.0,115.0 L176.4,114.5 L175.0,113.3Z" fill="#ca642b"/>
<path d="M179.5,114.4 L180.9,115.3 L179.4,114.9 L178.0,115.0Z" fill="#98382a"/>
<path d="M182.4,115.4 L183.8,114.9 L182.3,114.6 L180.9,115.3Z" fill="#7f2934"/>
<path d="M185.3,114.6 L186.7,116.0 L185.2,116.0 L183.8,114.9Z" fill="#84254d"/>
<path d="M188.2,114.5 L189.6,113.5 L188.1,116.0 L186.7,116.0Z" fill="#571541"/>
<path d="M191.1,112.1 L192.6,113.0 L191.1,113.8 L189.6,113.5Z" fill="#7f3a26"/>
<path d="M194.1,113.3 L195.5,112.5 L194.0,114.4 L192.6,113.0Z" fill="#5d2c3d"/>
<path d="M197.0,112.9 L198.4,112.7 L196.9,114.4 L195.5,112.5Z" fill="#95332c"/>
<path d="M199.9,112.0 L201.3,114.8 L199.8,114.8 L198.4,112.7Z" fill="#b03d32"/>
<path d="M202.9,113.6 L204.3,115.0 L202.8,115.6 L201.3,114.8Z" fill="#7e2349"/>
<path d="M134.3,111.9 L135.7,113.5 L134.2,116.0 L132.8,114.0Z" fill="#943828"/>
<path d="M137.2,112.3 L138.6,112.3 L137.1,113.6 L135.7,113.5Z" fill="#a35623"/>
<path d="M140.1,113.0 L141.5,113.9 L140.0,114.9 L138.6,112.3Z" fill="#b74f2c"/>
<path d="M143.0,113.6 L144.4,114.8 L142.9,115.1 L141.5,113.9Z" fill="#a4412b"/>
<path d="M145.9,113.5 L147.3,115.2 L145.8,116.1 L144.4,114.8Z" fill="#933230"/>
<path d="M148.8,113.5 L150.2,115.1 L148.8,116.4 L147.3,115.2Z" fill="#862b39"/>
<path d="M151.7,113.8 L153.2,115.7 L151.7,115.6 L150.2,115.1Z" fill="#99362b"/>
<path d="M154.7,114.2 L156.1,115.0 L154.6,115.0 L153.2,115.7Z" fill="#974224"/>
<path d="M157.6,115.7 L159.0,116.3 L157.5,115.2 L156.1,115.0Z" fill="#983333"/>
<path d="M160.5,115.9 L161.9,114.8 L160.4,115.9 L159.0,116.3Z" fill="#6a2036"/>
<path d="M163.4,114.2 L164.8,113.5 L163.3,115.7 L161.9,114.8Z" fill="#944223"/>
<path d="M166.3,114.0 L167.7,112.7 L166.2,114.6 L164.8,113.5Z" fill="#a75724"/>
<path d="M169.2,112.7 L170.6,114.8 L169.1,114.2 L167.7,112.7Z" fill="#e68533"/>
<path d="M172.1,114.8 L173.5,114.9 L172.0,115.6 L170.6,114.8Z" fill="#a04328"/>
<path d="M175.0,113.3 L176.4,114.5 L174.9,116.5 L173.5,114.9Z" fill="#a84e26"/>
<path d="M178.0,115.0 L179.4,114.9 L177.9,115.2 L176.4,114.5Z" fill="#a64828"/>
<path d="M180.9,115.3 L182.3,114.6 L180.8,115.9 L179.4,114.9Z" fill="#8e3129"/>
<path d="M183.8,114.9 L185.2,116.0 L183.7,115.7 L182.3,114.6Z" fill="#ac432d"/>
<path d="M186.7,116.0 L188.1,116.0 L186.6,115.9 L185.2,116.0Z" fill="#7c253e"/>
<path d="M189.6,113.5 L191.1,113.8 L189.5,117.1 L188.1,116.0Z" fill="#621a41"/>
<path d="M192.6,113.0 L194.0,114.4 L192.5,115.6 L191.1,113.8Z" fill="#67403b"/>
<path d="M195.5,112.5 L196.9,114.4 L195.4,115.6 L194.0,114.4Z" fill="#9b392a"/>
<path d="M198.4,112.7 L199.8,114.8 L198.3,114.3 L196.9,114.4Z" fill="#c2672a"/>
<path d="M201.3,114.8 L202.8,115.6 L201.2,116.1 L199.8,114.8Z" fill="#8a2a43"/>
<path d="M135.7,113.5 L137.1,113.6 L135.7,114.6 L134.2,116.0Z" fill="#8c461e"/>
<path d="M138.6,112.3 L140.0,114.9 L138.6,115.2 L137.1,113.6Z" fill="#d1712d"/>
<path d="M141.5,113.9 L142.9,115.1 L141.4,115.5 L140.0,114.9Z" fill="#ab5026"/>
<path d="M144.4,114.8 L145.8,116.1 L144.4,115.6 L142.9,115.1Z" fill="#a9472a"/>
<path d="M147.3,115.2 L148.8,116.4 L147.3,117.0 L145.8,116.1Z" fill="#862a3c"/>
<path d="M150.2,115.1 L151.7,115.6 L150.2,116.4 L148.8,116.4Z" fill="#883026"/>
<path d="M153.2,115.7 L154.6,115.0 L153.1,115.6 L151.7,115.6Z" fill="#913b24"/>
<path d="M156.1,115.0 L157.5,115.2 L156.0,116.7 L154.6,115.0Z" fill="#9f4028"/>
<path d="M159.0,116.3 L160.4,115.9 L158.9,115.9 L157.5,115.2Z" fill="#9b392a"/>
<path d="M161.9,114.8 L163.3,115.7 L161.8,116.5 L160.4,115.9Z" fill="#a54d25"/>
<path d="M164.8,113.5 L166.2,114.6 L164.7,115.1 L163.3,115.7Z" fill="#b36827"/>
<path d="M167.7,112.7 L169.1,114.2 L167.6,115.2 L166.2,114.6Z" fill="#bf6f2a"/>
<path d="M170.6,114.8 L172.0,115.6 L170.5,114.6 L169.1,114.2Z" fill="#d3772e"/>
<path d="M173.5,114.9 L174.9,116.5 L173.4,116.7 L172.0,115.6Z" fill="#b75529"/>
<path d="M176.4,114.5 L177.9,115.2 L176.4,118.5 L174.9,116.5Z" fill="#893027"/>
<path d="M179.4,114.9 L180.8,115.9 L179.3,116.7 L177.9,115.2Z" fill="#b15129"/>
<path d="M182.3,114.6 L183.7,115.7 L182.2,115.6 L180.8,115.9Z" fill="#b45e27"/>
<path d="M185.2,116.0 L186.6,115.9 L185.1,117.5 L183.7,115.7Z" fill="#862a3b"/>
<path d="M188.1,116.0 L189.5,117.1 L188.0,116.8 L186.6,115.9Z" fill="#942f3d"/>
<path d="M191.1,113.8 L192.5,115.6 L191.0,116.4 L189.5,117.1Z" fill="#7a2c2b"/>
<path d="M194.0,114.4 L195.4,115.6 L193.9,115.6 L192.5,115.6Z" fill="#803134"/>
<path d="M196.9,114.4 L198.3,114.3 L196.8,116.3 L195.4,115.6Z" fill="#933e24"/>
<path d="M199.8,114.8 L201.2,116.1 L199.7,117.3 L198.3,114.3Z" fill="#a73935"/>
<path d="M137.1,113.6 L138.6,115.2 L137.1,116.0 L135.7,114.6Z" fill="#be6329"/>
<path d="M140.0,114.9 L141.4,115.5 L140.0,116.6 L138.6,115.2Z" fill="#a44628"/>
<path d="M142.9,115.1 L144.4,115.6 L142.9,117.0 L141.4,115.5Z" fill="#9e4028"/>
<path d="M145.8,116.1 L147.3,117.0 L145.8,118.9 L144.4,115.6Z" fill="#7c1e5b"/>
<path d="M148.8,116.4 L150.2,116.4 L148.7,117.7 L147.3,117.0Z" fill="#7c2736"/>
<path d="M151.7,115.6 L153.1,115.6 L151.6,116.9 L150.2,116.4Z" fill="#984424"/>
<path d="M154.6,115.0 L156.0,116.7 L154.5,116.7 L153.1,115.6Z" fill="#c4642a"/>
<path d="M157.5,115.2 L158.9,115.9 L157.4,117.2 L156.0,116.7Z" fill="#a55123"/>
<path d="M160.4,115.9 L161.8,116.5 L160.3,117.0 L158.9,115.9Z" fill="#b15328"/>
<path d="M163.3,115.7 L164.7,115.1 L163.2,116.4 L161.8,116.5Z" fill="#9f5322"/>
<path d="M166.2,114.6 L167.6,115.2 L166.1,115.5 L164.7,115.1Z" fill="#c3712b"/>
<path d="M169.1,114.2 L170.5,114.6 L169.0,116.4 L167.6,115.2Z" fill="#bc6d29"/>
<path d="M172.0,115.6 L173.4,116.7 L171.9,115.9 L170.5,114.6Z" fill="#db7930"/>
<path d="M174.9,116.5 L176.4,118.5 L174.9,117.9 L173.4,116.7Z" fill="#b0442f"/>
<path d="M177.9,115.2 L179.3,116.7 L177.8,116.5 L176.4,118.5Z" fill="#9b5121"/>
<path d="M180.8,115.9 L182.2,115.6 L180.7,116.6 L179.3,116.7Z" fill="#964423"/>
<path d="M183.7,115.7 L185.1,117.5 L183.6,116.1 L182.2,115.6Z" fill="#cf692c"/>
<path d="M186.6,115.9 L188.0,116.8 L186.5,118.0 L185.1,117.5Z" fill="#953b26"/>
<path d="M189.5,117.1 L191.0,116.4 L189.5,118.6 L188.0,116.8Z" fill="#64184e"/>
<path d="M192.5,115.6 L193.9,115.6 L192.4,117.1 L191.0,116.4Z" fill="#7d2835"/>
<path d="M195.4,115.6 L196.8,116.3 L195.3,116.8 L193.9,115.6Z" fill="#a6422b"/>
<path d="M198.3,114.3 L199.7,117.3 L198.2,117.5 L196.8,116.3Z" fill="#c7632a"/>
<path d="M138.6,115.2 L140.0,116.6 L138.5,118.0 L137.1,116.0Z" fill="#a8462a"/>
<path d="M141.4,115.5 L142.9,117.0 L141.4,118.3 L140.0,116.6Z" fill="#a34229"/>
<path d="M144.4,115.6 L145.8,118.9 L144.3,118.9 L142.9,117.0Z" fill="#b34430"/>
<path d="M147.3,117.0 L148.7,117.7 L147.2,118.8 L145.8,118.9Z" fill="#742435"/>
<path d="M150.2,116.4 L151.6,116.9 L150.1,118.5 L148.7,117.7Z" fill="#8f3726"/>
<path d="M153.1,115.6 L154.5,116.7 L153.0,118.2 L151.6,116.9Z" fill="#ae5525"/>
<path d="M156.0,116.7 L157.4,117.2 L155.9,118.5 L154.5,116.7Z" fill="#a24229"/>
<path d="M158.9,115.9 L160.3,117.0 L158.8,118.6 L157.4,117.2Z" fill="#ab5126"/>
<path d="M161.8,116.5 L163.2,116.4 L161.7,118.0 L160.3,117.0Z" fill="#a44f23"/>
<path d="M164.7,115.1 L166.1,115.5 L164.6,117.9 L163.2,116.4Z" fill="#b26327"/>
<path d="M167.6,115.2 L169.0,116.4 L167.5,117.4 L166.1,115.5Z" fill="#d47a2f"/>
<path d="M170.5,114.6 L171.9,115.9 L170.4,117.9 L169.0,116.4Z" fill="#c2702b"/>
<path d="M173.4,116.7 L174.9,117.9 L173.3,118.0 L171.9,115.9Z" fill="#cc642b"/>
<path d="M176.4,118.5 L177.8,116.5 L176.3,119.7 L174.9,117.9Z" fill="#5c1647"/>
<path d="M179.3,116.7 L180.7,116.6 L179.2,116.1 L177.8,116.5Z" fill="#a64c26"/>
<path d="M182.2,115.6 L183.6,116.1 L182.1,115.8 L180.7,116.6Z" fill="#ac5925"/>
<path d="M185.1,117.5 L186.5,118.0 L185.0,116.8 L183.6,116.1Z" fill="#bd562c"/>
<path d="M188.0,116.8 L189.5,118.6 L187.9,119.0 L186.5,118.0Z" fill="#a23c2c"/>
<path d="M191.0,116.4 L192.4,117.1 L190.9,118.1 L189.5,118.6Z" fill="#8e3d23"/>
<path d="M193.9,115.6 L195.3,116.8 L193.8,117.5 L192.4,117.1Z" fill="#b15926"/>
<path d="M196.8,116.3 L198.2,117.5 L196.7,118.1 L195.3,116.8Z" fill="#b35129"/>
<path d="M140.0,116.6 L141.4,118.3 L139.9,118.6 L138.5,118.0Z" fill="#a24428"/>
<path d="M142.9,117.0 L144.3,118.9 L142.8,120.1 L141.4,118.3Z" fill="#8b2b3e"/>
<path d="M145.8,118.9 L147.2,118.8 L145.7,120.8 L144.3,118.9Z" fill="#5a144d"/>
<path d="M148.7,117.7 L150.1,118.5 L148.6,119.4 L147.2,118.8Z" fill="#8b302a"/>
<path d="M151.6,116.9 L153.0,118.2 L151.5,119.3 L150.1,118.5Z" fill="#a14626"/>
<path d="M154.5,116.7 L155.9,118.5 L154.4,119.3 L153.0,118.2Z" fill="#b05327"/>
<path d="M157.4,117.2 L158.8,118.6 L157.3,120.1 L155.9,118.5Z" fill="#9c3c29"/>
<path d="M160.3,117.0 L161.7,118.0 L160.2,121.3 L158.8,118.6Z" fill="#892e31"/>
<path d="M163.2,116.4 L164.6,117.9 L163.1,118.4 L161.7,118.0Z" fill="#bd6929"/>
<path d="M166.1,115.5 L167.5,117.4 L166.0,117.9 L164.6,117.9Z" fill="#be6e2a"/>
<path d="M169.0,116.4 L170.4,117.9 L168.9,117.7 L167.5,117.4Z" fill="#cc762d"/>
<path d="M171.9,115.9 L173.3,118.0 L171.8,119.2 L170.4,117.9Z" fill="#c46c2b"/>
<path d="M174.9,117.9 L176.3,119.7 L174.8,119.7 L173.3,118.0Z" fill="#af432e"/>
<path d="M177.8,116.5 L179.2,116.1 L177.7,117.3 L176.3,119.7Z" fill="#6f371a"/>
<path d="M180.7,116.6 L182.1,115.8 L180.6,113.1 L179.2,116.1Z" fill="#5b561b"/>
<path d="M183.6,116.1 L185.0,116.8 L183.5,116.7 L182.1,115.8Z" fill="#995826"/>
<path d="M186.5,118.0 L187.9,119.0 L186.4,119.3 L185.0,116.8Z" fill="#b24231"/>
<path d="M189.5,118.6 L190.9,118.1 L189.4,118.9 L187.9,119.0Z" fill="#8a3425"/>
<path d="M192.4,117.1 L193.8,117.5 L192.3,119.2 L190.9,118.1Z" fill="#a14925"/>
<path d="M195.3,116.8 L196.7,118.1 L195.2,119.5 L193.8,117.5Z" fill="#b2502a"/>
<path d="M141.4,118.3 L142.8,120.1 L141.3,120.4 L139.9,118.6Z" fill="#952f3f"/>
<path d="M144.3,118.9 L145.7,120.8 L144.2,119.8 L142.8,120.1Z" fill="#903033"/>
<path d="M147.2,118.8 L148.6,119.4 L147.1,120.1 L145.7,120.8Z" fill="#7a292a"/>
<path d="M150.1,118.5 L151.5,119.3 L150.0,119.8 L148.6,119.4Z" fill="#9a3e27"/>
<path d="M153.0,118.2 L154.4,119.3 L152.9,121.4 L151.5,119.3Z" fill="#8a2d35"/>
<path d="M155.9,118.5 L157.3,120.1 L155.8,120.4 L154.4,119.3Z" fill="#a43f2b"/>
<path d="M158.8,118.6 L160.2,121.3 L158.7,121.2 L157.3,120.1Z" fill="#9f3731"/>
<path d="M161.7,118.0 L163.1,118.4 L161.6,120.6 L160.2,121.3Z" fill="#7f381e"/>
<path d="M164.6,117.9 L166.0,117.9 L164.5,120.3 L163.1,118.4Z" fill="#a95125"/>
<path d="M167.5,117.4 L168.9,117.7 L167.4,119.9 L166.0,117.9Z" fill="#b76227"/>
<path d="M170.4,117.9 L171.8,119.2 L170.3,119.4 L168.9,117.7Z" fill="#d06f2d"/>
<path d="M173.3,118.0 L174.8,119.7 L173.2,120.0 L171.8,119.2Z" fill="#ba5d27"/>
<path d="M176.3,119.7 L177.7,117.3 L176.2,118.2 L174.8,119.7Z" fill="#70291f"/>
<path d="M179.2,116.1 L180.6,113.1 L179.1,113.0 L177.7,117.3Z" fill="#363a11"/>
<path d="M182.1,115.8 L183.5,116.7 L182.0,111.5 L180.6,113.1Z" fill="#747c24"/>
<path d="M185.0,116.8 L186.4,119.3 L184.9,119.0 L183.5,116.7Z" fill="#ab5d2d"/>
<path d="M187.9,119.0 L189.4,118.9 L187.8,119.9 L186.4,119.3Z" fill="#973d27"/>
<path d="M190.9,118.1 L192.3,119.2 L190.8,119.2 L189.4,118.9Z" fill="#bc6128"/>
<path d="M193.8,117.5 L195.2,119.5 L193.7,120.1 L192.3,119.2Z" fill="#ba5c27"/>
<path d="M142.8,120.1 L144.2,119.8 L142.7,120.4 L141.3,120.4Z" fill="#7c2832"/>
<path d="M145.7,120.8 L147.1,120.1 L145.6,120.8 L144.2,119.8Z" fill="#772147"/>
<path d="M148.6,119.4 L150.0,119.8 L148.5,121.3 L147.1,120.1Z" fill="#8c302a"/>
<path d="M151.5,119.3 L152.9,121.4 L151.4,121.8 L150.0,119.8Z" fill="#a23735"/>
<path d="M154.4,119.3 L155.8,120.4 L154.3,120.6 L152.9,121.4Z" fill="#974323"/>
<path d="M157.3,120.1 L158.7,121.2 L157.2,120.6 L155.8,120.4Z" fill="#a1402a"/>
<path d="M160.2,121.3 L161.6,120.6 L160.1,119.9 L158.7,121.2Z" fill="#8a3425"/>
<path d="M163.1,118.4 L164.5,120.3 L163.0,120.9 L161.6,120.6Z" fill="#b35c26"/>
<path d="M166.0,117.9 L167.4,119.9 L165.9,122.0 L164.5,120.3Z" fill="#af5625"/>
<path d="M168.9,117.7 L170.3,119.4 L168.8,120.9 L167.4,119.9Z" fill="#ba6728"/>
<path d="M171.8,119.2 L173.2,120.0 L171.7,120.1 L170.3,119.4Z" fill="#bf6529"/>
<path d="M174.8,119.7 L176.2,118.2 L174.7,119.0 L173.2,120.0Z" fill="#944d20"/>
<path d="M177.7,117.3 L179.1,113.0 L177.6,116.4 L176.2,118.2Z" fill="#333610"/>
<path d="M180.6,113.1 L182.0,111.5 L180.5,111.0 L179.1,113.0Z" fill="#535918"/>
<path d="M183.5,116.7 L184.9,119.0 L183.4,115.7 L182.0,111.5Z" fill="#777e25"/>
<path d="M186.4,119.3 L187.8,119.9 L186.3,119.8 L184.9,119.0Z" fill="#b14f29"/>
<path d="M189.4,118.9 L190.8,119.2 L189.3,120.6 L187.8,119.9Z" fill="#aa5524"/>
<path d="M192.3,119.2 L193.7,120.1 L192.2,119.7 L190.8,119.2Z" fill="#c3662a"/>
<path d="M144.2,119.8 L145.6,120.8 L144.1,121.9 L142.7,120.4Z" fill="#9a382a"/>
<path d="M147.1,120.1 L148.5,121.3 L147.0,121.7 L145.6,120.8Z" fill="#9e3e29"/>
<path d="M150.0,119.8 L151.4,121.8 L149.9,121.7 L148.5,121.3Z" fill="#a94928"/>
<path d="M152.9,121.4 L154.3,120.6 L152.8,122.2 L151.4,121.8Z" fill="#732336"/>
<path d="M155.8,120.4 L157.2,120.6 L155.7,122.8 L154.3,120.6Z" fill="#8d2f30"/>
<path d="M158.7,121.2 L160.1,119.9 L158.6,122.1 L157.2,120.6Z" fill="#862e27"/>
<path d="M161.6,120.6 L163.0,120.9 L161.5,122.6 L160.1,119.9Z" fill="#a0392d"/>
<path d="M164.5,120.3 L165.9,122.0 L164.4,120.4 L163.0,120.9Z" fill="#c6692b"/>
<path d="M167.4,119.9 L168.8,120.9 L167.3,122.3 L165.9,122.0Z" fill="#9c4923"/>
<path d="M170.3,119.4 L171.7,120.1 L170.2,121.1 L168.8,120.9Z" fill="#b06126"/>
<path d="M173.2,120.0 L174.7,119.0 L173.2,122.9 L171.7,120.1Z" fill="#923b25"/>
<path d="M176.2,118.2 L177.6,116.4 L176.1,120.7 L174.7,119.0Z" fill="#71471b"/>
<path d="M179.1,113.0 L180.5,111.0 L179.0,115.2 L177.6,116.4Z" fill="#373b10"/>
<path d="M182.0,111.5 L183.4,115.7 L181.9,114.8 L180.5,111.0Z" fill="#7e8725"/>
<path d="M184.9,119.0 L186.3,119.8 L184.8,120.4 L183.4,115.7Z" fill="#7c6c2a"/>
<path d="M187.8,119.9 L189.3,120.6 L187.8,122.1 L186.3,119.8Z" fill="#b04c2a"/>
<path d="M190.8,119.2 L192.2,119.7 L190.7,121.0 L189.3,120.6Z" fill="#b16126"/>
<path d="M145.6,120.8 L147.0,121.7 L145.5,122.8 L144.1,121.9Z" fill="#923628"/>
<path d="M148.5,121.3 L149.9,121.7 L148.4,122.3 L147.0,121.7Z" fill="#9a3e27"/>
<path d="M151.4,121.8 L152.8,122.2 L151.3,121.8 L149.9,121.7Z" fill="#a34628"/>
<path d="M154.3,120.6 L155.7,122.8 L154.2,122.2 L152.8,122.2Z" fill="#b95c27"/>
<path d="M157.2,120.6 L158.6,122.1 L157.1,123.0 L155.7,122.8Z" fill="#9d4724"/>
<path d="M160.1,119.9 L161.5,122.6 L160.0,123.8 L158.6,122.1Z" fill="#b75529"/>
<path d="M163.0,120.9 L164.4,120.4 L162.9,123.0 L161.5,122.6Z" fill="#8b401f"/>
<path d="M165.9,122.0 L167.3,122.3 L165.8,122.7 L164.4,120.4Z" fill="#b3482d"/>
<path d="M168.8,120.9 L170.2,121.1 L168.7,122.9 L167.3,122.3Z" fill="#9d4b22"/>
<path d="M171.7,120.1 L173.2,122.9 L171.6,123.4 L170.2,121.1Z" fill="#d2692d"/>
<path d="M174.7,119.0 L176.1,120.7 L174.6,124.2 L173.2,122.9Z" fill="#954621"/>
<path d="M177.6,116.4 L179.0,115.2 L177.5,121.1 L176.1,120.7Z" fill="#363911"/>
<path d="M180.5,111.0 L181.9,114.8 L180.4,118.5 L179.0,115.2Z" fill="#676e1f"/>
<path d="M183.4,115.7 L184.8,120.4 L183.3,119.5 L181.9,114.8Z" fill="#757c25"/>
<path d="M186.3,119.8 L187.8,122.1 L186.2,124.5 L184.8,120.4Z" fill="#a8383a"/>
<path d="M189.3,120.6 L190.7,121.0 L189.2,122.6 L187.8,122.1Z" fill="#a45223"/>
<path d="M147.0,121.7 L148.4,122.3 L146.9,122.8 L145.5,122.8Z" fill="#a04b24"/>
<path d="M149.9,121.7 L151.3,121.8 L149.8,122.7 L148.4,122.3Z" fill="#a45023"/>
<path d="M152.8,122.2 L154.2,122.2 L152.7,124.1 L151.3,121.8Z" fill="#98352a"/>
<path d="M155.7,122.8 L157.1,123.0 L155.6,124.0 L154.2,122.2Z" fill="#973331"/>
<path d="M158.6,122.1 L160.0,123.8 L158.5,123.5 L157.1,123.0Z" fill="#b15129"/>
<path d="M161.5,122.6 L162.9,123.0 L161.4,124.1 L160.0,123.8Z" fill="#8b3426"/>
<path d="M164.4,120.4 L165.8,122.7 L164.3,123.9 L162.9,123.0Z" fill="#b96328"/>
<path d="M167.3,122.3 L168.7,122.9 L167.2,123.4 L165.8,122.7Z" fill="#ae5227"/>
<path d="M170.2,121.1 L171.6,123.4 L170.1,122.9 L168.7,122.9Z" fill="#c66e2b"/>
<path d="M173.2,122.9 L174.6,124.2 L173.1,125.2 L171.6,123.4Z" fill="#8d2b40"/>
<path d="M176.1,120.7 L177.5,121.1 L176.0,125.2 L174.6,124.2Z" fill="#6e2526"/>
<path d="M179.0,115.2 L180.4,118.5 L178.9,122.3 L177.5,121.1Z" fill="#4e5219"/>
<path d="M181.9,114.8 L183.3,119.5 L181.8,121.8 L180.4,118.5Z" fill="#6b7222"/>
<path d="M184.8,120.4 L186.2,124.5 L184.7,124.5 L183.3,119.5Z" fill="#ae403a"/>
<path d="M187.8,122.1 L189.2,122.6 L187.7,124.7 L186.2,124.5Z" fill="#7e2c24"/>
<path d="M148.4,122.3 L149.8,122.7 L148.3,124.2 L146.9,122.8Z" fill="#a74d26"/>
<path d="M151.3,121.8 L152.7,124.1 L151.2,124.0 L149.8,122.7Z" fill="#cb692b"/>
<path d="M154.2,122.2 L155.6,124.0 L154.1,124.8 L152.7,124.1Z" fill="#a84e26"/>
<path d="M157.1,123.0 L158.5,123.5 L157.0,126.1 L155.6,124.0Z" fill="#832a35"/>
<path d="M160.0,123.8 L161.4,124.1 L159.9,124.6 L158.5,123.5Z" fill="#9d3b2a"/>
<path d="M162.9,123.0 L164.3,123.9 L162.8,126.3 L161.4,124.1Z" fill="#8c2e32"/>
<path d="M165.8,122.7 L167.2,123.4 L165.7,125.1 L164.3,123.9Z" fill="#a24925"/>
<path d="M168.7,122.9 L170.1,122.9 L168.6,124.8 L167.2,123.4Z" fill="#a14a25"/>
<path d="M171.6,123.4 L173.1,125.2 L171.5,125.5 L170.1,122.9Z" fill="#b44231"/>
<path d="M174.6,124.2 L176.0,125.2 L174.5,124.7 L173.1,125.2Z" fill="#90322b"/>
<path d="M177.5,121.1 L178.9,122.3 L177.4,124.0 L176.0,125.2Z" fill="#89441d"/>
<path d="M180.4,118.5 L181.8,121.8 L180.3,123.7 L178.9,122.3Z" fill="#975f24"/>
<path d="M183.3,119.5 L184.7,124.5 L183.2,125.9 L181.8,121.8Z" fill="#ca5532"/>
<path d="M186.2,124.5 L187.7,124.7 L186.1,126.5 L184.7,124.5Z" fill="#661852"/>
<path d="M149.8,122.7 L151.2,124.0 L149.7,126.0 L148.3,124.2Z" fill="#a34827"/>
<path d="M152.7,124.1 L154.1,124.8 L152.6,124.4 L151.2,124.0Z" fill="#b35528"/>
<path d="M155.6,124.0 L157.0,126.1 L155.5,125.3 L154.1,124.8Z" fill="#b54f2b"/>
<path d="M158.5,123.5 L159.9,124.6 L158.4,126.1 L157.0,126.1Z" fill="#8f3e23"/>
<path d="M161.4,124.1 L162.8,126.3 L161.3,126.8 L159.9,124.6Z" fill="#a23736"/>
<path d="M164.3,123.9 L165.7,125.1 L164.2,125.7 L162.8,126.3Z" fill="#954223"/>
<path d="M167.2,123.4 L168.6,124.8 L167.1,126.2 L165.7,125.1Z" fill="#a64b26"/>
<path d="M170.1,122.9 L171.5,125.5 L170.0,125.6 L168.6,124.8Z" fill="#c4662a"/>
<path d="M173.1,125.2 L174.5,124.7 L173.0,127.1 L171.5,125.5Z" fill="#711f43"/>
<path d="M176.0,125.2 L177.4,124.0 L175.9,125.4 L174.5,124.7Z" fill="#883026"/>
<path d="M178.9,122.3 L180.3,123.7 L178.8,123.2 L177.4,124.0Z" fill="#be6e2a"/>
<path d="M181.8,121.8 L183.2,125.9 L181.7,126.3 L180.3,123.7Z" fill="#cb5a30"/>
<path d="M184.7,124.5 L186.1,126.5 L184.6,127.3 L183.2,125.9Z" fill="#7f234f"/>
<path d="M151.2,124.0 L152.6,124.4 L151.1,126.3 L149.7,126.0Z" fill="#934521"/>
<path d="M154.1,124.8 L155.5,125.3 L154.0,126.0 L152.6,124.4Z" fill="#b15029"/>
<path d="M157.0,126.1 L158.4,126.1 L156.9,126.7 L155.5,125.3Z" fill="#8d2d39"/>
<path d="M159.9,124.6 L161.3,126.8 L159.8,128.1 L158.4,126.1Z" fill="#963236"/>
<path d="M162.8,126.3 L164.2,125.7 L162.7,127.9 L161.3,126.8Z" fill="#671b46"/>
<path d="M165.7,125.1 L167.1,126.2 L165.6,127.0 L164.2,125.7Z" fill="#a3412a"/>
<path d="M168.6,124.8 L170.0,125.6 L168.5,126.9 L167.1,126.2Z" fill="#9d4425"/>
<path d="M171.5,125.5 L173.0,127.1 L171.4,127.8 L170.0,125.6Z" fill="#9c333b"/>
<path d="M174.5,124.7 L175.9,125.4 L174.4,128.1 L173.0,127.1Z" fill="#802c25"/>
<path d="M177.4,124.0 L178.8,123.2 L177.3,126.3 L175.9,125.4Z" fill="#964d20"/>
<path d="M180.3,123.7 L181.7,126.3 L180.2,125.4 L178.8,123.2Z" fill="#ee8334"/>
<path d="M183.2,125.9 L184.6,127.3 L183.1,128.9 L181.7,126.3Z" fill="#701b58"/>
<path d="M152.6,124.4 L154.0,126.0 L152.5,126.4 L151.1,126.3Z" fill="#b56227"/>
<path d="M155.5,125.3 L156.9,126.7 L155.4,127.9 L154.0,126.0Z" fill="#aa472a"/>
<path d="M158.4,126.1 L159.8,128.1 L158.3,128.6 L156.9,126.7Z" fill="#9b333b"/>
<path d="M161.3,126.8 L162.7,127.9 L161.2,128.6 L159.8,128.1Z" fill="#7b2440"/>
<path d="M164.2,125.7 L165.6,127.0 L164.1,128.4 L162.7,127.9Z" fill="#8f3626"/>
<path d="M167.1,126.2 L168.5,126.9 L167.0,128.4 L165.6,127.0Z" fill="#92332a"/>
<path d="M170.0,125.6 L171.4,127.8 L169.9,130.2 L168.5,126.9Z" fill="#88274c"/>
<path d="M173.0,127.1 L174.4,128.1 L172.9,128.3 L171.4,127.8Z" fill="#86293d"/>
<path d="M175.9,125.4 L177.3,126.3 L175.8,127.9 L174.4,128.1Z" fill="#914321"/>
<path d="M178.8,123.2 L180.2,125.4 L178.7,126.6 L177.3,126.3Z" fill="#bc6d29"/>
<path d="M181.7,126.3 L183.1,128.9 L181.6,127.4 L180.2,125.4Z" fill="#ca5532"/>
<path d="M154.0,126.0 L155.4,127.9 L153.9,128.4 L152.5,126.4Z" fill="#bf582b"/>
<path d="M156.9,126.7 L158.3,128.6 L156.8,128.8 L155.4,127.9Z" fill="#a33f2b"/>
<path d="M159.8,128.1 L161.2,128.6 L159.7,130.8 L158.3,128.6Z" fill="#601650"/>
<path d="M162.7,127.9 L164.1,128.4 L162.6,130.1 L161.2,128.6Z" fill="#6e1b50"/>
<path d="M165.6,127.0 L167.0,128.4 L165.5,129.5 L164.1,128.4Z" fill="#91322d"/>
<path d="M168.5,126.9 L169.9,130.2 L168.4,128.7 L167.0,128.4Z" fill="#b84c2e"/>
<path d="M171.4,127.8 L172.9,128.3 L171.3,129.3 L169.9,130.2Z" fill="#72242e"/>
<path d="M174.4,128.1 L175.8,127.9 L174.3,129.5 L172.9,128.3Z" fill="#772340"/>
<path d="M177.3,126.3 L178.7,126.6 L177.2,130.1 L175.8,127.9Z" fill="#893226"/>
<path d="M180.2,125.4 L181.6,127.4 L180.1,129.5 L178.7,126.6Z" fill="#bf5b2a"/>
<path d="M155.4,127.9 L156.8,128.8 L155.3,128.4 L153.9,128.4Z" fill="#ab4e27"/>
<path d="M158.3,128.6 L159.7,130.8 L158.2,131.5 L156.8,128.8Z" fill="#7c1e5f"/>
<path d="M161.2,128.6 L162.6,130.1 L161.1,131.5 L159.7,130.8Z" fill="#66194d"/>
<path d="M164.1,128.4 L165.5,129.5 L164.0,130.6 L162.6,130.1Z" fill="#7b2639"/>
<path d="M167.0,128.4 L168.4,128.7 L166.9,130.9 L165.5,129.5Z" fill="#77233e"/>
<path d="M169.9,130.2 L171.3,129.3 L169.8,131.0 L168.4,128.7Z" fill="#611651"/>
<path d="M172.9,128.3 L174.3,129.5 L172.8,131.3 L171.3,129.3Z" fill="#7e2448"/>
<path d="M175.8,127.9 L177.2,130.1 L175.7,129.6 L174.3,129.5Z" fill="#a9472a"/>
<path d="M178.7,126.6 L180.1,129.5 L178.6,129.7 L177.2,130.1Z" fill="#ad5725"/>
<path d="M156.8,128.8 L158.2,131.5 L156.7,132.3 L155.3,128.4Z" fill="#95295b"/>
<path d="M159.7,130.8 L161.1,131.5 L159.6,132.1 L158.2,131.5Z" fill="#5b144e"/>
<path d="M162.6,130.1 L164.0,130.6 L162.5,130.8 L161.1,131.5Z" fill="#732338"/>
<path d="M165.5,129.5 L166.9,130.9 L165.4,131.5 L164.0,130.6Z" fill="#852840"/>
<path d="M168.4,128.7 L169.8,131.0 L168.3,132.1 L166.9,130.9Z" fill="#892c39"/>
<path d="M171.3,129.3 L172.8,131.3 L171.2,130.9 L169.8,131.0Z" fill="#97352a"/>
<path d="M174.3,129.5 L175.7,129.6 L174.2,130.7 L172.8,131.3Z" fill="#7d2c23"/>
<path d="M177.2,130.1 L178.6,129.7 L177.1,132.3 L175.7,129.6Z" fill="#6b1a52"/>
<path d="M158.2,131.5 L159.6,132.1 L158.1,133.3 L156.7,132.3Z" fill="#58144c"/>
<path d="M161.1,131.5 L162.5,130.8 L161.0,134.1 L159.6,132.1Z" fill="#460e44"/>
<path d="M164.0,130.6 L165.4,131.5 L163.9,133.1 L162.5,130.8Z" fill="#781e56"/>
<path d="M166.9,130.9 L168.3,132.1 L166.8,132.8 L165.4,131.5Z" fill="#761e53"/>
<path d="M169.8,131.0 L171.2,130.9 L169.7,132.5 L168.3,132.1Z" fill="#6b1d41"/>
<path d="M172.8,131.3 L174.2,130.7 L172.6,131.7 L171.2,130.9Z" fill="#7c263c"/>
<path d="M175.7,129.6 L177.1,132.3 L175.6,131.5 L174.2,130.7Z" fill="#ba512c"/>
<path d="M159.6,132.1 L161.0,134.1 L159.5,133.3 L158.1,133.3Z" fill="#761d56"/>
<path d="M162.5,130.8 L163.9,133.1 L162.4,133.5 L161.0,134.1Z" fill="#7e2931"/>
<path d="M165.4,131.5 L166.8,132.8 L165.3,132.2 L163.9,133.1Z" fill="#8f3427"/>
<path d="M168.3,132.1 L169.7,132.5 L168.2,133.4 L166.8,132.8Z" fill="#701e49"/>
<path d="M171.2,130.9 L172.6,131.7 L171.1,131.9 L169.7,132.5Z" fill="#9a4524"/>
<path d="M174.2,130.7 L175.6,131.5 L174.1,133.7 L172.6,131.7Z" fill="#8b2e31"/>
<path d="M161.0,134.1 L162.4,133.5 L160.9,135.7 L159.5,133.3Z" fill="#480e4c"/>
<path d="M163.9,133.1 L165.3,132.2 L163.8,133.3 L162.4,133.5Z" fill="#732431"/>
<path d="M166.8,132.8 L168.2,133.4 L166.7,133.9 L165.3,132.2Z" fill="#8d2b42"/>
<path d="M169.7,132.5 L171.1,131.9 L169.6,133.6 L168.2,133.4Z" fill="#7c2a27"/>
<path d="M172.6,131.7 L174.1,133.7 L172.5,133.7 L171.1,131.9Z" fill="#b1452e"/>
<path d="M162.4,133.5 L163.8,133.3 L162.3,134.6 L160.9,135.7Z" fill="#6b232a"/>
<path d="M165.3,132.2 L166.7,133.9 L165.2,133.5 L163.8,133.3Z" fill="#b95d27"/>
<path d="M168.2,133.4 L169.6,133.6 L168.1,135.4 L166.7,133.9Z" fill="#7b253e"/>
<path d="M171.1,131.9 L172.5,133.7 L171.0,134.8 L169.6,133.6Z" fill="#aa4b28"/>
<path d="M163.8,133.3 L165.2,133.5 L163.7,135.7 L162.3,134.6Z" fill="#8f3825"/>
<path d="M166.7,133.9 L168.1,135.4 L166.6,134.8 L165.2,133.5Z" fill="#ba502d"/>
<path d="M169.6,133.6 L171.0,134.8 L169.5,135.3 L168.1,135.4Z" fill="#983f26"/>
<path d="M165.2,133.5 L166.6,134.8 L165.1,136.9 L163.7,135.7Z" fill="#9a4325"/>
<path d="M168.1,135.4 L169.5,135.3 L168.0,135.8 L166.6,134.8Z" fill="#9e3d2a"/>
<path d="M166.6,134.8 L168.0,135.8 L166.5,137.4 L165.1,136.9Z" fill="#9a4623"/>
</g>
<g fill="#666" font-family="Liberation Sans, sans-serif" font-size="3">
<text x="83" y="85">0.5 µm</text>
<text x="86" y="91">0.2</text>
<text x="85" y="95">-0.2</text>
<text x="84" y="98">250 µm</text>
<text x="108" y="110">15</text>
<text x="120" y="119">10</text>
<text x="134" y="129">5</text>
<text x="156" y="140">0</text>
<text x="172" y="141">0</text>
<text x="190" y="129">5</text>
<text x="209" y="117">10</text>
<text x="228" y="104">15</text>
<text x="236" y="96">250 µm</text>
<text x="238" y="93">0</text>
</g>
<g stroke="#1c1c1c" stroke-width="1.8" fill="none">
<line x1="65.5" y1="5.2" x2="681" y2="5.2"/>
<line x1="680.2" y1="4.3" x2="680.2" y2="481"/>
<line x1="70" y1="4.3" x2="70" y2="481.9"/>
<line x1="60" y1="481" x2="681" y2="481"/>
<line x1="79.40" y1="481" x2="79.40" y2="490.5"/>
<line x1="125.65" y1="481" x2="125.65" y2="486"/>
<line x1="171.90" y1="481" x2="171.90" y2="490.5"/>
<line x1="218.15" y1="481" x2="218.15" y2="486"/>
<line x1="264.40" y1="481" x2="264.40" y2="490.5"/>
<line x1="310.65" y1="481" x2="310.65" y2="486"/>
<line x1="356.90" y1="481" x2="356.90" y2="490.5"/>
<line x1="403.15" y1="481" x2="403.15" y2="486"/>
<line x1="449.40" y1="481" x2="449.40" y2="490.5"/>
<line x1="495.65" y1="481" x2="495.65" y2="486"/>
<line x1="541.90" y1="481" x2="541.90" y2="490.5"/>
<line x1="588.15" y1="481" x2="588.15" y2="486"/>
<line x1="634.40" y1="481" x2="634.40" y2="490.5"/>
<line x1="680.65" y1="481" x2="680.65" y2="486"/>
<line x1="65" y1="428.18" x2="70" y2="428.18"/>
<line x1="60" y1="375.35" x2="70" y2="375.35"/>
<line x1="65" y1="322.52" x2="70" y2="322.52"/>
<line x1="60" y1="269.70" x2="70" y2="269.70"/>
<line x1="65" y1="216.88" x2="70" y2="216.88"/>
<line x1="60" y1="164.05" x2="70" y2="164.05"/>
<line x1="65" y1="111.23" x2="70" y2="111.23"/>
<line x1="60" y1="58.40" x2="70" y2="58.40"/>
</g>
<g font-family="Liberation Sans, sans-serif" font-weight="bold" font-size="20.6" fill="#111" text-anchor="end">
<text x="53.6" y="487.4">0</text>
<text x="53.6" y="381.8">10</text>
<text x="53.6" y="276.1">20</text>
<text x="53.6" y="170.5">30</text>
<text x="53.6" y="64.8">40</text>
</g>
<g font-family="Liberation Sans, sans-serif" font-weight="bold" font-size="20.2" fill="#111" text-anchor="middle">
<text x="79.7" y="512.3">0</text>
<text x="172.2" y="512.3">10</text>
<text x="264.7" y="512.3">20</text>
<text x="357.2" y="512.3">30</text>
<text x="449.7" y="512.3">40</text>
<text x="542.2" y="512.3">50</text>
<text x="634.7" y="512.3">60</text>
</g>
<text x="401.7" y="515.4" font-family="Liberation Sans, sans-serif" font-weight="bold" font-size="26.8" fill="#ff1a1a" text-anchor="middle">35</text>
<text x="328.4" y="551.5" font-family="Liberation Sans, sans-serif" font-weight="bold" font-size="23.5" fill="#111" textLength="94.6" lengthAdjust="spacingAndGlyphs">Time (s)</text>
<text transform="translate(20.4,314) rotate(-90)" font-family="Liberation Sans, sans-serif" font-weight="bold" font-size="25.5" fill="#111" textLength="139.5" lengthAdjust="spacingAndGlyphs">Charge (µC)</text>
<text x="172.2" y="34.6" font-family="Liberation Sans, sans-serif" font-weight="bold" font-size="20.8" fill="#111" textLength="268.5" lengthAdjust="spacingAndGlyphs">Charge storage using a 22</text>
<text x="446" y="34.6" font-family="Liberation Serif, serif" font-weight="bold" font-size="21.5" fill="#111" textLength="26.5" lengthAdjust="spacingAndGlyphs">µF</text>
<text x="479" y="34.6" font-family="Liberation Sans, sans-serif" font-weight="bold" font-size="20.8" fill="#111" textLength="100" lengthAdjust="spacingAndGlyphs">capacitor</text>
<polyline fill="none" stroke="#0a05ff" stroke-width="3.1" stroke-linejoin="round" stroke-linecap="round" points="79.3,469.6 82.8,446.1 87.4,421.2 93.7,396.4 99.9,374.6 106.1,356 113.9,334.2 120.1,315.5 121.7,309.5 126.4,294.5 132.8,277.5 139.2,263.6 145.6,252.9 149.9,247.6 155.2,241.2 160.5,234.8 164.8,230.1 170.1,224.1 174.4,218.8 179.7,211.3 184,206 188.3,202.8 193.6,196.4 198,190.8 201.7,188.6 204.6,187.2 208.2,183.5 211.9,179.9 218.5,179.1 222.1,176.2 227.2,171.1 231.6,167 236.7,166.4 241.1,166.4 244,162.3 246.9,158.7 251.3,157.7 257.2,157.2 261.5,150.7 268.8,140.4 277.6,128 280,123.8 287,115.1 294,106.3 301,99.3 306.3,96.2 313.3,90.5 320.3,84.9 327.3,81.8 332.6,79.2 337.8,76.2 344.8,76.5 351.8,73.9 357.1,70.4 362.3,67.8 367.6,65.1 371.1,63.4 376.4,64.3 381.6,60.8 386.9,57.3 393.9,53.8 400,52.2 410,52.6 425,53.3 436,53.3 438.5,51.6 455,52.0 470,52.8 477,52.8 479,51.2 495,51.4 505,51.9 515,51.4 529,51.4 532.5,50.1 550,50.2 553.5,51.6 558.8,50.1 567.6,51.4 576.3,50.9 579,50.1 590.3,51.4 602.6,52.8 613.1,53.7 622.7,54.5"/>
<line x1="69.3" y1="51.0" x2="403.5" y2="51.0" stroke="#ff1a1a" stroke-width="3.6" stroke-dasharray="3.6 3.434"/>
<line x1="401.7" y1="50.7" x2="401.7" y2="480" stroke="#ff1a1a" stroke-width="3.4" stroke-dasharray="3.6 3.45"/>
<text x="123" y="172.6" font-family="Liberation Sans, sans-serif" font-weight="bold" font-size="20.2" fill="#111" textLength="84.6" lengthAdjust="spacingAndGlyphs">Thin film</text>
<text x="307.6" y="111.9" font-family="Liberation Sans, sans-serif" font-weight="bold" font-style="italic" font-size="20" fill="#111" stroke="#111" stroke-width="0.35"><tspan textLength="59" lengthAdjust="spacingAndGlyphs">@Low</tspan><tspan x="372.4" textLength="11" lengthAdjust="spacingAndGlyphs">E</tspan><tspan font-size="13.5" dy="4.2" textLength="7.2" lengthAdjust="spacingAndGlyphs">c</tspan></text>
<text x="280.9" y="150.5" font-family="Liberation Sans, sans-serif" font-weight="bold" font-size="20" fill="#111" stroke="#111" stroke-width="0.35"><tspan textLength="65" lengthAdjust="spacingAndGlyphs">@High</tspan><tspan x="350.7" font-style="italic" textLength="13" lengthAdjust="spacingAndGlyphs">P</tspan><tspan font-style="italic" font-size="14" dy="4.3" textLength="8.5" lengthAdjust="spacingAndGlyphs">s</tspan></text>
<text x="231.7" y="190.9" font-family="Liberation Sans, sans-serif" font-weight="bold" font-style="italic" font-size="20" fill="#111" stroke="#111" stroke-width="0.35"><tspan textLength="85.5" lengthAdjust="spacingAndGlyphs">@ High d</tspan><tspan font-size="14.5" dy="4.6" textLength="16.5" lengthAdjust="spacingAndGlyphs">33</tspan></text>
<text x="184.6" y="229.8" font-family="Liberation Sans, sans-serif" font-weight="bold" font-style="italic" font-size="20" fill="#111" stroke="#111" stroke-width="0.35" textLength="155.2" lengthAdjust="spacingAndGlyphs">@ Low bandgap</text>
<text x="153.0" y="269.4" font-family="Liberation Sans, sans-serif" font-weight="bold" font-style="italic" font-size="20" fill="#111" stroke="#111" stroke-width="0.35" textLength="158.2" lengthAdjust="spacingAndGlyphs">@ Fast charging</text>
<text x="135.5" y="308.6" font-family="Liberation Sans, sans-serif" font-weight="bold" font-style="italic" font-size="20" fill="#111" stroke="#111" stroke-width="0.35" textLength="216.7" lengthAdjust="spacingAndGlyphs">@ Resistive switching</text>
<text x="121.5" y="349.6" font-family="Liberation Sans, sans-serif" font-weight="bold" font-style="italic" font-size="20" fill="#111" stroke="#111" stroke-width="0.35" textLength="216.0" lengthAdjust="spacingAndGlyphs">@ High power density</text>
<text x="113.6" y="387.8" font-family="Liberation Sans, sans-serif" font-weight="bold" font-style="italic" font-size="20" fill="#111" stroke="#111" stroke-width="0.35" textLength="219.2" lengthAdjust="spacingAndGlyphs">@ High energy storage</text>
<text x="104.6" y="427.2" font-family="Liberation Sans, sans-serif" font-weight="bold" font-style="italic" font-size="20" fill="#111" stroke="#111" stroke-width="0.35" textLength="220.2" lengthAdjust="spacingAndGlyphs">@ High charge storage</text>
<text x="100" y="461.6" font-family="Liberation Sans, sans-serif" font-weight="bold" font-size="21.5" fill="#2418ee" textLength="285" lengthAdjust="spacingAndGlyphs">Excellent Figures of Merit</text>
<line x1="99.5" y1="464.6" x2="385.5" y2="464.6" stroke="#4a40f5" stroke-width="1.4"/>
<g fill="#000">
<rect x="431.6" y="63" width="3.4" height="167.5"/>
<polygon points="433.3,55 428.2,64.8 438.4,64.8"/>
<polygon points="431.7,228.4 663,226.7 663,229.9 431.7,231.6"/>
<polygon points="671.4,228.2 661.8,223.5 661.8,232.9"/>
</g>
<text x="410.5" y="89.5" font-family="Liberation Serif, serif" font-weight="bold" font-style="italic" filter="url(#sh)" font-size="29" fill="#000" textLength="16.5" lengthAdjust="spacingAndGlyphs">J</text>
<text transform="translate(648.4,219.2) skewX(-15)" font-family="Liberation Serif, serif" font-weight="bold" font-style="italic" filter="url(#sh)" font-size="28.5" fill="#000" textLength="17.6" lengthAdjust="spacingAndGlyphs">V</text>
<polyline fill="none" stroke="#801694" stroke-width="1.4" stroke-linejoin="round" points="465.5,66.5 465.7,66.5 465.8,66.6 466.0,66.7 466.3,66.7 466.5,66.8 466.7,66.9 467.0,66.9 467.3,67.0 467.6,67.1 467.9,67.2 468.2,67.3 468.5,67.4 468.8,67.5 469.2,67.6 469.5,67.7 469.8,67.8 470.2,67.9 470.5,68.0 470.9,68.1 471.3,68.2 471.6,68.3 472.0,68.3 472.3,68.4 472.7,68.5 473.0,68.6 473.3,68.7 473.7,68.8 474.0,68.9 474.3,68.9 474.6,69.0 474.9,69.1 475.2,69.1 475.5,69.2 475.8,69.2 476.1,69.3 476.4,69.3 476.6,69.4 476.9,69.4 477.2,69.5 477.5,69.5 477.8,69.5 478.1,69.6 478.4,69.6 478.6,69.6 478.9,69.7 479.2,69.7 479.5,69.7 479.8,69.8 480.1,69.8 480.4,69.9 480.7,69.9 481.0,69.9 481.3,70.0 481.6,70.0 481.9,70.1 482.2,70.1 482.5,70.2 482.8,70.3 483.1,70.3 483.4,70.4 483.7,70.5 484.0,70.5 484.4,70.6 484.7,70.7 485.0,70.8 485.4,70.9 485.7,70.9 486.0,71.0 486.4,71.1 486.7,71.2 487.0,71.3 487.4,71.4 487.7,71.5 488.1,71.6 488.4,71.7 488.8,71.8 489.1,71.9 489.5,72.0 489.8,72.1 490.1,72.2 490.5,72.3 490.8,72.4 491.2,72.5 491.5,72.6 491.9,72.7 492.2,72.8 492.6,72.9 492.9,73.1 493.3,73.2 493.6,73.3 493.9,73.4 494.3,73.5 494.6,73.7 495.0,73.8 495.3,73.9 495.6,74.1 496.0,74.2 496.3,74.3 496.7,74.5 497.0,74.6 497.3,74.7 497.7,74.9 498.0,75.0 498.4,75.2 498.7,75.3 499.0,75.5 499.4,75.6 499.7,75.8 500.1,75.9 500.4,76.1 500.7,76.2 501.1,76.4 501.4,76.5 501.8,76.7 502.1,76.9 502.4,77.0 502.8,77.2 503.1,77.4 503.5,77.5 503.8,77.7 504.1,77.9 504.5,78.0 504.8,78.2 505.2,78.4 505.5,78.6 505.9,78.8 506.2,79.0 506.6,79.1 506.9,79.3 507.3,79.5 507.6,79.7 507.9,79.9 508.3,80.1 508.6,80.3 509.0,80.5 509.3,80.7 509.7,80.9 510.0,81.1 510.4,81.3 510.7,81.5 511.0,81.7 511.4,81.9 511.7,82.1 512.0,82.3 512.4,82.5 512.7,82.7 513.0,82.9 513.4,83.1 513.7,83.3 514.0,83.5 514.3,83.7 514.6,83.9 514.9,84.1 515.3,84.3 515.6,84.5 515.9,84.7 516.2,84.9 516.5,85.0 516.8,85.2 517.1,85.4 517.4,85.6 517.7,85.8 518.0,86.0 518.3,86.2 518.6,86.4 518.9,86.6 519.2,86.8 519.5,87.0 519.8,87.2 520.0,87.4 520.3,87.6 520.6,87.8 520.9,88.0 521.2,88.2 521.4,88.4 521.7,88.6 522.0,88.8 522.3,89.0 522.5,89.2 522.8,89.4 523.1,89.6 523.3,89.8 523.6,90.0 523.8,90.2 524.1,90.5 524.3,90.7 524.6,90.9 524.8,91.1 525.1,91.3 525.3,91.5 525.5,91.7 525.8,92.0 526.0,92.2 526.3,92.4 526.5,92.6 526.7,92.8 527.0,93.1 527.2,93.3 527.4,93.5 527.6,93.7 527.9,93.9 528.1,94.2 528.3,94.4 528.6,94.6 528.8,94.9 529.0,95.1 529.3,95.3 529.5,95.5 529.8,95.8 530.0,96.0 530.2,96.2 530.5,96.5 530.7,96.7 531.0,96.9 531.3,97.2 531.5,97.4 531.8,97.7 532.0,97.9 532.3,98.1 532.6,98.4 532.8,98.6 533.1,98.9 533.3,99.1 533.6,99.4 533.9,99.6 534.1,99.9 534.4,100.1 534.6,100.4 534.9,100.6 535.1,100.9 535.4,101.1 535.6,101.4 535.9,101.6 536.1,101.8 536.3,102.1 536.6,102.3 536.8,102.6 537.0,102.8 537.2,103.1 537.4,103.3 537.6,103.5 537.8,103.8 538.0,104.0 538.2,104.2 538.3,104.5 538.5,104.7 538.7,104.9 538.9,105.2 539.0,105.4 539.2,105.6 539.3,105.9 539.5,106.1 539.6,106.3 539.8,106.6 539.9,106.8 540.1,107.0 540.2,107.3 540.4,107.5 540.5,107.7 540.6,108.0 540.8,108.2 540.9,108.4 541.1,108.7 541.2,108.9 541.3,109.1 541.5,109.4 541.6,109.6 541.7,109.8 541.9,110.1 542.0,110.3 542.1,110.5 542.3,110.8 542.4,111.0 542.5,111.2 542.7,111.5 542.8,111.7 542.9,111.9 543.1,112.2 543.2,112.4 543.3,112.7 543.4,112.9 543.6,113.1 543.7,113.4 543.8,113.6 543.9,113.8 544.0,114.1 544.2,114.3 544.3,114.6 544.4,114.8 544.5,115.0 544.6,115.3 544.7,115.5 544.8,115.8 545.0,116.0 545.1,116.3 545.2,116.5 545.3,116.7 545.4,117.0 545.5,117.2 545.6,117.5 545.7,117.8 545.8,118.0 545.9,118.3 546.0,118.5 546.1,118.8 546.2,119.1 546.3,119.3 546.4,119.6 546.5,119.9 546.6,120.1 546.7,120.4 546.8,120.7 546.9,120.9 547.0,121.2 547.1,121.5 547.2,121.7 547.3,122.0 547.3,122.3 547.4,122.6 547.5,122.8 547.6,123.1 547.7,123.4 547.8,123.6 547.8,123.9 547.9,124.2 548.0,124.4 548.1,124.7 548.2,125.0 548.2,125.2 548.3,125.5 548.4,125.8 548.4,126.0 548.5,126.3 548.6,126.5 548.6,126.8 548.7,127.0 548.7,127.3 548.8,127.5 548.9,127.8 548.9,128.0 549.0,128.2 549.0,128.5 549.1,128.7 549.1,129.0 549.1,129.2 549.2,129.5 549.2,129.7 549.3,130.0 549.3,130.2 549.4,130.5 549.4,130.7 549.5,131.0 549.5,131.2 549.6,131.5 549.6,131.7 549.7,132.0 549.7,132.3 549.8,132.5 549.8,132.8 549.9,133.1 550.0,133.4 550.0,133.7 550.1,133.9 550.1,134.2 550.2,134.5 550.3,134.8 550.3,135.1 550.4,135.3 550.5,135.6 550.5,135.9 550.6,136.2 550.6,136.5 550.7,136.8 550.8,137.1 550.8,137.4 550.9,137.7 551.0,138.0 551.0,138.3 551.1,138.6 551.2,138.9 551.2,139.2 551.3,139.6 551.4,139.9 551.4,140.2 551.5,140.6 551.6,140.9 551.6,141.3 551.7,141.6 551.7,142.0 551.8,142.4 551.9,142.8 551.9,143.2 552.0,143.6 552.0,144.0 552.1,144.4 552.2,144.9 552.2,145.3 552.3,145.7 552.3,146.2 552.4,146.6 552.5,147.1 552.5,147.6 552.6,148.0 552.6,148.5 552.7,149.0 552.7,149.4 552.8,149.9 552.9,150.4 552.9,150.9 553.0,151.4 553.0,151.8 553.1,152.3 553.1,152.8 553.2,153.3 553.2,153.8 553.3,154.2 553.3,154.7 553.4,155.2 553.4,155.6 553.5,156.1 553.5,156.6 553.6,157.0 553.6,157.5 553.7,157.9 553.7,158.4 553.8,158.9 553.8,159.3 553.9,159.8 553.9,160.2 554.0,160.7 554.0,161.1 554.1,161.6 554.1,162.1 554.2,162.5 554.2,163.0 554.2,163.4 554.3,163.9 554.3,164.4 554.4,164.8 554.4,165.3 554.5,165.8 554.5,166.2 554.5,166.7 554.6,167.2 554.6,167.6 554.7,168.1 554.7,168.6 554.7,169.0 554.8,169.5 554.8,170.0 554.8,170.5 554.9,171.0 554.9,171.5 554.9,172.0 555.0,172.6 555.0,173.1 555.0,173.7 555.1,174.2 555.1,174.8 555.1,175.4 555.2,176.0 555.2,176.5 555.2,177.1 555.3,177.7 555.3,178.2 555.3,178.8 555.3,179.3 555.4,179.8 555.4,180.4 555.4,180.9 555.4,181.3 555.5,181.8 555.5,182.3 555.5,182.7 555.5,183.1 555.5,183.5 555.6,183.8 555.6,184.1 555.6,184.4 555.6,184.7"/>
<polyline fill="none" stroke="#801694" stroke-width="1.4" stroke-linejoin="round" points="491.4,107.6 491.6,107.7 491.9,107.8 492.2,107.9 492.5,108.0 492.8,108.1 493.2,108.2 493.6,108.3 494.0,108.5 494.4,108.6 494.8,108.8 495.3,108.9 495.8,109.1 496.2,109.2 496.7,109.4 497.2,109.5 497.7,109.7 498.2,109.9 498.7,110.1 499.2,110.2 499.7,110.4 500.1,110.6 500.6,110.7 501.1,110.9 501.5,111.1 501.9,111.2 502.4,111.4 502.8,111.6 503.1,111.7 503.5,111.9 503.8,112.0 504.1,112.1 504.4,112.3 504.7,112.4 504.9,112.5 505.1,112.7 505.4,112.8 505.6,112.9 505.8,113.0 506.0,113.2 506.2,113.3 506.4,113.4 506.5,113.5 506.7,113.6 506.9,113.8 507.0,113.9 507.2,114.0 507.4,114.1 507.5,114.3 507.7,114.4 507.9,114.5 508.0,114.7 508.2,114.8 508.4,114.9 508.6,115.1 508.8,115.2 509.0,115.4 509.2,115.6 509.5,115.7 509.7,115.9 510.0,116.1 510.3,116.3 510.6,116.5 510.9,116.7 511.2,116.9 511.5,117.1 511.8,117.3 512.1,117.5 512.4,117.7 512.8,118.0 513.1,118.2 513.4,118.4 513.8,118.7 514.1,118.9 514.5,119.1 514.9,119.4 515.2,119.6 515.6,119.9 515.9,120.1 516.3,120.4 516.7,120.6 517.0,120.9 517.4,121.2 517.7,121.4 518.1,121.7 518.5,122.0 518.8,122.2 519.2,122.5 519.5,122.8 519.9,123.0 520.2,123.3 520.5,123.6 520.9,123.9 521.2,124.2 521.6,124.5 522.0,124.8 522.3,125.1 522.7,125.4 523.1,125.7 523.4,126.0 523.8,126.4 524.2,126.7 524.5,127.0 524.9,127.4 525.3,127.7 525.6,128.0 526.0,128.4 526.4,128.7 526.7,129.0 527.1,129.3 527.4,129.6 527.8,130.0 528.1,130.3 528.4,130.6 528.7,130.9 529.0,131.1 529.3,131.4 529.6,131.7 529.9,131.9 530.1,132.2 530.4,132.4 530.6,132.6 530.9,132.8 531.1,133.0 531.3,133.2 531.5,133.4 531.7,133.5 531.9,133.7 532.0,133.8 532.2,134.0 532.4,134.1 532.5,134.2 532.6,134.4 532.8,134.5 532.9,134.6 533.1,134.7 533.2,134.8 533.3,134.9 533.4,135.1 533.6,135.2 533.7,135.3 533.8,135.4 533.9,135.5 534.1,135.7 534.2,135.8 534.3,136.0 534.4,136.1 534.6,136.3 534.7,136.4 534.9,136.6 535.0,136.8 535.2,137.0 535.3,137.2 535.5,137.4 535.6,137.6 535.8,137.8 535.9,138.1 536.1,138.3 536.2,138.5 536.4,138.7 536.5,139.0 536.7,139.2 536.8,139.5 537.0,139.7 537.1,140.0 537.3,140.2 537.4,140.5 537.6,140.7 537.7,141.0 537.9,141.2 538.0,141.5 538.2,141.7 538.3,142.0 538.5,142.2 538.6,142.5 538.8,142.8 538.9,143.0 539.1,143.3 539.2,143.5 539.4,143.8 539.5,144.0 539.6,144.2 539.8,144.5 539.9,144.7 540.1,145.0 540.2,145.2 540.4,145.5 540.5,145.8 540.7,146.0 540.8,146.3 541.0,146.5 541.1,146.8 541.3,147.1 541.4,147.3 541.6,147.6 541.7,147.8 541.9,148.1 542.0,148.3 542.2,148.6 542.3,148.8 542.5,149.1 542.6,149.4 542.8,149.6 542.9,149.8 543.0,150.1 543.2,150.3 543.3,150.6 543.4,150.8 543.6,151.0 543.7,151.3 543.8,151.5 543.9,151.7 544.0,151.9 544.2,152.2 544.3,152.4 544.4,152.6 544.5,152.8 544.6,153.0 544.7,153.2 544.8,153.4 544.9,153.6 545.0,153.8 545.2,154.0 545.3,154.2 545.4,154.4 545.5,154.6 545.6,154.8 545.7,155.0 545.7,155.2 545.8,155.4 545.9,155.6 546.0,155.7 546.1,155.9 546.2,156.1 546.3,156.3 546.4,156.5 546.5,156.7 546.6,156.9 546.6,157.1 546.7,157.3 546.8,157.5 546.9,157.7 547.0,157.9 547.0,158.1 547.1,158.3 547.2,158.5 547.2,158.7 547.3,158.9 547.4,159.1 547.4,159.3 547.5,159.5 547.6,159.7 547.6,159.9 547.7,160.1 547.7,160.3 547.8,160.5 547.9,160.7 547.9,160.9 548.0,161.1 548.0,161.3 548.1,161.5 548.1,161.7 548.2,161.9 548.2,162.1 548.3,162.3 548.3,162.5 548.4,162.7 548.4,162.9 548.5,163.1 548.5,163.3 548.6,163.5 548.7,163.7 548.7,163.9 548.8,164.1 548.8,164.3 548.9,164.5 548.9,164.7 548.9,164.9 549.0,165.1 549.0,165.2 549.1,165.4 549.1,165.6 549.2,165.8 549.2,166.0 549.3,166.2 549.3,166.4 549.3,166.6 549.4,166.8 549.4,167.0 549.5,167.2 549.5,167.4 549.6,167.6 549.6,167.8 549.7,168.0 549.7,168.2 549.7,168.4 549.8,168.6 549.8,168.8 549.9,169.1 549.9,169.3 550.0,169.5 550.1,169.7 550.1,170.0 550.2,170.2 550.2,170.4 550.3,170.7 550.3,170.9 550.4,171.2 550.5,171.4 550.5,171.7 550.6,172.0 550.6,172.2 550.7,172.5 550.8,172.7 550.8,173.0 550.9,173.3 551.0,173.5 551.0,173.8 551.1,174.1 551.1,174.3 551.2,174.6 551.3,174.9 551.3,175.1 551.4,175.4 551.5,175.7 551.5,175.9 551.6,176.2 551.6,176.4 551.7,176.7 551.7,176.9 551.8,177.2 551.9,177.5 551.9,177.7 552.0,178.0 552.0,178.2 552.1,178.5 552.1,178.7 552.2,179.0 552.3,179.2 552.3,179.5 552.4,179.7 552.4,180.0 552.5,180.2 552.5,180.5 552.6,180.7 552.6,181.0 552.7,181.2 552.8,181.5 552.8,181.7 552.9,182.0 552.9,182.2 553.0,182.5 553.0,182.7 553.0,183.0 553.1,183.2 553.1,183.4 553.2,183.7 553.2,183.9 553.2,184.1 553.3,184.4 553.3,184.6 553.3,184.8 553.4,185.1 553.4,185.3 553.4,185.5 553.4,185.8 553.4,186.0 553.4,186.3 553.5,186.5 553.5,186.7 553.5,187.0 553.5,187.2 553.5,187.5 553.5,187.7 553.5,187.9 553.5,188.2 553.5,188.4 553.5,188.6 553.5,188.8 553.5,189.0 553.5,189.2 553.5,189.4 553.5,189.6 553.5,189.8 553.5,190.0 553.5,190.1 553.5,190.3 553.5,190.4 553.5,190.6 553.5,190.7 553.5,190.8"/>
<polyline fill="none" stroke="#801694" stroke-width="1.4" stroke-linejoin="round" points="557.4,184.7 557.4,184.5 557.4,184.2 557.5,183.9 557.5,183.6 557.5,183.2 557.5,182.8 557.5,182.4 557.6,182.0 557.6,181.6 557.6,181.1 557.7,180.7 557.7,180.2 557.7,179.7 557.8,179.2 557.8,178.7 557.8,178.1 557.9,177.6 557.9,177.1 557.9,176.6 558.0,176.0 558.0,175.5 558.0,175.0 558.1,174.4 558.1,173.9 558.1,173.4 558.2,172.9 558.2,172.4 558.2,171.9 558.3,171.5 558.3,171.0 558.3,170.6 558.4,170.1 558.4,169.7 558.4,169.2 558.4,168.8 558.5,168.4 558.5,167.9 558.5,167.5 558.5,167.1 558.6,166.6 558.6,166.2 558.6,165.8 558.6,165.3 558.7,164.9 558.7,164.5 558.7,164.0 558.8,163.6 558.8,163.2 558.8,162.8 558.8,162.3 558.9,161.9 558.9,161.5 558.9,161.0 559.0,160.6 559.0,160.2 559.0,159.7 559.1,159.3 559.1,158.9 559.2,158.4 559.2,158.0 559.2,157.6 559.3,157.1 559.3,156.7 559.4,156.2 559.4,155.8 559.5,155.3 559.5,154.9 559.6,154.4 559.6,153.9 559.7,153.5 559.8,153.0 559.8,152.5 559.9,152.1 559.9,151.6 560.0,151.2 560.0,150.7 560.1,150.3 560.2,149.8 560.2,149.4 560.3,148.9 560.4,148.5 560.4,148.0 560.5,147.6 560.5,147.2 560.6,146.8 560.7,146.4 560.7,146.0 560.8,145.6 560.8,145.2 560.9,144.8 561.0,144.4 561.0,144.1 561.1,143.7 561.1,143.3 561.2,143.0 561.3,142.6 561.3,142.3 561.4,142.0 561.4,141.6 561.5,141.3 561.6,141.0 561.6,140.7 561.7,140.3 561.8,140.0 561.8,139.7 561.9,139.4 561.9,139.1 562.0,138.8 562.1,138.5 562.1,138.2 562.2,137.9 562.3,137.7 562.3,137.4 562.4,137.1 562.5,136.8 562.5,136.6 562.6,136.3 562.7,136.0 562.7,135.8 562.8,135.5 562.9,135.2 562.9,135.0 563.0,134.8 563.1,134.5 563.2,134.3 563.2,134.1 563.3,133.8 563.4,133.6 563.4,133.4 563.5,133.2 563.6,133.0 563.7,132.8 563.7,132.6 563.8,132.4 563.9,132.2 564.0,132.0 564.0,131.8 564.1,131.6 564.2,131.5 564.3,131.3 564.4,131.1 564.4,130.9 564.5,130.7 564.6,130.5 564.7,130.3 564.8,130.1 564.8,129.9 564.9,129.6 565.0,129.4 565.1,129.2 565.2,129.0 565.3,128.7 565.4,128.5 565.5,128.3 565.5,128.0 565.6,127.8 565.7,127.6 565.8,127.3 565.9,127.1 566.0,126.8 566.1,126.6 566.2,126.4 566.3,126.1 566.4,125.9 566.5,125.6 566.6,125.4 566.7,125.1 566.8,124.9 566.9,124.6 567.0,124.4 567.1,124.1 567.2,123.9 567.3,123.6 567.4,123.4 567.5,123.1 567.6,122.9 567.7,122.6 567.8,122.4 567.9,122.1 568.0,121.9 568.1,121.7 568.2,121.4 568.3,121.2 568.4,120.9 568.5,120.7 568.6,120.4 568.7,120.2 568.8,119.9 568.9,119.7 569.0,119.4 569.1,119.2 569.2,118.9 569.3,118.7 569.4,118.4 569.5,118.2 569.6,118.0 569.7,117.7 569.8,117.5 569.9,117.2 570.0,117.0 570.1,116.7 570.2,116.5 570.3,116.2 570.4,116.0 570.5,115.8 570.6,115.5 570.7,115.3 570.8,115.1 570.9,114.8 571.0,114.6 571.1,114.4 571.2,114.1 571.3,113.9 571.4,113.7 571.6,113.5 571.7,113.3 571.8,113.0 571.9,112.8 572.0,112.6 572.1,112.4 572.2,112.2 572.4,111.9 572.5,111.7 572.6,111.5 572.7,111.3 572.8,111.1 573.0,110.9 573.1,110.7 573.2,110.5 573.3,110.2 573.4,110.0 573.6,109.8 573.7,109.6 573.8,109.4 573.9,109.2 574.1,109.0 574.2,108.8 574.3,108.5 574.5,108.3 574.6,108.1 574.7,107.9 574.9,107.7 575.0,107.4 575.1,107.2 575.3,107.0 575.4,106.8 575.6,106.5 575.7,106.3 575.8,106.1 576.0,105.9 576.1,105.6 576.3,105.4 576.4,105.2 576.6,104.9 576.7,104.7 576.9,104.5 577.0,104.3 577.2,104.0 577.3,103.8 577.5,103.6 577.6,103.4 577.8,103.2 577.9,102.9 578.1,102.7 578.2,102.5 578.4,102.3 578.5,102.1 578.7,101.9 578.8,101.7 579.0,101.5 579.2,101.3 579.3,101.1 579.5,100.9 579.7,100.7 579.8,100.5 580.0,100.3 580.2,100.2 580.3,100.0 580.5,99.8 580.7,99.6 580.8,99.4 581.0,99.2 581.2,99.1 581.4,98.9 581.6,98.7 581.7,98.5 581.9,98.4 582.1,98.2 582.3,98.0 582.4,97.9 582.6,97.7 582.8,97.6 582.9,97.4 583.1,97.3 583.3,97.1 583.4,97.0 583.6,96.8 583.8,96.7 583.9,96.5 584.1,96.4 584.3,96.3 584.4,96.1 584.6,96.0 584.7,95.9 584.9,95.7 585.0,95.6 585.2,95.5 585.3,95.4 585.5,95.2 585.6,95.1 585.8,95.0 585.9,94.9 586.1,94.8 586.2,94.7 586.4,94.5 586.5,94.4 586.7,94.3 586.8,94.2 587.0,94.2 587.1,94.1 587.3,94.0 587.4,93.9 587.5,93.8 587.7,93.8 587.8,93.7 588.0,93.7 588.1,93.6 588.2,93.6 588.4,93.5 588.5,93.5 588.6,93.5 588.8,93.5 588.9,93.5 589.0,93.5 589.2,93.5 589.3,93.6 589.4,93.6 589.5,93.7 589.7,93.7 589.8,93.8 589.9,93.9 590.0,93.9 590.2,94.0 590.3,94.1 590.4,94.2 590.5,94.2 590.6,94.3 590.7,94.4 590.9,94.5 591.0,94.5 591.1,94.6 591.2,94.7 591.3,94.7 591.4,94.8 591.5,94.8 591.7,94.9 591.8,94.9 591.9,94.9 592.0,94.9 592.1,94.9 592.2,94.9 592.3,94.9 592.4,94.8 592.5,94.8 592.6,94.8 592.7,94.7 592.8,94.7 592.9,94.6 593.0,94.6 593.1,94.5 593.2,94.4 593.3,94.4 593.4,94.3 593.5,94.2 593.6,94.2 593.7,94.1 593.8,94.0 593.9,93.9 594.0,93.8 594.1,93.7 594.2,93.6 594.3,93.5 594.4,93.4 594.5,93.3 594.6,93.2 594.7,93.1 594.7,93.0 594.8,92.9 594.9,92.8 595.0,92.7 595.1,92.6 595.2,92.5 595.2,92.4 595.3,92.2 595.4,92.1 595.4,92.0 595.5,91.8 595.6,91.7 595.6,91.6 595.7,91.4 595.8,91.3 595.8,91.1 595.9,91.0 595.9,90.8 596.0,90.7 596.1,90.5 596.1,90.4 596.2,90.2 596.3,90.1 596.3,89.9 596.4,89.8 596.5,89.6 596.6,89.5 596.6,89.3 596.7,89.1 596.8,89.0 596.9,88.8 597.0,88.7 597.1,88.5 597.2,88.4 597.3,88.3 597.4,88.1 597.5,87.9 597.7,87.8 597.8,87.6 597.9,87.5 598.1,87.3 598.2,87.1 598.3,86.9 598.5,86.8 598.6,86.6 598.8,86.4 598.9,86.3 599.1,86.1 599.2,85.9 599.4,85.8 599.5,85.6 599.7,85.4 599.8,85.3 600.0,85.1 600.2,85.0 600.3,84.9 600.5,84.7 600.6,84.6 600.8,84.5 601.0,84.4 601.1,84.3 601.3,84.2 601.4,84.1 601.6,84.0 601.8,83.9 601.9,83.9 602.1,83.8 602.3,83.8 602.4,83.8 602.6,83.8 602.8,83.7 603.0,83.7 603.1,83.7 603.3,83.8 603.5,83.8 603.7,83.8 603.9,83.8 604.1,83.8 604.2,83.9 604.4,83.9 604.6,83.9 604.8,83.9 605.0,84.0 605.1,84.0 605.3,84.0 605.5,84.0 605.6,84.1 605.8,84.1 606.0,84.1 606.1,84.1 606.3,84.1 606.4,84.1 606.6,84.0 606.7,84.0 606.8,84.0 607.0,83.9 607.1,83.9 607.2,83.8 607.3,83.8 607.4,83.7 607.5,83.6 607.6,83.6 607.6,83.5 607.7,83.4 607.8,83.4 607.9,83.3 608.0,83.2 608.0,83.1 608.1,83.0 608.2,83.0 608.3,82.9 608.3,82.8 608.4,82.7 608.5,82.6 608.6,82.5 608.7,82.4 608.8,82.4 608.9,82.3 609.0,82.2 609.1,82.1 609.2,82.0 609.3,82.0 609.5,81.9 609.6,81.8 609.8,81.7 609.9,81.7 610.1,81.6 610.2,81.5 610.4,81.4 610.6,81.3 610.8,81.3 611.0,81.2 611.2,81.1 611.4,81.0 611.6,81.0 611.8,80.9 612.0,80.8 612.2,80.7 612.5,80.6 612.7,80.6 612.9,80.5 613.1,80.4 613.3,80.3 613.5,80.3 613.7,80.2 614.0,80.1 614.2,80.0 614.4,80.0 614.6,79.9 614.8,79.8 615.0,79.8 615.1,79.7 615.3,79.7 615.5,79.6 615.7,79.5 615.8,79.5 616.0,79.4 616.2,79.4 616.3,79.3 616.5,79.3 616.7,79.2 616.8,79.2 617.0,79.1 617.1,79.1 617.3,79.0 617.4,79.0 617.6,79.0 617.7,78.9 617.9,78.9 618.0,78.8 618.2,78.8 618.3,78.8 618.5,78.7 618.6,78.7 618.7,78.7 618.9,78.6 619.0,78.6 619.1,78.6 619.3,78.5 619.4,78.5 619.5,78.5 619.7,78.5 619.8,78.4 619.9,78.4 620.0,78.4 620.1,78.4 620.3,78.3 620.4,78.3 620.5,78.3 620.6,78.3 620.7,78.3 620.9,78.2 621.0,78.2 621.1,78.2 621.2,78.2 621.3,78.2 621.4,78.2 621.5,78.2 621.6,78.2 621.7,78.2 621.8,78.2 621.9,78.2 622.0,78.1 622.1,78.1 622.2,78.1 622.3,78.1 622.4,78.1 622.4,78.1 622.5,78.1 622.6,78.1 622.6,78.1 622.7,78.1 622.7,78.1 622.8,78.1"/>
<polyline fill="none" stroke="#801694" stroke-width="1.4" stroke-linejoin="round" points="559.2,190.8 559.2,190.7 559.2,190.6 559.2,190.4 559.2,190.3 559.2,190.1 559.2,190.0 559.2,189.8 559.2,189.6 559.3,189.4 559.3,189.2 559.3,189.0 559.3,188.8 559.3,188.6 559.3,188.3 559.3,188.1 559.3,187.9 559.3,187.6 559.3,187.4 559.4,187.2 559.4,186.9 559.4,186.7 559.4,186.4 559.4,186.2 559.4,185.9 559.5,185.7 559.5,185.4 559.5,185.2 559.5,185.0 559.6,184.7 559.6,184.5 559.6,184.3 559.7,184.0 559.7,183.8 559.7,183.6 559.8,183.4 559.8,183.1 559.9,182.9 559.9,182.6 560.0,182.4 560.0,182.2 560.1,181.9 560.1,181.7 560.2,181.4 560.2,181.2 560.3,181.0 560.3,180.7 560.4,180.5 560.4,180.2 560.5,180.0 560.5,179.7 560.6,179.5 560.6,179.2 560.7,179.0 560.8,178.7 560.8,178.5 560.9,178.2 560.9,178.0 561.0,177.7 561.0,177.5 561.1,177.2 561.2,176.9 561.2,176.7 561.3,176.4 561.3,176.2 561.4,175.9 561.5,175.6 561.5,175.3 561.6,175.1 561.6,174.8 561.7,174.5 561.8,174.2 561.8,174.0 561.9,173.7 562.0,173.4 562.0,173.1 562.1,172.8 562.2,172.6 562.2,172.3 562.3,172.0 562.4,171.7 562.4,171.5 562.5,171.2 562.6,170.9 562.6,170.6 562.7,170.4 562.7,170.1 562.8,169.9 562.9,169.6 562.9,169.4 563.0,169.1 563.1,168.9 563.1,168.6 563.2,168.4 563.2,168.1 563.3,167.9 563.4,167.7 563.4,167.5 563.5,167.2 563.5,167.0 563.6,166.8 563.6,166.6 563.7,166.4 563.7,166.1 563.8,165.9 563.8,165.7 563.9,165.5 564.0,165.3 564.0,165.1 564.1,164.8 564.1,164.6 564.2,164.4 564.3,164.2 564.3,164.0 564.4,163.7 564.4,163.5 564.5,163.3 564.6,163.0 564.7,162.8 564.7,162.5 564.8,162.3 564.9,162.0 565.0,161.8 565.0,161.5 565.1,161.3 565.2,161.0 565.3,160.7 565.4,160.5 565.4,160.2 565.5,159.9 565.6,159.6 565.7,159.3 565.8,159.1 565.9,158.8 566.0,158.5 566.0,158.2 566.1,157.9 566.2,157.6 566.3,157.4 566.4,157.1 566.5,156.8 566.6,156.5 566.7,156.2 566.8,155.9 566.9,155.7 567.0,155.4 567.1,155.1 567.2,154.8 567.3,154.5 567.4,154.3 567.5,154.0 567.6,153.7 567.7,153.5 567.8,153.2 567.9,152.9 568.0,152.7 568.1,152.4 568.3,152.2 568.4,151.9 568.5,151.6 568.6,151.4 568.7,151.1 568.8,150.9 568.9,150.6 569.1,150.4 569.2,150.1 569.3,149.8 569.4,149.6 569.5,149.3 569.6,149.1 569.8,148.8 569.9,148.6 570.0,148.3 570.1,148.0 570.3,147.8 570.4,147.5 570.5,147.3 570.6,147.0 570.8,146.7 570.9,146.5 571.0,146.2 571.1,145.9 571.3,145.7 571.4,145.4 571.5,145.1 571.6,144.8 571.8,144.6 571.9,144.3 572.0,144.0 572.2,143.7 572.3,143.5 572.4,143.2 572.6,142.9 572.7,142.6 572.8,142.3 573.0,142.1 573.1,141.8 573.2,141.5 573.4,141.2 573.5,140.9 573.6,140.7 573.8,140.4 573.9,140.1 574.1,139.8 574.2,139.6 574.3,139.3 574.5,139.0 574.6,138.8 574.7,138.5 574.9,138.3 575.0,138.0 575.1,137.7 575.3,137.5 575.4,137.3 575.5,137.0 575.6,136.8 575.7,136.6 575.8,136.3 575.9,136.1 576.0,135.9 576.1,135.6 576.2,135.4 576.3,135.2 576.4,135.0 576.5,134.8 576.6,134.5 576.7,134.3 576.8,134.1 577.0,133.9 577.1,133.6 577.2,133.4 577.3,133.2 577.5,133.0 577.6,132.7 577.8,132.5 578.0,132.2 578.2,132.0 578.3,131.7 578.6,131.4 578.8,131.2 579.0,130.9 579.2,130.6 579.5,130.3 579.8,130.0 580.0,129.7 580.3,129.4 580.6,129.1 580.9,128.8 581.2,128.5 581.6,128.1 581.9,127.8 582.2,127.5 582.6,127.1 582.9,126.8 583.3,126.4 583.6,126.1 584.0,125.8 584.3,125.4 584.7,125.1 585.1,124.7 585.5,124.4 585.8,124.1 586.2,123.7 586.6,123.4 587.0,123.1 587.3,122.7 587.7,122.4 588.1,122.1 588.5,121.8 588.8,121.5 589.2,121.2 589.6,120.9 589.9,120.6 590.3,120.3 590.7,120.0 591.1,119.7 591.4,119.4 591.8,119.2 592.2,118.9 592.6,118.6 593.0,118.3 593.4,118.0 593.8,117.7 594.2,117.5 594.6,117.2 595.0,116.9 595.4,116.6 595.8,116.4 596.1,116.1 596.5,115.8 596.9,115.6 597.3,115.3 597.7,115.1 598.1,114.8 598.5,114.6 598.9,114.3 599.3,114.1 599.7,113.9 600.1,113.6 600.5,113.4 600.9,113.2 601.3,113.0 601.7,112.8 602.1,112.6 602.4,112.4 602.8,112.2 603.2,112.0 603.6,111.8 604.0,111.6 604.4,111.5 604.7,111.3 605.1,111.1 605.5,111.0 605.9,110.8 606.3,110.6 606.7,110.5 607.0,110.3 607.4,110.2 607.8,110.0 608.2,109.8 608.6,109.7 609.0,109.5 609.4,109.4 609.8,109.2 610.2,109.1 610.6,108.9 611.0,108.8 611.4,108.6 611.8,108.4 612.2,108.3 612.6,108.1 613.0,107.9 613.4,107.8 613.9,107.6 614.3,107.4 614.7,107.2 615.2,107.0 615.6,106.9 616.1,106.7 616.5,106.5 617.0,106.3 617.4,106.1 617.9,106.0 618.3,105.8 618.8,105.6 619.2,105.4 619.7,105.2 620.2,105.1 620.6,104.9 621.1,104.7 621.5,104.5 621.9,104.4 622.4,104.2 622.8,104.0 623.2,103.9 623.7,103.7 624.1,103.6 624.5,103.4 624.9,103.3 625.3,103.1 625.7,103.0 626.1,102.9 626.5,102.7 626.8,102.6 627.2,102.5 627.6,102.4 627.9,102.2 628.3,102.1 628.6,102.0 628.9,101.9 629.3,101.8 629.6,101.7 630.0,101.6 630.3,101.5 630.6,101.4 630.9,101.3 631.3,101.2 631.6,101.1 631.9,101.0 632.2,100.9 632.5,100.8 632.9,100.7 633.2,100.7 633.5,100.6 633.9,100.5 634.2,100.4 634.5,100.3 634.9,100.2 635.2,100.2 635.5,100.1 635.9,100.0 636.3,99.9 636.6,99.8 637.0,99.8 637.4,99.7 637.8,99.6 638.2,99.5 638.6,99.5 639.1,99.4 639.5,99.3 639.9,99.3 640.3,99.2 640.8,99.1 641.2,99.1 641.6,99.0 642.0,99.0 642.5,98.9 642.9,98.8 643.3,98.8 643.6,98.7 644.0,98.7 644.4,98.6 644.7,98.6 645.1,98.6 645.4,98.5 645.7,98.5 646.0,98.4 646.2,98.4 646.5,98.4 646.7,98.3 646.9,98.3"/>
<polyline fill="none" stroke="#801694" stroke-width="1.3" stroke-linejoin="round" points="553.5,190.8 555.8,218.5 559.2,190.8"/>
<polyline fill="none" stroke="#801694" stroke-width="1.3" stroke-linejoin="round" points="555.6,184.7 555.9,218.2 557.4,184.7"/>
<polyline fill="none" stroke="#801694" stroke-width="1.3" stroke-linejoin="round" points="490.7,82.0 491.4,107.6"/>
<polyline fill="none" stroke="#801694" stroke-width="1.3" stroke-linejoin="round" points="622.8,78.1 625.7,102.5"/>
<rect x="463.6" y="64.5" width="3.9" height="3.9" fill="#801694"/><rect x="465.4" y="65.1" width="3.9" height="3.9" fill="#801694"/><rect x="467.3" y="65.6" width="3.9" height="3.9" fill="#801694"/><rect x="469.1" y="66.1" width="3.9" height="3.9" fill="#801694"/><rect x="471.0" y="66.6" width="3.9" height="3.9" fill="#801694"/><rect x="472.8" y="67.1" width="3.9" height="3.9" fill="#801694"/><rect x="474.7" y="67.4" width="3.9" height="3.9" fill="#801694"/><rect x="476.5" y="67.7" width="3.9" height="3.9" fill="#801694"/><rect x="478.4" y="67.9" width="3.9" height="3.9" fill="#801694"/><rect x="480.2" y="68.2" width="3.9" height="3.9" fill="#801694"/><rect x="482.1" y="68.6" width="3.9" height="3.9" fill="#801694"/><rect x="483.9" y="69.0" width="3.9" height="3.9" fill="#801694"/><rect x="485.8" y="69.5" width="3.9" height="3.9" fill="#801694"/><rect x="487.6" y="70.0" width="3.9" height="3.9" fill="#801694"/><rect x="489.5" y="70.6" width="3.9" height="3.9" fill="#801694"/><rect x="491.3" y="71.2" width="3.9" height="3.9" fill="#801694"/><rect x="493.2" y="71.9" width="3.9" height="3.9" fill="#801694"/><rect x="495.0" y="72.6" width="3.9" height="3.9" fill="#801694"/><rect x="496.9" y="73.4" width="3.9" height="3.9" fill="#801694"/><rect x="498.7" y="74.2" width="3.9" height="3.9" fill="#801694"/><rect x="500.6" y="75.1" width="3.9" height="3.9" fill="#801694"/><rect x="502.4" y="76.0" width="3.9" height="3.9" fill="#801694"/><rect x="504.3" y="77.0" width="3.9" height="3.9" fill="#801694"/><rect x="506.1" y="78.0" width="3.9" height="3.9" fill="#801694"/><rect x="508.0" y="79.1" width="3.9" height="3.9" fill="#801694"/><rect x="509.8" y="80.2" width="3.9" height="3.9" fill="#801694"/><rect x="511.7" y="81.3" width="3.9" height="3.9" fill="#801694"/><rect x="513.5" y="82.4" width="3.9" height="3.9" fill="#801694"/><rect x="515.4" y="83.6" width="3.9" height="3.9" fill="#801694"/><rect x="517.2" y="84.8" width="3.9" height="3.9" fill="#801694"/><rect x="519.1" y="86.1" width="3.9" height="3.9" fill="#801694"/><rect x="520.9" y="87.5" width="3.9" height="3.9" fill="#801694"/><rect x="522.8" y="89.0" width="3.9" height="3.9" fill="#801694"/><rect x="524.6" y="90.7" width="3.9" height="3.9" fill="#801694"/><rect x="526.5" y="92.5" width="3.9" height="3.9" fill="#801694"/><rect x="528.3" y="94.3" width="3.9" height="3.9" fill="#801694"/><rect x="530.2" y="96.0" width="3.9" height="3.9" fill="#801694"/><rect x="532.0" y="97.8" width="3.9" height="3.9" fill="#801694"/><rect x="533.9" y="99.6" width="3.9" height="3.9" fill="#801694"/><rect x="535.7" y="101.7" width="3.9" height="3.9" fill="#801694"/><rect x="537.6" y="104.2" width="3.9" height="3.9" fill="#801694"/><rect x="539.4" y="107.2" width="3.9" height="3.9" fill="#801694"/><rect x="541.3" y="110.5" width="3.9" height="3.9" fill="#801694"/><rect x="543.1" y="114.3" width="3.9" height="3.9" fill="#801694"/><rect x="545.0" y="119.0" width="3.9" height="3.9" fill="#801694"/><rect x="546.8" y="125.3" width="3.9" height="3.9" fill="#801694"/><rect x="548.7" y="134.3" width="3.9" height="3.9" fill="#801694"/><rect x="550.5" y="145.1" width="3.9" height="3.9" fill="#801694"/><rect x="552.4" y="162.0" width="3.9" height="3.9" fill="#801694"/>
<rect x="489.4" y="105.6" width="3.9" height="3.9" fill="#801694"/><rect x="491.3" y="106.3" width="3.9" height="3.9" fill="#801694"/><rect x="493.2" y="106.9" width="3.9" height="3.9" fill="#801694"/><rect x="495.0" y="107.5" width="3.9" height="3.9" fill="#801694"/><rect x="496.9" y="108.1" width="3.9" height="3.9" fill="#801694"/><rect x="498.7" y="108.8" width="3.9" height="3.9" fill="#801694"/><rect x="500.6" y="109.5" width="3.9" height="3.9" fill="#801694"/><rect x="502.4" y="110.3" width="3.9" height="3.9" fill="#801694"/><rect x="504.3" y="111.3" width="3.9" height="3.9" fill="#801694"/><rect x="506.1" y="112.7" width="3.9" height="3.9" fill="#801694"/><rect x="508.0" y="114.1" width="3.9" height="3.9" fill="#801694"/><rect x="509.8" y="115.3" width="3.9" height="3.9" fill="#801694"/><rect x="511.7" y="116.6" width="3.9" height="3.9" fill="#801694"/><rect x="513.5" y="117.9" width="3.9" height="3.9" fill="#801694"/><rect x="515.4" y="119.2" width="3.9" height="3.9" fill="#801694"/><rect x="517.2" y="120.5" width="3.9" height="3.9" fill="#801694"/><rect x="519.1" y="122.0" width="3.9" height="3.9" fill="#801694"/><rect x="520.9" y="123.6" width="3.9" height="3.9" fill="#801694"/><rect x="522.8" y="125.2" width="3.9" height="3.9" fill="#801694"/><rect x="524.6" y="126.9" width="3.9" height="3.9" fill="#801694"/><rect x="526.5" y="128.6" width="3.9" height="3.9" fill="#801694"/><rect x="528.3" y="130.3" width="3.9" height="3.9" fill="#801694"/><rect x="530.2" y="131.9" width="3.9" height="3.9" fill="#801694"/><rect x="532.0" y="133.6" width="3.9" height="3.9" fill="#801694"/><rect x="533.9" y="135.9" width="3.9" height="3.9" fill="#801694"/><rect x="535.7" y="138.9" width="3.9" height="3.9" fill="#801694"/><rect x="537.6" y="142.1" width="3.9" height="3.9" fill="#801694"/><rect x="539.4" y="145.2" width="3.9" height="3.9" fill="#801694"/><rect x="541.3" y="148.5" width="3.9" height="3.9" fill="#801694"/><rect x="543.1" y="151.9" width="3.9" height="3.9" fill="#801694"/><rect x="545.0" y="155.8" width="3.9" height="3.9" fill="#801694"/><rect x="546.8" y="162.1" width="3.9" height="3.9" fill="#801694"/><rect x="548.7" y="170.1" width="3.9" height="3.9" fill="#801694"/><rect x="550.5" y="178.1" width="3.9" height="3.9" fill="#801694"/>
<rect x="555.4" y="182.8" width="3.9" height="3.9" fill="#801694"/><rect x="557.3" y="155.6" width="3.9" height="3.9" fill="#801694"/><rect x="559.1" y="141.6" width="3.9" height="3.9" fill="#801694"/><rect x="561.0" y="133.0" width="3.9" height="3.9" fill="#801694"/><rect x="562.9" y="128.0" width="3.9" height="3.9" fill="#801694"/><rect x="564.7" y="123.3" width="3.9" height="3.9" fill="#801694"/><rect x="566.6" y="118.7" width="3.9" height="3.9" fill="#801694"/><rect x="568.4" y="114.1" width="3.9" height="3.9" fill="#801694"/><rect x="570.3" y="110.3" width="3.9" height="3.9" fill="#801694"/><rect x="572.1" y="107.1" width="3.9" height="3.9" fill="#801694"/><rect x="574.0" y="104.0" width="3.9" height="3.9" fill="#801694"/><rect x="575.8" y="101.2" width="3.9" height="3.9" fill="#801694"/><rect x="577.7" y="98.8" width="3.9" height="3.9" fill="#801694"/><rect x="579.5" y="96.9" width="3.9" height="3.9" fill="#801694"/><rect x="581.4" y="95.1" width="3.9" height="3.9" fill="#801694"/><rect x="583.2" y="93.6" width="3.9" height="3.9" fill="#801694"/><rect x="585.1" y="92.2" width="3.9" height="3.9" fill="#801694"/><rect x="586.9" y="91.5" width="3.9" height="3.9" fill="#801694"/><rect x="588.8" y="92.4" width="3.9" height="3.9" fill="#801694"/><rect x="590.6" y="92.8" width="3.9" height="3.9" fill="#801694"/><rect x="592.5" y="91.5" width="3.9" height="3.9" fill="#801694"/><rect x="594.3" y="88.1" width="3.9" height="3.9" fill="#801694"/><rect x="596.2" y="85.3" width="3.9" height="3.9" fill="#801694"/><rect x="598.0" y="83.2" width="3.9" height="3.9" fill="#801694"/><rect x="599.9" y="82.0" width="3.9" height="3.9" fill="#801694"/><rect x="601.7" y="81.8" width="3.9" height="3.9" fill="#801694"/><rect x="603.6" y="82.1" width="3.9" height="3.9" fill="#801694"/><rect x="605.4" y="81.8" width="3.9" height="3.9" fill="#801694"/><rect x="607.3" y="80.1" width="3.9" height="3.9" fill="#801694"/><rect x="609.1" y="79.2" width="3.9" height="3.9" fill="#801694"/><rect x="611.0" y="78.5" width="3.9" height="3.9" fill="#801694"/><rect x="612.8" y="77.9" width="3.9" height="3.9" fill="#801694"/><rect x="614.7" y="77.3" width="3.9" height="3.9" fill="#801694"/><rect x="616.5" y="76.8" width="3.9" height="3.9" fill="#801694"/><rect x="618.4" y="76.4" width="3.9" height="3.9" fill="#801694"/><rect x="620.2" y="76.2" width="3.9" height="3.9" fill="#801694"/>
<rect x="557.2" y="188.9" width="3.9" height="3.9" fill="#801694"/><rect x="559.1" y="175.5" width="3.9" height="3.9" fill="#801694"/><rect x="561.0" y="167.6" width="3.9" height="3.9" fill="#801694"/><rect x="562.8" y="160.5" width="3.9" height="3.9" fill="#801694"/><rect x="564.7" y="154.6" width="3.9" height="3.9" fill="#801694"/><rect x="566.5" y="149.7" width="3.9" height="3.9" fill="#801694"/><rect x="568.4" y="145.7" width="3.9" height="3.9" fill="#801694"/><rect x="570.2" y="141.8" width="3.9" height="3.9" fill="#801694"/><rect x="572.1" y="138.0" width="3.9" height="3.9" fill="#801694"/><rect x="573.9" y="134.3" width="3.9" height="3.9" fill="#801694"/><rect x="575.8" y="130.7" width="3.9" height="3.9" fill="#801694"/><rect x="577.6" y="128.3" width="3.9" height="3.9" fill="#801694"/><rect x="579.5" y="126.3" width="3.9" height="3.9" fill="#801694"/><rect x="581.3" y="124.5" width="3.9" height="3.9" fill="#801694"/><rect x="583.2" y="122.8" width="3.9" height="3.9" fill="#801694"/><rect x="585.0" y="121.1" width="3.9" height="3.9" fill="#801694"/><rect x="586.9" y="119.6" width="3.9" height="3.9" fill="#801694"/><rect x="588.7" y="118.1" width="3.9" height="3.9" fill="#801694"/><rect x="590.6" y="116.7" width="3.9" height="3.9" fill="#801694"/><rect x="592.4" y="115.4" width="3.9" height="3.9" fill="#801694"/><rect x="594.3" y="114.1" width="3.9" height="3.9" fill="#801694"/><rect x="596.1" y="112.9" width="3.9" height="3.9" fill="#801694"/><rect x="598.0" y="111.8" width="3.9" height="3.9" fill="#801694"/><rect x="599.8" y="110.8" width="3.9" height="3.9" fill="#801694"/><rect x="601.7" y="109.9" width="3.9" height="3.9" fill="#801694"/><rect x="603.5" y="109.0" width="3.9" height="3.9" fill="#801694"/><rect x="605.4" y="108.3" width="3.9" height="3.9" fill="#801694"/><rect x="607.2" y="107.5" width="3.9" height="3.9" fill="#801694"/><rect x="609.1" y="106.8" width="3.9" height="3.9" fill="#801694"/><rect x="610.9" y="106.0" width="3.9" height="3.9" fill="#801694"/><rect x="612.8" y="105.3" width="3.9" height="3.9" fill="#801694"/><rect x="614.6" y="104.5" width="3.9" height="3.9" fill="#801694"/><rect x="616.5" y="103.8" width="3.9" height="3.9" fill="#801694"/><rect x="618.3" y="103.1" width="3.9" height="3.9" fill="#801694"/><rect x="620.2" y="102.4" width="3.9" height="3.9" fill="#801694"/><rect x="622.0" y="101.7" width="3.9" height="3.9" fill="#801694"/><rect x="623.9" y="101.0" width="3.9" height="3.9" fill="#801694"/><rect x="625.7" y="100.4" width="3.9" height="3.9" fill="#801694"/><rect x="627.6" y="99.8" width="3.9" height="3.9" fill="#801694"/><rect x="629.4" y="99.2" width="3.9" height="3.9" fill="#801694"/><rect x="631.3" y="98.7" width="3.9" height="3.9" fill="#801694"/><rect x="633.1" y="98.2" width="3.9" height="3.9" fill="#801694"/><rect x="635.0" y="97.8" width="3.9" height="3.9" fill="#801694"/><rect x="636.8" y="97.5" width="3.9" height="3.9" fill="#801694"/><rect x="638.7" y="97.2" width="3.9" height="3.9" fill="#801694"/><rect x="640.5" y="97.0" width="3.9" height="3.9" fill="#801694"/><rect x="642.4" y="96.7" width="3.9" height="3.9" fill="#801694"/><rect x="644.2" y="96.5" width="3.9" height="3.9" fill="#801694"/>
<polyline fill="none" stroke="#801694" stroke-width="6.2" stroke-linejoin="round" points="465.0,65.2 476.0,68.3"/>
<rect x="476.6" y="74.3" width="3.9" height="3.9" fill="#801694"/><rect x="478.6" y="74.6" width="3.9" height="3.9" fill="#801694"/><rect x="480.6" y="75.0" width="3.9" height="3.9" fill="#801694"/><rect x="482.6" y="75.8" width="3.9" height="3.9" fill="#801694"/><rect x="484.6" y="77.2" width="3.9" height="3.9" fill="#801694"/><rect x="486.6" y="78.6" width="3.9" height="3.9" fill="#801694"/><rect x="488.6" y="79.8" width="3.9" height="3.9" fill="#801694"/><rect x="490.1" y="105.8" width="3.9" height="3.9" fill="#801694"/>
<rect x="553.2" y="217.2" width="6.2" height="3.7" fill="#801694"/>
<rect x="553.8" y="216.3" width="4" height="4" fill="#801694"/><rect x="551.5" y="188.8" width="4" height="4" fill="#801694"/><rect x="557.2" y="188.8" width="4" height="4" fill="#801694"/><rect x="622.2" y="87.1" width="4" height="4" fill="#801694"/><rect x="551.6" y="184.3" width="4" height="4" fill="#801694"/><rect x="556.6" y="184.3" width="4" height="4" fill="#801694"/>
<g fill="#000">
<rect x="554.80" y="252.00" width="3.6" height="3.6"/>
<rect x="554.80" y="261.40" width="3.6" height="3.6"/>
<rect x="554.80" y="270.80" width="3.6" height="3.6"/>
<rect x="554.80" y="280.20" width="3.6" height="3.6"/>
<rect x="554.80" y="289.60" width="3.6" height="3.6"/>
<rect x="554.80" y="299.00" width="3.6" height="3.6"/>
<rect x="554.80" y="308.40" width="3.6" height="3.6"/>
<rect x="554.80" y="317.80" width="3.6" height="3.6"/>
<rect x="554.80" y="327.20" width="3.6" height="3.6"/>
<rect x="554.80" y="336.60" width="3.6" height="3.6"/>
<rect x="554.80" y="346.00" width="3.6" height="3.6"/>
<rect x="554.80" y="355.40" width="3.6" height="3.6"/>
<rect x="554.80" y="364.80" width="3.6" height="3.6"/>
<rect x="554.80" y="374.20" width="3.6" height="3.6"/>
<rect x="554.80" y="383.60" width="3.6" height="3.6"/>
<rect x="554.80" y="393.00" width="3.6" height="3.6"/>
<rect x="554.80" y="402.40" width="3.6" height="3.6"/>
<rect x="554.80" y="411.80" width="3.6" height="3.6"/>
<rect x="554.80" y="421.20" width="3.6" height="3.6"/>
<rect x="554.80" y="430.60" width="3.6" height="3.6"/>
<rect x="554.80" y="440.00" width="3.6" height="3.6"/>
<rect x="554.80" y="449.40" width="3.6" height="3.6"/>
<rect x="554.80" y="458.80" width="3.6" height="3.6"/>
<rect x="446.10" y="352.77" width="3.6" height="3.6"/>
<rect x="455.47" y="352.73" width="3.6" height="3.6"/>
<rect x="464.84" y="352.69" width="3.6" height="3.6"/>
<rect x="474.21" y="352.66" width="3.6" height="3.6"/>
<rect x="483.58" y="352.62" width="3.6" height="3.6"/>
<rect x="492.95" y="352.58" width="3.6" height="3.6"/>
<rect x="502.32" y="352.54" width="3.6" height="3.6"/>
<rect x="511.69" y="352.51" width="3.6" height="3.6"/>
<rect x="521.06" y="352.47" width="3.6" height="3.6"/>
<rect x="530.43" y="352.43" width="3.6" height="3.6"/>
<rect x="539.80" y="352.39" width="3.6" height="3.6"/>
<rect x="549.17" y="352.36" width="3.6" height="3.6"/>
<rect x="558.54" y="352.32" width="3.6" height="3.6"/>
<rect x="567.91" y="352.28" width="3.6" height="3.6"/>
<rect x="577.28" y="352.24" width="3.6" height="3.6"/>
<rect x="586.65" y="352.21" width="3.6" height="3.6"/>
<rect x="596.02" y="352.17" width="3.6" height="3.6"/>
<rect x="605.39" y="352.13" width="3.6" height="3.6"/>
<rect x="614.76" y="352.09" width="3.6" height="3.6"/>
<rect x="624.13" y="352.06" width="3.6" height="3.6"/>
<rect x="633.50" y="352.02" width="3.6" height="3.6"/>
<rect x="642.87" y="351.98" width="3.6" height="3.6"/>
<rect x="652.24" y="351.94" width="3.6" height="3.6"/>
</g>
<g stroke="#000" fill="none" stroke-width="4.1" stroke-linecap="round" stroke-linejoin="miter" stroke-miterlimit="10">
<polyline points="548.4,256.2 556.6,242.4 564.8,256.2"/>
<polyline points="548.4,458.6 556.7,471.8 564.9,458.6"/>
<polyline points="450.4,347.6 436.4,354.8 450.4,362.4"/>
<polyline points="652.6,345.7 666.8,352.9 652.6,360.1"/>
</g>
<path d="M417.70,455.10 C420.07,454.63 426.98,453.50 431.90,452.30 C436.82,451.10 442.45,449.73 447.20,447.90 C451.95,446.07 456.57,443.85 460.40,441.30 C464.23,438.75 467.28,435.88 470.20,432.60 C473.12,429.32 475.53,425.43 477.90,421.60 C480.27,417.77 481.80,414.93 484.40,409.60 C487.00,404.27 490.50,396.30 493.50,389.60 C496.50,382.90 499.68,375.25 502.40,369.40 C505.12,363.55 506.90,360.10 509.80,354.50 C512.70,348.90 516.48,342.03 519.80,335.80 C523.12,329.57 526.38,322.90 529.70,317.10 C533.02,311.30 536.38,305.77 539.70,301.00 C543.02,296.23 546.70,291.82 549.60,288.50 C552.50,285.18 554.20,283.58 557.10,281.10 C560.00,278.62 563.27,275.88 567.00,273.60 C570.73,271.32 574.93,269.18 579.50,267.40 C584.07,265.62 589.83,264.03 594.40,262.90 C598.97,261.77 602.02,261.38 606.90,260.60 C611.78,259.82 618.08,258.87 623.70,258.20 C629.32,257.53 634.97,257.00 640.60,256.60 C646.23,256.20 651.43,255.92 657.50,255.80 C663.57,255.68 673.75,255.88 677.00,255.90 L677.00,255.90 C674.60,256.33 666.98,257.50 662.60,258.50 C658.22,259.50 654.08,260.48 650.70,261.90 C647.32,263.32 644.82,265.03 642.30,267.00 C639.78,268.97 637.57,271.32 635.60,273.70 C633.63,276.08 632.20,278.48 630.50,281.30 C628.80,284.12 627.08,287.08 625.40,290.60 C623.72,294.12 622.08,298.47 620.40,302.40 C618.72,306.33 617.13,309.98 615.30,314.20 C613.47,318.42 611.23,323.40 609.40,327.70 C607.57,332.00 606.18,335.53 604.30,340.00 C602.42,344.47 600.02,349.75 598.10,354.50 C596.18,359.25 594.40,364.47 592.80,368.50 C591.20,372.53 590.05,375.33 588.50,378.70 C586.95,382.07 585.37,385.18 583.50,388.70 C581.63,392.22 579.37,396.28 577.30,399.80 C575.23,403.32 573.17,406.90 571.10,409.80 C569.03,412.70 567.18,414.80 564.90,417.20 C562.62,419.60 559.88,422.18 557.40,424.20 C554.92,426.22 552.90,427.57 550.00,429.30 C547.10,431.03 543.27,433.02 540.00,434.60 C536.73,436.18 535.65,437.02 530.40,438.80 C525.15,440.58 515.80,443.50 508.50,445.30 C501.20,447.10 493.90,448.40 486.60,449.60 C479.30,450.80 472.00,451.72 464.70,452.50 C457.40,453.28 450.63,453.87 442.80,454.30 C434.97,454.73 421.88,454.97 417.70,455.10" fill="none" stroke="#ff1a0e" stroke-width="4" stroke-linejoin="round"/>
<text x="523" y="260" font-family="Liberation Serif, serif" font-weight="bold" font-style="italic" filter="url(#sh)" font-size="29.5" fill="#000" textLength="19" lengthAdjust="spacingAndGlyphs">P</text>
<rect x="422.5" y="328.6" width="15.2" height="2.3" fill="#000" filter="url(#sh)"/>
<text x="437.2" y="336.6" font-family="Liberation Serif, serif" font-weight="bold" font-style="italic" filter="url(#sh)" font-size="29.5" fill="#000" textLength="22" lengthAdjust="spacingAndGlyphs">E</text>
<text x="650.8" y="388" font-family="Liberation Serif, serif" font-weight="bold" font-style="italic" filter="url(#sh)" font-size="29.5" fill="#000" textLength="21" lengthAdjust="spacingAndGlyphs">E</text>
<rect x="570.6" y="465.6" width="14.8" height="2.3" fill="#000" filter="url(#sh)"/>
<text x="585.5" y="474.3" font-family="Liberation Serif, serif" font-weight="bold" font-style="italic" filter="url(#sh)" font-size="29.5" fill="#000" textLength="19.5" lengthAdjust="spacingAndGlyphs">P</text>
</svg>
</body></html>
